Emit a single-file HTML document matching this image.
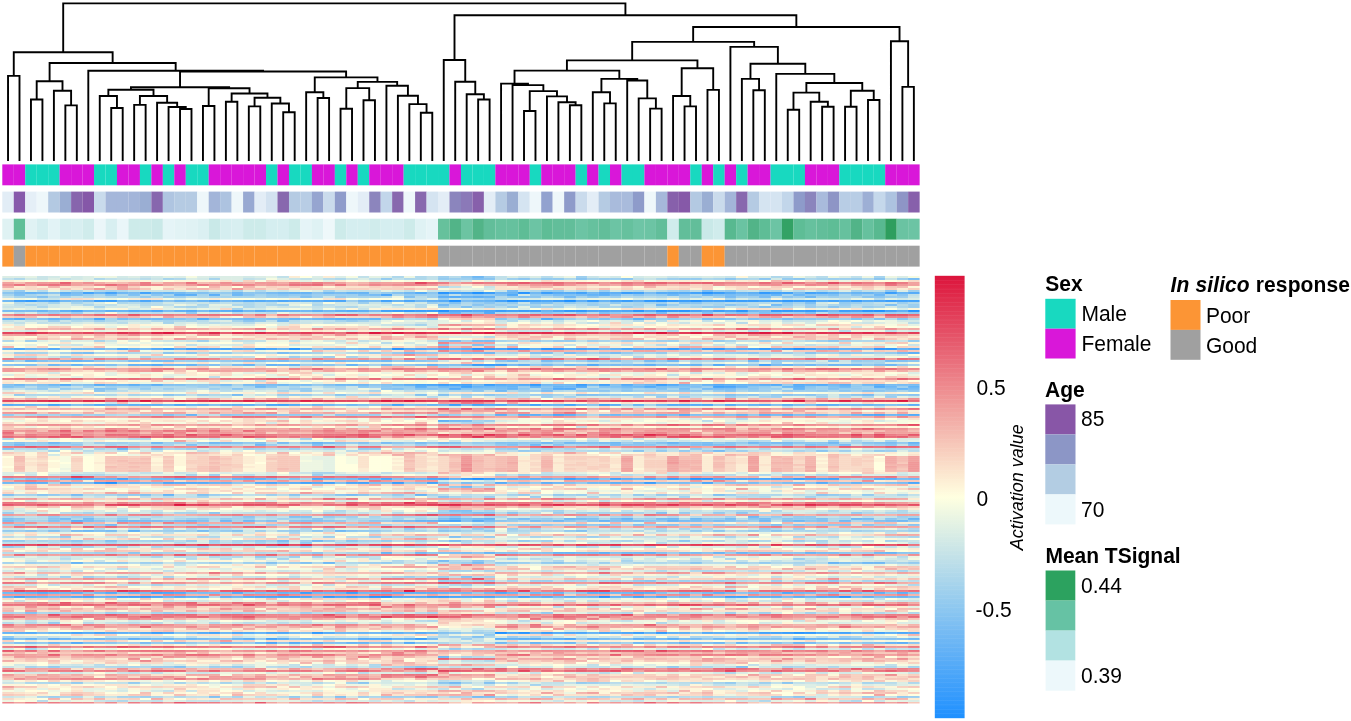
<!DOCTYPE html>
<html><head><meta charset="utf-8"><title>Heatmap</title>
<style>html,body{margin:0;padding:0;background:#fff;width:1351px;height:721px;overflow:hidden}svg{display:block;font-family:"Liberation Sans",sans-serif}#w{filter:blur(0.3px);width:1351px;height:721px}</style>
</head><body><div id="w"><svg width="1351" height="721" viewBox="0 0 1351 721" ><rect width="1351" height="721" fill="#fff"/><path d="M8.03 160.00V75.90H19.50V160.00M30.97 160.00V99.50H42.43V160.00M65.36 160.00V105.40H76.83V160.00M53.90 160.00V90.80H71.10V105.40M36.70 99.50V81.30H62.50V90.80M111.23 160.00V108.00H122.70V160.00M99.76 160.00V96.00H116.96V108.00M134.16 160.00V104.90H145.63V160.00M180.03 160.00V109.00H191.49V160.00M168.56 160.00V107.00H185.76V109.00M157.09 160.00V102.80H177.16V107.00M139.90 104.90V96.00H167.13V102.80M108.36 96.00V89.80H153.51V96.00M202.96 160.00V106.00H214.43V160.00M225.89 160.00V101.80H237.36V160.00M248.82 160.00V106.40H260.29V160.00M283.22 160.00V112.20H294.69V160.00M271.76 160.00V103.50H288.96V112.20M254.56 106.40V97.70H280.36V103.50M231.63 101.80V93.50H267.46V97.70M208.69 106.00V88.30H249.54V93.50M130.94 89.80V87.30H229.12V88.30M317.62 160.00V98.00H329.09V160.00M306.16 160.00V92.20H323.36V98.00M340.55 160.00V108.70H352.02V160.00M363.49 160.00V100.30H374.95V160.00M346.29 108.70V88.10H369.22V100.30M420.82 160.00V112.80H432.28V160.00M409.35 160.00V104.10H426.55V112.80M397.89 160.00V95.70H417.95V104.10M386.42 160.00V85.80H407.92V95.70M357.75 88.10V81.90H397.17V85.80M314.76 92.20V77.40H377.46V81.90M180.03 87.30V71.50H346.11V77.40M88.30 160.00V70.70H263.07V71.50M49.60 81.30V63.00H175.68V70.70M13.77 75.90V52.30H112.64V63.00M478.15 160.00V99.50H489.62V160.00M466.68 160.00V94.20H483.88V99.50M455.22 160.00V81.70H475.28V94.20M443.75 160.00V60.00H465.25V81.70M524.01 160.00V111.00H535.48V160.00M569.88 160.00V105.20H581.35V160.00M558.41 160.00V102.20H575.61V105.20M546.95 160.00V96.40H567.01V102.20M529.75 111.00V91.10H556.98V96.40M512.55 160.00V85.10H543.36V91.10M501.08 160.00V83.60H527.96V85.10M604.28 160.00V103.40H615.74V160.00M592.81 160.00V92.20H610.01V103.40M650.14 160.00V108.60H661.61V160.00M638.68 160.00V98.40H655.88V108.60M627.21 160.00V80.50H647.28V98.40M601.41 92.20V78.90H637.24V80.50M514.52 83.60V70.60H619.33V78.90M684.54 160.00V106.40H696.01V160.00M673.08 160.00V96.00H690.27V106.40M707.47 160.00V89.90H718.94V160.00M681.68 96.00V68.20H713.21V89.90M566.92 70.60V60.40H697.44V68.20M753.34 160.00V90.30H764.81V160.00M741.87 160.00V78.90H759.07V90.30M787.74 160.00V109.80H799.20V160.00M822.14 160.00V106.80H833.60V160.00M810.67 160.00V101.80H827.87V106.80M793.47 109.80V92.60H819.27V101.80M845.07 160.00V106.80H856.54V160.00M868.00 160.00V100.00H879.47V160.00M850.80 106.80V90.80H873.74V100.00M806.37 92.60V83.00H862.27V90.80M776.27 160.00V73.90H834.32V83.00M750.47 78.90V63.80H805.30V73.90M730.41 160.00V46.90H777.88V63.80M632.18 60.40V41.90H754.15V46.90M902.40 160.00V86.90H913.87V160.00M890.93 160.00V41.20H908.13V86.90M693.16 41.90V27.00H899.53V41.20M454.50 60.00V15.30H796.35V27.00M63.20 52.30V3.40H625.42V15.30" fill="none" stroke="#000" stroke-width="1.9" stroke-linejoin="miter" stroke-linecap="square"/><rect x="2.30" y="164.4" width="11.52" height="20.9" fill="#d917d9"/><rect x="2.30" y="191.6" width="11.52" height="20.9" fill="#e2edf6"/><rect x="2.30" y="218.7" width="11.52" height="20.9" fill="#dff2f3"/><rect x="2.30" y="245.7" width="11.52" height="20.9" fill="#fc9535"/><rect x="13.77" y="164.4" width="11.52" height="20.9" fill="#d917d9"/><rect x="13.77" y="191.6" width="11.52" height="20.9" fill="#875aab"/><rect x="13.77" y="218.7" width="11.52" height="20.9" fill="#5fbf98"/><rect x="13.77" y="245.7" width="11.52" height="20.9" fill="#a0a0a0"/><rect x="25.23" y="164.4" width="11.52" height="20.9" fill="#18d9c0"/><rect x="25.23" y="191.6" width="11.52" height="20.9" fill="#e5eff7"/><rect x="25.23" y="218.7" width="11.52" height="20.9" fill="#e0f2f4"/><rect x="25.23" y="245.7" width="11.52" height="20.9" fill="#fc9535"/><rect x="36.70" y="164.4" width="11.52" height="20.9" fill="#18d9c0"/><rect x="36.70" y="191.6" width="11.52" height="20.9" fill="#eef7fa"/><rect x="36.70" y="218.7" width="11.52" height="20.9" fill="#d5eef0"/><rect x="36.70" y="245.7" width="11.52" height="20.9" fill="#fc9535"/><rect x="48.16" y="164.4" width="11.52" height="20.9" fill="#18d9c0"/><rect x="48.16" y="191.6" width="11.52" height="20.9" fill="#b3c9e2"/><rect x="48.16" y="218.7" width="11.52" height="20.9" fill="#e2f3f6"/><rect x="48.16" y="245.7" width="11.52" height="20.9" fill="#fc9535"/><rect x="59.63" y="164.4" width="11.52" height="20.9" fill="#d917d9"/><rect x="59.63" y="191.6" width="11.52" height="20.9" fill="#9aaed3"/><rect x="59.63" y="218.7" width="11.52" height="20.9" fill="#d5eef0"/><rect x="59.63" y="245.7" width="11.52" height="20.9" fill="#fc9535"/><rect x="71.10" y="164.4" width="11.52" height="20.9" fill="#d917d9"/><rect x="71.10" y="191.6" width="11.52" height="20.9" fill="#8765ad"/><rect x="71.10" y="218.7" width="11.52" height="20.9" fill="#d8eff1"/><rect x="71.10" y="245.7" width="11.52" height="20.9" fill="#fc9535"/><rect x="82.56" y="164.4" width="11.52" height="20.9" fill="#d917d9"/><rect x="82.56" y="191.6" width="11.52" height="20.9" fill="#8557a8"/><rect x="82.56" y="218.7" width="11.52" height="20.9" fill="#d0ecec"/><rect x="82.56" y="245.7" width="11.52" height="20.9" fill="#fc9535"/><rect x="94.03" y="164.4" width="11.52" height="20.9" fill="#18d9c0"/><rect x="94.03" y="191.6" width="11.52" height="20.9" fill="#c9dbec"/><rect x="94.03" y="218.7" width="11.52" height="20.9" fill="#ebf6f9"/><rect x="94.03" y="245.7" width="11.52" height="20.9" fill="#fc9535"/><rect x="105.50" y="164.4" width="11.52" height="20.9" fill="#18d9c0"/><rect x="105.50" y="191.6" width="11.52" height="20.9" fill="#a5b7da"/><rect x="105.50" y="218.7" width="11.52" height="20.9" fill="#d8eff1"/><rect x="105.50" y="245.7" width="11.52" height="20.9" fill="#fc9535"/><rect x="116.96" y="164.4" width="11.52" height="20.9" fill="#d917d9"/><rect x="116.96" y="191.6" width="11.52" height="20.9" fill="#a5b7da"/><rect x="116.96" y="218.7" width="11.52" height="20.9" fill="#eaf6f9"/><rect x="116.96" y="245.7" width="11.52" height="20.9" fill="#fc9535"/><rect x="128.43" y="164.4" width="11.52" height="20.9" fill="#d917d9"/><rect x="128.43" y="191.6" width="11.52" height="20.9" fill="#a3b5d9"/><rect x="128.43" y="218.7" width="11.52" height="20.9" fill="#cdebea"/><rect x="128.43" y="245.7" width="11.52" height="20.9" fill="#fc9535"/><rect x="139.90" y="164.4" width="11.52" height="20.9" fill="#18d9c0"/><rect x="139.90" y="191.6" width="11.52" height="20.9" fill="#9aaed3"/><rect x="139.90" y="218.7" width="11.52" height="20.9" fill="#cdebea"/><rect x="139.90" y="245.7" width="11.52" height="20.9" fill="#fc9535"/><rect x="151.36" y="164.4" width="11.52" height="20.9" fill="#d917d9"/><rect x="151.36" y="191.6" width="11.52" height="20.9" fill="#8767ae"/><rect x="151.36" y="218.7" width="11.52" height="20.9" fill="#c9e9e8"/><rect x="151.36" y="245.7" width="11.52" height="20.9" fill="#fc9535"/><rect x="162.83" y="164.4" width="11.52" height="20.9" fill="#18d9c0"/><rect x="162.83" y="191.6" width="11.52" height="20.9" fill="#afc5e1"/><rect x="162.83" y="218.7" width="11.52" height="20.9" fill="#e5f4f7"/><rect x="162.83" y="245.7" width="11.52" height="20.9" fill="#fc9535"/><rect x="174.29" y="164.4" width="11.52" height="20.9" fill="#d917d9"/><rect x="174.29" y="191.6" width="11.52" height="20.9" fill="#b5cbe3"/><rect x="174.29" y="218.7" width="11.52" height="20.9" fill="#e2f3f5"/><rect x="174.29" y="245.7" width="11.52" height="20.9" fill="#fc9535"/><rect x="185.76" y="164.4" width="11.52" height="20.9" fill="#18d9c0"/><rect x="185.76" y="191.6" width="11.52" height="20.9" fill="#b5cbe3"/><rect x="185.76" y="218.7" width="11.52" height="20.9" fill="#e0f2f4"/><rect x="185.76" y="245.7" width="11.52" height="20.9" fill="#fc9535"/><rect x="197.23" y="164.4" width="11.52" height="20.9" fill="#18d9c0"/><rect x="197.23" y="191.6" width="11.52" height="20.9" fill="#eef7fa"/><rect x="197.23" y="218.7" width="11.52" height="20.9" fill="#dbf0f2"/><rect x="197.23" y="245.7" width="11.52" height="20.9" fill="#fc9535"/><rect x="208.69" y="164.4" width="11.52" height="20.9" fill="#d917d9"/><rect x="208.69" y="191.6" width="11.52" height="20.9" fill="#a3b5d9"/><rect x="208.69" y="218.7" width="11.52" height="20.9" fill="#c9e9e8"/><rect x="208.69" y="245.7" width="11.52" height="20.9" fill="#fc9535"/><rect x="220.16" y="164.4" width="11.52" height="20.9" fill="#d917d9"/><rect x="220.16" y="191.6" width="11.52" height="20.9" fill="#adc3e0"/><rect x="220.16" y="218.7" width="11.52" height="20.9" fill="#d5eef0"/><rect x="220.16" y="245.7" width="11.52" height="20.9" fill="#fc9535"/><rect x="231.63" y="164.4" width="11.52" height="20.9" fill="#d917d9"/><rect x="231.63" y="191.6" width="11.52" height="20.9" fill="#eef7fa"/><rect x="231.63" y="218.7" width="11.52" height="20.9" fill="#d8eff1"/><rect x="231.63" y="245.7" width="11.52" height="20.9" fill="#fc9535"/><rect x="243.09" y="164.4" width="11.52" height="20.9" fill="#d917d9"/><rect x="243.09" y="191.6" width="11.52" height="20.9" fill="#98a9d2"/><rect x="243.09" y="218.7" width="11.52" height="20.9" fill="#cdebea"/><rect x="243.09" y="245.7" width="11.52" height="20.9" fill="#fc9535"/><rect x="254.56" y="164.4" width="11.52" height="20.9" fill="#d917d9"/><rect x="254.56" y="191.6" width="11.52" height="20.9" fill="#e3edf6"/><rect x="254.56" y="218.7" width="11.52" height="20.9" fill="#cdebea"/><rect x="254.56" y="245.7" width="11.52" height="20.9" fill="#fc9535"/><rect x="266.02" y="164.4" width="11.52" height="20.9" fill="#18d9c0"/><rect x="266.02" y="191.6" width="11.52" height="20.9" fill="#d3e2f0"/><rect x="266.02" y="218.7" width="11.52" height="20.9" fill="#d5eef0"/><rect x="266.02" y="245.7" width="11.52" height="20.9" fill="#fc9535"/><rect x="277.49" y="164.4" width="11.52" height="20.9" fill="#d917d9"/><rect x="277.49" y="191.6" width="11.52" height="20.9" fill="#8868ae"/><rect x="277.49" y="218.7" width="11.52" height="20.9" fill="#d5eef0"/><rect x="277.49" y="245.7" width="11.52" height="20.9" fill="#fc9535"/><rect x="288.96" y="164.4" width="11.52" height="20.9" fill="#18d9c0"/><rect x="288.96" y="191.6" width="11.52" height="20.9" fill="#b5cbe3"/><rect x="288.96" y="218.7" width="11.52" height="20.9" fill="#cdebea"/><rect x="288.96" y="245.7" width="11.52" height="20.9" fill="#fc9535"/><rect x="300.42" y="164.4" width="11.52" height="20.9" fill="#18d9c0"/><rect x="300.42" y="191.6" width="11.52" height="20.9" fill="#b8cde5"/><rect x="300.42" y="218.7" width="11.52" height="20.9" fill="#e5f4f7"/><rect x="300.42" y="245.7" width="11.52" height="20.9" fill="#fc9535"/><rect x="311.89" y="164.4" width="11.52" height="20.9" fill="#d917d9"/><rect x="311.89" y="191.6" width="11.52" height="20.9" fill="#96a5d0"/><rect x="311.89" y="218.7" width="11.52" height="20.9" fill="#dff2f4"/><rect x="311.89" y="245.7" width="11.52" height="20.9" fill="#fc9535"/><rect x="323.36" y="164.4" width="11.52" height="20.9" fill="#d917d9"/><rect x="323.36" y="191.6" width="11.52" height="20.9" fill="#cadbec"/><rect x="323.36" y="218.7" width="11.52" height="20.9" fill="#eef8fa"/><rect x="323.36" y="245.7" width="11.52" height="20.9" fill="#fc9535"/><rect x="334.82" y="164.4" width="11.52" height="20.9" fill="#18d9c0"/><rect x="334.82" y="191.6" width="11.52" height="20.9" fill="#8f9ccb"/><rect x="334.82" y="218.7" width="11.52" height="20.9" fill="#cdebea"/><rect x="334.82" y="245.7" width="11.52" height="20.9" fill="#fc9535"/><rect x="346.29" y="164.4" width="11.52" height="20.9" fill="#d917d9"/><rect x="346.29" y="191.6" width="11.52" height="20.9" fill="#eef7fa"/><rect x="346.29" y="218.7" width="11.52" height="20.9" fill="#d5eef0"/><rect x="346.29" y="245.7" width="11.52" height="20.9" fill="#fc9535"/><rect x="357.75" y="164.4" width="11.52" height="20.9" fill="#18d9c0"/><rect x="357.75" y="191.6" width="11.52" height="20.9" fill="#e3edf6"/><rect x="357.75" y="218.7" width="11.52" height="20.9" fill="#d5eef0"/><rect x="357.75" y="245.7" width="11.52" height="20.9" fill="#fc9535"/><rect x="369.22" y="164.4" width="11.52" height="20.9" fill="#d917d9"/><rect x="369.22" y="191.6" width="11.52" height="20.9" fill="#8c85bd"/><rect x="369.22" y="218.7" width="11.52" height="20.9" fill="#d0ecec"/><rect x="369.22" y="245.7" width="11.52" height="20.9" fill="#fc9535"/><rect x="380.69" y="164.4" width="11.52" height="20.9" fill="#d917d9"/><rect x="380.69" y="191.6" width="11.52" height="20.9" fill="#c2d6ea"/><rect x="380.69" y="218.7" width="11.52" height="20.9" fill="#d5eef0"/><rect x="380.69" y="245.7" width="11.52" height="20.9" fill="#fc9535"/><rect x="392.15" y="164.4" width="11.52" height="20.9" fill="#d917d9"/><rect x="392.15" y="191.6" width="11.52" height="20.9" fill="#8868ae"/><rect x="392.15" y="218.7" width="11.52" height="20.9" fill="#d5eef0"/><rect x="392.15" y="245.7" width="11.52" height="20.9" fill="#fc9535"/><rect x="403.62" y="164.4" width="11.52" height="20.9" fill="#18d9c0"/><rect x="403.62" y="191.6" width="11.52" height="20.9" fill="#eef7fa"/><rect x="403.62" y="218.7" width="11.52" height="20.9" fill="#cdebea"/><rect x="403.62" y="245.7" width="11.52" height="20.9" fill="#fc9535"/><rect x="415.09" y="164.4" width="11.52" height="20.9" fill="#18d9c0"/><rect x="415.09" y="191.6" width="11.52" height="20.9" fill="#8868ae"/><rect x="415.09" y="218.7" width="11.52" height="20.9" fill="#dff2f4"/><rect x="415.09" y="245.7" width="11.52" height="20.9" fill="#fc9535"/><rect x="426.55" y="164.4" width="11.52" height="20.9" fill="#18d9c0"/><rect x="426.55" y="191.6" width="11.52" height="20.9" fill="#d5e4f1"/><rect x="426.55" y="218.7" width="11.52" height="20.9" fill="#e5f4f7"/><rect x="426.55" y="245.7" width="11.52" height="20.9" fill="#fc9535"/><rect x="438.02" y="164.4" width="11.52" height="20.9" fill="#18d9c0"/><rect x="438.02" y="191.6" width="11.52" height="20.9" fill="#e3edf6"/><rect x="438.02" y="218.7" width="11.52" height="20.9" fill="#66c19c"/><rect x="438.02" y="245.7" width="11.52" height="20.9" fill="#a0a0a0"/><rect x="449.48" y="164.4" width="11.52" height="20.9" fill="#d917d9"/><rect x="449.48" y="191.6" width="11.52" height="20.9" fill="#8b85bd"/><rect x="449.48" y="218.7" width="11.52" height="20.9" fill="#52b488"/><rect x="449.48" y="245.7" width="11.52" height="20.9" fill="#a0a0a0"/><rect x="460.95" y="164.4" width="11.52" height="20.9" fill="#18d9c0"/><rect x="460.95" y="191.6" width="11.52" height="20.9" fill="#8b79b8"/><rect x="460.95" y="218.7" width="11.52" height="20.9" fill="#6cc4a2"/><rect x="460.95" y="245.7" width="11.52" height="20.9" fill="#a0a0a0"/><rect x="472.42" y="164.4" width="11.52" height="20.9" fill="#18d9c0"/><rect x="472.42" y="191.6" width="11.52" height="20.9" fill="#8760ab"/><rect x="472.42" y="218.7" width="11.52" height="20.9" fill="#52b488"/><rect x="472.42" y="245.7" width="11.52" height="20.9" fill="#a0a0a0"/><rect x="483.88" y="164.4" width="11.52" height="20.9" fill="#18d9c0"/><rect x="483.88" y="191.6" width="11.52" height="20.9" fill="#e3edf6"/><rect x="483.88" y="218.7" width="11.52" height="20.9" fill="#62be9a"/><rect x="483.88" y="245.7" width="11.52" height="20.9" fill="#a0a0a0"/><rect x="495.35" y="164.4" width="11.52" height="20.9" fill="#d917d9"/><rect x="495.35" y="191.6" width="11.52" height="20.9" fill="#b5cbe3"/><rect x="495.35" y="218.7" width="11.52" height="20.9" fill="#66c19e"/><rect x="495.35" y="245.7" width="11.52" height="20.9" fill="#a0a0a0"/><rect x="506.82" y="164.4" width="11.52" height="20.9" fill="#d917d9"/><rect x="506.82" y="191.6" width="11.52" height="20.9" fill="#9aaed3"/><rect x="506.82" y="218.7" width="11.52" height="20.9" fill="#66c19e"/><rect x="506.82" y="245.7" width="11.52" height="20.9" fill="#a0a0a0"/><rect x="518.28" y="164.4" width="11.52" height="20.9" fill="#d917d9"/><rect x="518.28" y="191.6" width="11.52" height="20.9" fill="#d5e4f1"/><rect x="518.28" y="218.7" width="11.52" height="20.9" fill="#5ebd96"/><rect x="518.28" y="245.7" width="11.52" height="20.9" fill="#a0a0a0"/><rect x="529.75" y="164.4" width="11.52" height="20.9" fill="#18d9c0"/><rect x="529.75" y="191.6" width="11.52" height="20.9" fill="#eef7fa"/><rect x="529.75" y="218.7" width="11.52" height="20.9" fill="#6cc4a4"/><rect x="529.75" y="245.7" width="11.52" height="20.9" fill="#a0a0a0"/><rect x="541.21" y="164.4" width="11.52" height="20.9" fill="#d917d9"/><rect x="541.21" y="191.6" width="11.52" height="20.9" fill="#92a2cf"/><rect x="541.21" y="218.7" width="11.52" height="20.9" fill="#5ebd96"/><rect x="541.21" y="245.7" width="11.52" height="20.9" fill="#a0a0a0"/><rect x="552.68" y="164.4" width="11.52" height="20.9" fill="#d917d9"/><rect x="552.68" y="191.6" width="11.52" height="20.9" fill="#eef7fa"/><rect x="552.68" y="218.7" width="11.52" height="20.9" fill="#62be9a"/><rect x="552.68" y="245.7" width="11.52" height="20.9" fill="#a0a0a0"/><rect x="564.15" y="164.4" width="11.52" height="20.9" fill="#d917d9"/><rect x="564.15" y="191.6" width="11.52" height="20.9" fill="#8e9bca"/><rect x="564.15" y="218.7" width="11.52" height="20.9" fill="#62be9a"/><rect x="564.15" y="245.7" width="11.52" height="20.9" fill="#a0a0a0"/><rect x="575.61" y="164.4" width="11.52" height="20.9" fill="#18d9c0"/><rect x="575.61" y="191.6" width="11.52" height="20.9" fill="#cadbec"/><rect x="575.61" y="218.7" width="11.52" height="20.9" fill="#6cc4a4"/><rect x="575.61" y="245.7" width="11.52" height="20.9" fill="#a0a0a0"/><rect x="587.08" y="164.4" width="11.52" height="20.9" fill="#d917d9"/><rect x="587.08" y="191.6" width="11.52" height="20.9" fill="#e3edf6"/><rect x="587.08" y="218.7" width="11.52" height="20.9" fill="#66c19e"/><rect x="587.08" y="245.7" width="11.52" height="20.9" fill="#a0a0a0"/><rect x="598.54" y="164.4" width="11.52" height="20.9" fill="#18d9c0"/><rect x="598.54" y="191.6" width="11.52" height="20.9" fill="#b5cbe3"/><rect x="598.54" y="218.7" width="11.52" height="20.9" fill="#62be9a"/><rect x="598.54" y="245.7" width="11.52" height="20.9" fill="#a0a0a0"/><rect x="610.01" y="164.4" width="11.52" height="20.9" fill="#d917d9"/><rect x="610.01" y="191.6" width="11.52" height="20.9" fill="#a9bbdc"/><rect x="610.01" y="218.7" width="11.52" height="20.9" fill="#6cc4a4"/><rect x="610.01" y="245.7" width="11.52" height="20.9" fill="#a0a0a0"/><rect x="621.48" y="164.4" width="11.52" height="20.9" fill="#18d9c0"/><rect x="621.48" y="191.6" width="11.52" height="20.9" fill="#a9bbdc"/><rect x="621.48" y="218.7" width="11.52" height="20.9" fill="#66c19e"/><rect x="621.48" y="245.7" width="11.52" height="20.9" fill="#a0a0a0"/><rect x="632.94" y="164.4" width="11.52" height="20.9" fill="#18d9c0"/><rect x="632.94" y="191.6" width="11.52" height="20.9" fill="#8e9bca"/><rect x="632.94" y="218.7" width="11.52" height="20.9" fill="#6ec5a6"/><rect x="632.94" y="245.7" width="11.52" height="20.9" fill="#a0a0a0"/><rect x="644.41" y="164.4" width="11.52" height="20.9" fill="#d917d9"/><rect x="644.41" y="191.6" width="11.52" height="20.9" fill="#eef7fa"/><rect x="644.41" y="218.7" width="11.52" height="20.9" fill="#6cc4a4"/><rect x="644.41" y="245.7" width="11.52" height="20.9" fill="#a0a0a0"/><rect x="655.88" y="164.4" width="11.52" height="20.9" fill="#d917d9"/><rect x="655.88" y="191.6" width="11.52" height="20.9" fill="#a6b8da"/><rect x="655.88" y="218.7" width="11.52" height="20.9" fill="#62be9a"/><rect x="655.88" y="245.7" width="11.52" height="20.9" fill="#a0a0a0"/><rect x="667.34" y="164.4" width="11.52" height="20.9" fill="#d917d9"/><rect x="667.34" y="191.6" width="11.52" height="20.9" fill="#8760ab"/><rect x="667.34" y="218.7" width="11.52" height="20.9" fill="#d0ecec"/><rect x="667.34" y="245.7" width="11.52" height="20.9" fill="#fc9535"/><rect x="678.81" y="164.4" width="11.52" height="20.9" fill="#d917d9"/><rect x="678.81" y="191.6" width="11.52" height="20.9" fill="#8659a8"/><rect x="678.81" y="218.7" width="11.52" height="20.9" fill="#62be9a"/><rect x="678.81" y="245.7" width="11.52" height="20.9" fill="#a0a0a0"/><rect x="690.27" y="164.4" width="11.52" height="20.9" fill="#18d9c0"/><rect x="690.27" y="191.6" width="11.52" height="20.9" fill="#b3c9e2"/><rect x="690.27" y="218.7" width="11.52" height="20.9" fill="#62be9a"/><rect x="690.27" y="245.7" width="11.52" height="20.9" fill="#a0a0a0"/><rect x="701.74" y="164.4" width="11.52" height="20.9" fill="#d917d9"/><rect x="701.74" y="191.6" width="11.52" height="20.9" fill="#9aaed3"/><rect x="701.74" y="218.7" width="11.52" height="20.9" fill="#c9e9e8"/><rect x="701.74" y="245.7" width="11.52" height="20.9" fill="#fc9535"/><rect x="713.21" y="164.4" width="11.52" height="20.9" fill="#18d9c0"/><rect x="713.21" y="191.6" width="11.52" height="20.9" fill="#cadbec"/><rect x="713.21" y="218.7" width="11.52" height="20.9" fill="#d0ecec"/><rect x="713.21" y="245.7" width="11.52" height="20.9" fill="#fc9535"/><rect x="724.67" y="164.4" width="11.52" height="20.9" fill="#d917d9"/><rect x="724.67" y="191.6" width="11.52" height="20.9" fill="#a3b5d9"/><rect x="724.67" y="218.7" width="11.52" height="20.9" fill="#58b990"/><rect x="724.67" y="245.7" width="11.52" height="20.9" fill="#a0a0a0"/><rect x="736.14" y="164.4" width="11.52" height="20.9" fill="#18d9c0"/><rect x="736.14" y="191.6" width="11.52" height="20.9" fill="#8868ae"/><rect x="736.14" y="218.7" width="11.52" height="20.9" fill="#6ac3a2"/><rect x="736.14" y="245.7" width="11.52" height="20.9" fill="#a0a0a0"/><rect x="747.61" y="164.4" width="11.52" height="20.9" fill="#d917d9"/><rect x="747.61" y="191.6" width="11.52" height="20.9" fill="#b5cbe3"/><rect x="747.61" y="218.7" width="11.52" height="20.9" fill="#52b488"/><rect x="747.61" y="245.7" width="11.52" height="20.9" fill="#a0a0a0"/><rect x="759.07" y="164.4" width="11.52" height="20.9" fill="#d917d9"/><rect x="759.07" y="191.6" width="11.52" height="20.9" fill="#d5e4f1"/><rect x="759.07" y="218.7" width="11.52" height="20.9" fill="#5ebd96"/><rect x="759.07" y="245.7" width="11.52" height="20.9" fill="#a0a0a0"/><rect x="770.54" y="164.4" width="11.52" height="20.9" fill="#18d9c0"/><rect x="770.54" y="191.6" width="11.52" height="20.9" fill="#d5e4f1"/><rect x="770.54" y="218.7" width="11.52" height="20.9" fill="#6cc4a4"/><rect x="770.54" y="245.7" width="11.52" height="20.9" fill="#a0a0a0"/><rect x="782.00" y="164.4" width="11.52" height="20.9" fill="#18d9c0"/><rect x="782.00" y="191.6" width="11.52" height="20.9" fill="#c2d6ea"/><rect x="782.00" y="218.7" width="11.52" height="20.9" fill="#33a265"/><rect x="782.00" y="245.7" width="11.52" height="20.9" fill="#a0a0a0"/><rect x="793.47" y="164.4" width="11.52" height="20.9" fill="#18d9c0"/><rect x="793.47" y="191.6" width="11.52" height="20.9" fill="#8e9bca"/><rect x="793.47" y="218.7" width="11.52" height="20.9" fill="#5ebd96"/><rect x="793.47" y="245.7" width="11.52" height="20.9" fill="#a0a0a0"/><rect x="804.94" y="164.4" width="11.52" height="20.9" fill="#d917d9"/><rect x="804.94" y="191.6" width="11.52" height="20.9" fill="#8b85bd"/><rect x="804.94" y="218.7" width="11.52" height="20.9" fill="#66c19e"/><rect x="804.94" y="245.7" width="11.52" height="20.9" fill="#a0a0a0"/><rect x="816.40" y="164.4" width="11.52" height="20.9" fill="#d917d9"/><rect x="816.40" y="191.6" width="11.52" height="20.9" fill="#a9bbdc"/><rect x="816.40" y="218.7" width="11.52" height="20.9" fill="#62be9a"/><rect x="816.40" y="245.7" width="11.52" height="20.9" fill="#a0a0a0"/><rect x="827.87" y="164.4" width="11.52" height="20.9" fill="#d917d9"/><rect x="827.87" y="191.6" width="11.52" height="20.9" fill="#8e95c6"/><rect x="827.87" y="218.7" width="11.52" height="20.9" fill="#5ebd96"/><rect x="827.87" y="245.7" width="11.52" height="20.9" fill="#a0a0a0"/><rect x="839.34" y="164.4" width="11.52" height="20.9" fill="#18d9c0"/><rect x="839.34" y="191.6" width="11.52" height="20.9" fill="#b8cde5"/><rect x="839.34" y="218.7" width="11.52" height="20.9" fill="#66c19e"/><rect x="839.34" y="245.7" width="11.52" height="20.9" fill="#a0a0a0"/><rect x="850.80" y="164.4" width="11.52" height="20.9" fill="#18d9c0"/><rect x="850.80" y="191.6" width="11.52" height="20.9" fill="#b8cde5"/><rect x="850.80" y="218.7" width="11.52" height="20.9" fill="#52b488"/><rect x="850.80" y="245.7" width="11.52" height="20.9" fill="#a0a0a0"/><rect x="862.27" y="164.4" width="11.52" height="20.9" fill="#18d9c0"/><rect x="862.27" y="191.6" width="11.52" height="20.9" fill="#9dafd5"/><rect x="862.27" y="218.7" width="11.52" height="20.9" fill="#66c19e"/><rect x="862.27" y="245.7" width="11.52" height="20.9" fill="#a0a0a0"/><rect x="873.74" y="164.4" width="11.52" height="20.9" fill="#18d9c0"/><rect x="873.74" y="191.6" width="11.52" height="20.9" fill="#c5d8eb"/><rect x="873.74" y="218.7" width="11.52" height="20.9" fill="#58b990"/><rect x="873.74" y="245.7" width="11.52" height="20.9" fill="#a0a0a0"/><rect x="885.20" y="164.4" width="11.52" height="20.9" fill="#d917d9"/><rect x="885.20" y="191.6" width="11.52" height="20.9" fill="#adc3e0"/><rect x="885.20" y="218.7" width="11.52" height="20.9" fill="#2e9e5e"/><rect x="885.20" y="245.7" width="11.52" height="20.9" fill="#a0a0a0"/><rect x="896.67" y="164.4" width="11.52" height="20.9" fill="#d917d9"/><rect x="896.67" y="191.6" width="11.52" height="20.9" fill="#8e95c6"/><rect x="896.67" y="218.7" width="11.52" height="20.9" fill="#6ac3a2"/><rect x="896.67" y="245.7" width="11.52" height="20.9" fill="#a0a0a0"/><rect x="908.13" y="164.4" width="11.52" height="20.9" fill="#d917d9"/><rect x="908.13" y="191.6" width="11.52" height="20.9" fill="#8760ab"/><rect x="908.13" y="218.7" width="11.52" height="20.9" fill="#6cc4a4"/><rect x="908.13" y="245.7" width="11.52" height="20.9" fill="#a0a0a0"/><svg x="2.3" y="275.6" width="917.30" height="427.90" viewBox="0 0 80 214" preserveAspectRatio="none" shape-rendering="crispEdges"><g fill="none" stroke-width="1"><path stroke="#dbede5" d="M0 0.5h1m0 0h1m5 0h1m3 0h1m3 0h1m1 0h1m1 0h1m0 0h1m1 0h1m4 0h1m1 0h1m3 0h1m10 0h1m1 0h1m1 0h1m3 0h1m3 0h1m0 0h1m3 0h1m4 0h1m6 0h1m4 0h1M4 1.5h1m2 0h1m8 0h1m2 0h1m0 0h1m3 0h1m6 0h1M20 2.5h1M40 5.5h1M2 7.5h1m15 0h1m2 0h1m3 0h1m1 0h1m45 0h1m4 0h1M15 11.5h1m29 0h1m0 0h1m3 0h1m4 0h1m1 0h1m6 0h1m6 0h1m0 0h1m6 0h1M8 13.5h1m15 0h1m0 0h1M5 14.5h1m4 0h1m5 0h1m15 0h1m2 0h1M5 15.5h1m8 0h1m3 0h1m4 0h1M0 16.5h1m1 0h1m5 0h1m2 0h1m4 0h1m4 0h1m19 0h1m1 0h1m1 0h1m32 0h1M2 18.5h1m14 0h1m15 0h1M19 22.5h1m17 0h1m14 0h1m10 0h1m2 0h1m4 0h1m3 0h1M7 23.5h1m3 0h1m4 0h1m5 0h1m0 0h1m10 0h1m0 0h1m1 0h1m14 0h1m5 0h1m3 0h1m13 0h1M1 24.5h1m13 0h1m4 0h1m0 0h1m2 0h1m7 0h1m4 0h1M55 25.5h1M1 27.5h1m20 0h1m26 0h1m1 0h1m3 0h1m1 0h1m2 0h1m5 0h1m1 0h1m9 0h1M39 30.5h1m0 0h1m0 0h1M3 32.5h1m2 0h1m0 0h1M29 33.5h1M14 34.5h1m4 0h1m31 0h1m4 0h1m12 0h1m6 0h1M43 39.5h1m0 0h1m8 0h1m3 0h1m2 0h1m1 0h1m2 0h1M3 40.5h1m19 0h1m24 0h1m0 0h1m3 0h1m8 0h1m0 0h1m2 0h1m6 0h1m0 0h1m0 0h1m0 0h1M26 43.5h1m0 0h1m22 0h1m10 0h1m10 0h1m4 0h1m0 0h1M9 45.5h1M22 48.5h1m39 0h1m1 0h1m14 0h1M0 49.5h1m39 0h1m11 0h1M14 50.5h1M19 52.5h1M27 56.5h1m4 0h1M0 57.5h1m1 0h1m2 0h1m17 0h1M52 58.5h1m7 0h1M21 59.5h1M17 60.5h1m13 0h1m2 0h1m3 0h1m3 0h1m8 0h1m0 0h1M22 63.5h1m37 0h1M16 65.5h1m14 0h1m7 0h1m14 0h1m3 0h1m0 0h1m14 0h1M33 69.5h1m2 0h1M24 71.5h1m10 0h1M43 72.5h1M31 75.5h1M9 81.5h1m18 0h1m1 0h1m1 0h1m14 0h1m9 0h1m16 0h1m3 0h1m0 0h1M35 82.5h1m1 0h1m4 0h1m0 0h1m14 0h1m1 0h1m1 0h1m15 0h1M30 84.5h1M7 86.5h1m30 0h1m12 0h1m15 0h1M6 87.5h1m13 0h1m4 0h1m1 0h1m4 0h1m3 0h1m2 0h1m1 0h1m36 0h1M0 98.5h1m0 0h1m17 0h1m9 0h1m4 0h1m2 0h1m10 0h1m0 0h1m11 0h1m2 0h1M0 99.5h1m11 0h1m2 0h1m6 0h1m2 0h1m13 0h1m11 0h1m5 0h1m17 0h1m0 0h1m0 0h1m1 0h1M41 102.5h1M27 105.5h1m16 0h1m23 0h1m4 0h1M35 107.5h1m0 0h1m14 0h1m4 0h1m2 0h1m5 0h1m4 0h1M39 109.5h1M2 110.5h1m15 0h1m10 0h1m24 0h1m6 0h1m0 0h1m16 0h1M2 112.5h1m20 0h1m6 0h1m9 0h1m8 0h1m7 0h1m13 0h1m0 0h1M1 116.5h1m8 0h1m41 0h1M7 117.5h1m0 0h1m25 0h1m8 0h1m1 0h1m22 0h1m0 0h1m0 0h1m5 0h1m2 0h1M1 118.5h1m25 0h1m30 0h1m10 0h1M59 120.5h1M41 123.5h1M12 126.5h1m8 0h1m33 0h1m2 0h1m17 0h1M56 127.5h1M9 128.5h1m28 0h1m3 0h1m0 0h1m8 0h1m4 0h1m17 0h1M18 129.5h1M16 130.5h1m3 0h1m4 0h1m1 0h1m25 0h1m13 0h1m8 0h1M56 131.5h1m6 0h1m8 0h1M17 132.5h1m30 0h1m14 0h1m8 0h1M14 133.5h1m2 0h1m7 0h1m43 0h1m3 0h1M4 135.5h1m17 0h1m7 0h1m0 0h1m11 0h1m17 0h1m0 0h1m0 0h1m4 0h1M39 136.5h1M4 140.5h1m9 0h1m2 0h1m3 0h1m24 0h1m9 0h1m2 0h1m0 0h1m4 0h1m3 0h1m0 0h1m2 0h1M2 141.5h1m0 0h1m0 0h1m13 0h1m8 0h1m1 0h1m6 0h1m8 0h1m28 0h1m0 0h1M5 142.5h1m17 0h1m9 0h1m2 0h1m14 0h1m0 0h1m19 0h1m1 0h1M13 144.5h1m39 0h1m11 0h1m1 0h1m4 0h1m5 0h1M1 146.5h1m1 0h1m0 0h1m4 0h1m8 0h1m0 0h1M22 147.5h1m0 0h1m6 0h1m5 0h1m9 0h1m1 0h1m6 0h1m3 0h1m16 0h1M13 149.5h1m11 0h1m33 0h1m5 0h1M0 150.5h1m14 0h1m1 0h1m0 0h1m7 0h1m3 0h1m1 0h1m12 0h1m1 0h1m3 0h1m4 0h1m0 0h1m12 0h1m2 0h1m5 0h1M11 152.5h1m19 0h1m0 0h1m3 0h1m8 0h1m20 0h1M1 154.5h1m3 0h1m12 0h1m11 0h1m1 0h1m10 0h1m1 0h1m18 0h1m4 0h1m8 0h1M24 156.5h1M53 161.5h1m10 0h1m2 0h1m11 0h1M4 162.5h1m5 0h1m0 0h1m3 0h1m12 0h1m4 0h1m9 0h1m4 0h1m22 0h1m0 0h1M54 165.5h1m11 0h1m4 0h1m0 0h1m3 0h1M45 168.5h1m18 0h1m13 0h1M7 172.5h1m4 0h1m1 0h1m0 0h1m1 0h1m6 0h1m8 0h1m12 0h1m27 0h1M8 173.5h1m8 0h1m1 0h1m14 0h1m10 0h1m5 0h1m6 0h1m8 0h1m5 0h1m4 0h1m0 0h1M38 176.5h1m3 0h1M18 180.5h1m6 0h1m4 0h1m3 0h1m16 0h1m11 0h1m8 0h1m2 0h1m3 0h1M38 181.5h1M43 182.5h1M2 184.5h1m13 0h1M0 186.5h1m4 0h1m30 0h1m7 0h1m9 0h1m4 0h1m0 0h1m5 0h1m1 0h1m2 0h1m0 0h1M14 193.5h1m25 0h1m1 0h1M4 194.5h1m2 0h1m2 0h1m3 0h1m41 0h1m4 0h1m6 0h1m0 0h1M1 195.5h1m76 0h1M1 198.5h1m10 0h1m10 0h1m1 0h1m3 0h1m2 0h1m0 0h1m30 0h1m4 0h1M0 202.5h1m40 0h1M13 203.5h1m10 0h1m7 0h1m3 0h1m9 0h1m27 0h1m3 0h1M35 204.5h1m1 0h1m6 0h1m7 0h1m3 0h1m4 0h1m7 0h1m0 0h1m2 0h1m1 0h1m2 0h1M70 205.5h1M10 206.5h1m9 0h1m16 0h1m7 0h1m16 0h1m0 0h1M23 207.5h1m3 0h1m30 0h1m5 0h1M72 210.5h1M5 212.5h1m9 0h1m3 0h1m0 0h1m9 0h1m0 0h1m5 0h1m9 0h1m4 0h1m4 0h1m2 0h1m0 0h1m0 0h1m7 0h1m8 0h1"/><path stroke="#e4f2e4" d="M2 0.5h1m2 0h1m8 0h1m8 0h1m8 0h1M26 2.5h1m1 0h1m3 0h1m9 0h1M41 6.5h1M16 7.5h1m16 0h1M37 11.5h1m18 0h1m3 0h1m9 0h1m6 0h1M72 13.5h1M18 14.5h1m0 0h1m5 0h1m5 0h1m5 0h1m28 0h1M7 15.5h1m3 0h1m8 0h1m12 0h1m11 0h1M3 16.5h1m8 0h1m1 0h1m3 0h1m56 0h1M0 18.5h1m18 0h1M33 22.5h1m1 0h1m2 0h1m6 0h1m1 0h1m1 0h1m0 0h1m2 0h1m13 0h1M2 23.5h1m10 0h1m24 0h1m7 0h1m19 0h1m11 0h1M17 24.5h1m1 0h1m59 0h1M9 25.5h1m17 0h1m24 0h1m1 0h1m16 0h1m0 0h1M0 27.5h1m7 0h1m16 0h1m4 0h1m12 0h1m8 0h1m1 0h1m8 0h1m0 0h1m4 0h1m2 0h1M1 32.5h1m24 0h1m3 0h1m5 0h1M9 33.5h1m21 0h1M2 34.5h1m7 0h1m0 0h1m1 0h1m3 0h1m0 0h1m7 0h1m0 0h1m0 0h1m1 0h1m1 0h1m15 0h1m3 0h1m12 0h1M14 37.5h1M63 39.5h1m3 0h1m0 0h1M17 40.5h1m16 0h1m23 0h1m10 0h1m2 0h1M16 43.5h1m3 0h1m11 0h1m0 0h1m15 0h1m12 0h1m3 0h1M9 48.5h1m11 0h1m5 0h1m22 0h1m2 0h1m1 0h1M9 49.5h1m4 0h1m0 0h1m7 0h1m7 0h1m4 0h1m18 0h1m8 0h1m8 0h1M2 50.5h1m3 0h1m17 0h1m11 0h1m15 0h1m0 0h1M16 52.5h1m3 0h1m5 0h1m4 0h1m19 0h1m7 0h1M6 53.5h1m20 0h1m19 0h1M6 57.5h1m14 0h1M9 58.5h1m26 0h1m39 0h1M0 59.5h1m36 0h1M14 60.5h1m6 0h1m4 0h1m6 0h1m2 0h1m21 0h1m9 0h1m0 0h1m8 0h1M11 63.5h1m61 0h1M23 65.5h1m6 0h1m7 0h1m2 0h1m9 0h1m4 0h1m12 0h1M28 67.5h1M0 71.5h1m25 0h1m0 0h1m2 0h1m2 0h1m15 0h1m9 0h1m3 0h1m2 0h1m7 0h1M44 72.5h1m18 0h1m0 0h1m12 0h1M57 73.5h1m14 0h1m0 0h1M4 81.5h1m11 0h1m0 0h1m7 0h1m5 0h1m9 0h1m2 0h1m4 0h1m3 0h1m8 0h1m1 0h1m3 0h1M7 82.5h1m25 0h1m0 0h1m15 0h1m19 0h1m0 0h1m1 0h1m2 0h1m2 0h1M30 86.5h1m4 0h1m9 0h1m7 0h1m5 0h1M0 87.5h1m25 0h1m7 0h1M29 88.5h1m43 0h1M27 90.5h1m0 0h1M27 91.5h1m0 0h1M28 92.5h1M28 93.5h1M28 94.5h1M28 95.5h1M28 96.5h1M27 97.5h1m0 0h1M4 98.5h1m4 0h1m0 0h1m7 0h1m2 0h1m0 0h1m8 0h1m0 0h1m17 0h1m28 0h1M13 99.5h1m0 0h1m2 0h1m15 0h1m30 0h1m8 0h1M14 105.5h1m8 0h1m21 0h1m14 0h1M53 107.5h1m1 0h1m1 0h1m6 0h1m10 0h1M48 108.5h1m21 0h1m7 0h1M1 110.5h1m3 0h1m3 0h1m9 0h1m7 0h1m15 0h1m6 0h1m1 0h1m5 0h1m8 0h1m0 0h1M11 112.5h1m0 0h1m13 0h1m23 0h1m14 0h1m3 0h1m6 0h1m0 0h1m0 0h1m0 0h1M47 116.5h1M2 117.5h1m3 0h1m13 0h1m2 0h1m27 0h1m3 0h1m2 0h1M33 118.5h1m1 0h1M64 120.5h1M55 123.5h1M7 126.5h1m1 0h1m5 0h1m6 0h1m0 0h1m5 0h1m0 0h1m0 0h1M3 128.5h1m1 0h1m4 0h1m1 0h1m26 0h1m1 0h1m12 0h1m3 0h1m0 0h1m0 0h1m3 0h1m1 0h1m5 0h1m1 0h1m4 0h1M28 129.5h1M6 130.5h1m0 0h1m0 0h1m10 0h1M43 131.5h1m0 0h1m10 0h1m3 0h1M56 132.5h1m10 0h1M28 133.5h1m12 0h1m4 0h1m8 0h1m2 0h1m0 0h1m3 0h1m8 0h1m2 0h1m2 0h1M12 135.5h1m39 0h1m7 0h1m17 0h1M28 136.5h1M2 140.5h1m34 0h1m5 0h1m11 0h1m7 0h1m10 0h1m2 0h1M9 141.5h1m0 0h1m1 0h1m0 0h1m0 0h1m10 0h1m14 0h1m7 0h1m1 0h1m2 0h1m14 0h1m3 0h1m0 0h1M43 142.5h1m0 0h1m1 0h1m10 0h1M4 144.5h1m11 0h1m27 0h1m2 0h1m2 0h1m1 0h1m1 0h1m1 0h1m0 0h1m1 0h1m10 0h1m4 0h1m0 0h1M6 146.5h1m0 0h1m3 0h1m3 0h1m13 0h1M2 147.5h1m2 0h1m5 0h1m3 0h1m3 0h1m9 0h1m2 0h1m20 0h1m0 0h1m15 0h1M10 149.5h1m67 0h1M6 150.5h1m37 0h1m3 0h1m3 0h1m0 0h1m6 0h1m0 0h1m2 0h1m3 0h1m2 0h1m6 0h1M6 152.5h1m1 0h1m3 0h1m6 0h1M6 154.5h1m9 0h1m2 0h1m1 0h1m0 0h1m2 0h1m10 0h1m11 0h1m12 0h1m0 0h1m9 0h1m4 0h1M23 155.5h1m15 0h1M17 156.5h1m4 0h1m5 0h1m3 0h1M20 161.5h1m19 0h1m3 0h1m5 0h1m0 0h1M7 162.5h1m10 0h1m1 0h1m2 0h1m5 0h1m5 0h1m4 0h1m6 0h1m4 0h1m8 0h1m3 0h1m10 0h1M56 165.5h1m1 0h1m6 0h1m7 0h1m0 0h1m4 0h1M39 166.5h1m0 0h1m0 0h1M41 168.5h1m6 0h1m0 0h1m0 0h1M0 172.5h1m0 0h1m1 0h1m4 0h1m0 0h1m8 0h1m6 0h1m3 0h1m5 0h1m8 0h1m15 0h1m18 0h1M14 173.5h1m16 0h1m3 0h1m0 0h1m7 0h1m7 0h1m6 0h1m0 0h1m2 0h1m10 0h1m0 0h1M40 176.5h1M7 177.5h1m25 0h1m6 0h1m36 0h1M21 179.5h1m17 0h1m1 0h1m8 0h1m6 0h1M6 180.5h1m8 0h1m1 0h1m4 0h1m0 0h1m25 0h1M35 182.5h1m2 0h1m1 0h1m1 0h1m2 0h1m29 0h1M5 184.5h1M21 186.5h1m1 0h1m1 0h1m19 0h1m4 0h1m7 0h1m4 0h1m6 0h1m5 0h1M39 192.5h1M44 193.5h1M2 194.5h1m10 0h1m10 0h1m20 0h1m8 0h1m8 0h1m2 0h1m4 0h1m0 0h1m0 0h1M53 195.5h1m2 0h1M7 198.5h1m1 0h1m4 0h1m5 0h1m6 0h1m6 0h1m2 0h1m1 0h1m3 0h1m5 0h1m8 0h1m2 0h1m6 0h1m9 0h1M14 202.5h1m5 0h1m4 0h1m31 0h1M13 204.5h1m11 0h1m7 0h1m11 0h1m3 0h1m0 0h1m0 0h1m3 0h1m1 0h1m18 0h1m2 0h1M3 206.5h1m3 0h1m0 0h1m4 0h1m16 0h1m11 0h1m5 0h1m1 0h1m4 0h1m10 0h1m0 0h1M7 207.5h1m1 0h1m2 0h1m12 0h1m0 0h1m4 0h1m23 0h1M44 209.5h1M2 210.5h1m4 0h1m13 0h1M14 212.5h1m6 0h1m0 0h1m0 0h1m0 0h1m0 0h1m7 0h1m4 0h1m0 0h1m10 0h1m5 0h1m10 0h1m0 0h1m9 0h1"/><path stroke="#c9e4e7" d="M3 0.5h1m8 0h1m32 0h1m5 0h1m6 0h1m4 0h1M3 1.5h1m6 0h1m0 0h1m1 0h1m8 0h1m2 0h1m4 0h1m25 0h1m20 0h1M42 5.5h1M5 7.5h1m6 0h1m0 0h1m0 0h1m4 0h1m4 0h1m4 0h1m7 0h1m0 0h1m1 0h1m2 0h1m7 0h1m4 0h1m8 0h1M4 9.5h1M28 10.5h1m50 0h1M3 11.5h1m0 0h1m30 0h1m3 0h1m19 0h1m8 0h1m4 0h1M2 13.5h1m12 0h1m1 0h1m12 0h1m1 0h1m2 0h1m9 0h1m31 0h1M6 14.5h1m1 0h1m38 0h1m23 0h1M0 15.5h1m0 0h1m10 0h1m11 0h1m0 0h1m2 0h1m22 0h1m4 0h1m6 0h1m5 0h1M27 16.5h1m3 0h1M10 18.5h1m7 0h1m2 0h1m4 0h1m2 0h1m2 0h1m2 0h1M3 22.5h1m1 0h1m5 0h1m0 0h1m13 0h1m0 0h1m15 0h1m2 0h1m22 0h1m0 0h1M4 23.5h1m3 0h1m0 0h1m10 0h1m5 0h1m2 0h1m6 0h1m22 0h1m15 0h1M33 24.5h1m0 0h1M44 27.5h1m0 0h1m0 0h1m0 0h1m8 0h1M5 32.5h1m3 0h1m4 0h1m0 0h1m13 0h1m7 0h1m21 0h1m18 0h1M4 34.5h1m1 0h1m33 0h1m8 0h1m4 0h1m5 0h1m1 0h1m10 0h1m5 0h1M13 38.5h1m14 0h1m0 0h1m28 0h1M48 39.5h1m1 0h1m15 0h1m2 0h1m8 0h1M4 40.5h1m2 0h1m0 0h1m1 0h1m20 0h1m1 0h1m12 0h1M38 42.5h1m34 0h1M43 43.5h1m1 0h1m5 0h1m17 0h1m1 0h1M40 45.5h1m0 0h1M60 48.5h1M27 55.5h1m2 0h1M4 56.5h1m2 0h1m2 0h1m17 0h1m1 0h1M20 57.5h1m4 0h1m2 0h1m7 0h1M10 59.5h1m24 0h1M53 60.5h1m8 0h1M9 63.5h1M55 65.5h1m12 0h1m7 0h1M38 73.5h1M50 75.5h1M18 81.5h1m36 0h1M39 82.5h1m5 0h1m13 0h1m15 0h1M7 84.5h1m0 0h1m6 0h1m9 0h1m48 0h1M19 86.5h1m0 0h1m18 0h1m14 0h1m7 0h1m6 0h1m2 0h1m3 0h1M2 87.5h1m5 0h1m0 0h1m12 0h1m8 0h1m6 0h1m17 0h1m9 0h1m0 0h1M7 98.5h1m0 0h1m4 0h1m1 0h1m9 0h1m0 0h1m9 0h1m16 0h1m4 0h1M2 99.5h1m1 0h1m0 0h1m25 0h1m0 0h1m11 0h1m3 0h1m0 0h1m0 0h1m4 0h1m2 0h1m19 0h1M67 105.5h1M46 107.5h1m20 0h1M47 109.5h1m3 0h1m9 0h1m6 0h1m7 0h1M10 110.5h1m2 0h1m1 0h1m9 0h1m7 0h1m14 0h1m0 0h1m13 0h1m8 0h1m1 0h1m0 0h1m1 0h1m0 0h1M48 112.5h1m12 0h1M0 117.5h1m9 0h1m2 0h1m30 0h1m1 0h1m2 0h1m6 0h1m0 0h1m1 0h1m17 0h1M10 118.5h1m0 0h1m2 0h1m5 0h1m4 0h1m23 0h1m23 0h1m2 0h1M37 120.5h1m3 0h1m6 0h1m3 0h1m2 0h1m1 0h1m18 0h1M11 121.5h1m10 0h1m6 0h1m5 0h1m7 0h1M3 124.5h1m6 0h1m17 0h1m0 0h1m6 0h1m0 0h1m2 0h1m33 0h1M3 126.5h1m16 0h1m4 0h1m7 0h1m0 0h1m12 0h1m2 0h1m20 0h1m6 0h1M23 127.5h1m35 0h1M32 128.5h1m7 0h1m15 0h1m14 0h1M12 130.5h1m8 0h1m11 0h1m0 0h1m2 0h1m7 0h1m3 0h1m5 0h1m2 0h1m2 0h1m3 0h1M25 132.5h1m34 0h1m3 0h1m14 0h1M3 133.5h1m3 0h1m3 0h1m0 0h1m8 0h1m10 0h1m3 0h1m5 0h1m8 0h1M8 135.5h1m2 0h1m7 0h1m12 0h1m1 0h1m2 0h1m6 0h1m13 0h1m5 0h1M21 138.5h1m2 0h1M1 140.5h1m46 0h1m4 0h1m21 0h1M43 141.5h1m26 0h1m7 0h1M8 142.5h1m26 0h1m11 0h1m2 0h1m8 0h1m9 0h1m1 0h1m4 0h1M14 143.5h1m20 0h1m15 0h1m1 0h1M23 144.5h1m19 0h1m7 0h1M3 147.5h1m20 0h1m2 0h1m7 0h1m15 0h1m12 0h1m1 0h1m0 0h1m9 0h1m1 0h1M3 150.5h1m5 0h1m2 0h1m8 0h1m50 0h1m3 0h1M2 152.5h1m21 0h1m18 0h1m30 0h1m3 0h1M2 154.5h1m9 0h1m10 0h1m0 0h1m25 0h1m12 0h1M63 156.5h1M48 161.5h1m14 0h1m6 0h1M1 162.5h1m12 0h1m31 0h1m19 0h1m0 0h1m5 0h1m0 0h1m3 0h1m0 0h1M43 165.5h1m7 0h1m16 0h1M12 168.5h1m4 0h1m4 0h1m0 0h1m9 0h1m10 0h1m6 0h1m0 0h1m8 0h1m7 0h1m1 0h1M53 172.5h1m15 0h1M9 173.5h1m2 0h1m7 0h1m26 0h1m2 0h1M53 177.5h1M1 180.5h1m0 0h1m1 0h1m8 0h1m14 0h1m6 0h1m12 0h1m1 0h1m1 0h1m0 0h1m14 0h1m7 0h1m0 0h1M43 186.5h1m4 0h1m15 0h1m8 0h1m4 0h1M39 190.5h1M38 192.5h1M6 194.5h1m13 0h1m7 0h1M0 195.5h1m27 0h1m0 0h1m10 0h1m0 0h1m3 0h1m13 0h1m2 0h1m3 0h1m4 0h1M5 198.5h1m4 0h1m5 0h1m0 0h1m17 0h1m10 0h1m19 0h1m4 0h1m7 0h1M0 203.5h1m11 0h1m7 0h1m7 0h1m8 0h1m3 0h1m3 0h1m18 0h1m5 0h1M38 204.5h1m3 0h1m4 0h1m0 0h1m17 0h1m10 0h1M56 206.5h1m14 0h1m4 0h1M16 207.5h1M0 210.5h1m8 0h1m4 0h1m11 0h1m1 0h1m16 0h1m0 0h1m30 0h1M8 212.5h1m3 0h1m3 0h1m0 0h1m11 0h1m2 0h1m15 0h1m4 0h1m11 0h1m10 0h1"/><path stroke="#d2e9e6" d="M4 0.5h1m1 0h1m3 0h1m2 0h1m4 0h1m2 0h1m31 0h1m1 0h1m3 0h1m0 0h1m1 0h1m2 0h1m4 0h1M2 1.5h1m3 0h1m10 0h1m9 0h1m39 0h1M38 2.5h1m1 0h1M42 6.5h1M7 7.5h1m7 0h1m7 0h1m10 0h1m18 0h1m14 0h1m1 0h1M45 9.5h1M44 11.5h1m16 0h1m7 0h1m8 0h1M5 13.5h1m8 0h1m11 0h1m2 0h1m6 0h1m34 0h1M0 14.5h1m3 0h1m6 0h1m17 0h1m0 0h1m2 0h1m19 0h1M2 15.5h1m1 0h1m4 0h1m0 0h1m8 0h1m6 0h1m4 0h1m0 0h1m1 0h1m0 0h1m13 0h1m27 0h1M22 16.5h1m6 0h1M7 18.5h1m6 0h1m0 0h1m9 0h1M1 22.5h1m16 0h1m21 0h1m13 0h1m23 0h1m0 0h1M0 23.5h1m5 0h1m5 0h1m2 0h1m8 0h1m2 0h1m2 0h1m0 0h1m0 0h1m10 0h1m4 0h1m1 0h1m3 0h1m1 0h1m11 0h1m1 0h1m3 0h1M37 25.5h1m5 0h1m30 0h1M2 27.5h1m37 0h1m9 0h1m11 0h1m16 0h1M38 30.5h1M11 32.5h1m1 0h1m4 0h1m9 0h1m3 0h1m35 0h1M21 33.5h1m13 0h1m27 0h1M5 34.5h1m14 0h1m4 0h1m10 0h1m6 0h1m23 0h1m0 0h1m2 0h1m0 0h1M0 38.5h1m3 0h1M46 39.5h1m4 0h1m0 0h1m2 0h1m3 0h1m10 0h1m2 0h1m2 0h1m0 0h1M9 40.5h1m6 0h1m1 0h1m5 0h1m11 0h1m20 0h1m12 0h1m8 0h1M42 42.5h1m28 0h1M19 43.5h1m2 0h1m21 0h1m10 0h1m2 0h1m11 0h1m2 0h1M25 45.5h1M4 48.5h1M28 49.5h1M3 57.5h1m7 0h1m4 0h1m1 0h1m3 0h1m6 0h1m0 0h1m0 0h1m2 0h1m2 0h1M38 58.5h1m6 0h1M23 59.5h1m10 0h1m37 0h1M2 60.5h1m2 0h1m12 0h1m0 0h1m4 0h1m4 0h1m20 0h1m3 0h1m6 0h1m3 0h1m4 0h1m1 0h1m1 0h1m4 0h1M42 65.5h1m5 0h1m8 0h1M60 71.5h1M52 72.5h1m23 0h1M23 73.5h1m18 0h1m20 0h1M2 81.5h1m4 0h1m0 0h1m1 0h1m11 0h1m6 0h1m21 0h1m6 0h1M44 82.5h1m8 0h1m9 0h1M33 84.5h1M4 86.5h1m7 0h1m4 0h1m24 0h1m7 0h1m13 0h1m0 0h1m2 0h1m4 0h1m1 0h1M1 87.5h1m1 0h1m8 0h1m5 0h1m4 0h1m0 0h1m3 0h1m11 0h1m33 0h1M7 88.5h1M4 89.5h1M2 98.5h1m2 0h1m0 0h1m4 0h1m4 0h1m6 0h1m11 0h1m31 0h1m10 0h1M11 99.5h1m11 0h1m4 0h1m24 0h1m2 0h1m2 0h1m7 0h1m2 0h1M38 102.5h1M79 105.5h1M63 107.5h1M44 108.5h1M46 109.5h1m7 0h1m5 0h1m13 0h1M0 110.5h1m2 0h1m3 0h1m20 0h1m15 0h1m10 0h1m1 0h1m11 0h1M13 112.5h1m8 0h1m6 0h1m8 0h1m19 0h1M59 116.5h1M1 117.5h1m10 0h1m3 0h1m5 0h1m2 0h1m0 0h1m1 0h1m1 0h1m1 0h1m17 0h1m1 0h1m8 0h1m9 0h1m1 0h1m0 0h1M3 118.5h1m4 0h1m3 0h1m6 0h1m10 0h1m1 0h1m3 0h1m33 0h1M27 120.5h1m3 0h1m12 0h1m0 0h1m28 0h1M24 122.5h1M6 124.5h1m6 0h1m11 0h1m1 0h1m15 0h1M0 126.5h1m0 0h1m15 0h1m19 0h1m10 0h1m3 0h1m1 0h1m7 0h1m2 0h1m2 0h1m5 0h1m0 0h1M21 127.5h1M0 128.5h1m17 0h1m1 0h1m0 0h1m29 0h1M1 130.5h1m7 0h1m5 0h1m22 0h1m5 0h1m3 0h1m8 0h1m6 0h1m5 0h1m3 0h1M57 131.5h1m12 0h1M43 132.5h1m6 0h1m0 0h1m0 0h1m4 0h1m16 0h1M13 133.5h1m2 0h1m35 0h1m0 0h1m6 0h1m3 0h1M9 135.5h1m8 0h1m1 0h1m6 0h1m21 0h1m4 0h1m0 0h1m13 0h1m0 0h1m1 0h1m3 0h1M3 140.5h1m2 0h1m0 0h1m0 0h1m0 0h1m1 0h1m16 0h1m15 0h1m2 0h1m2 0h1m0 0h1m0 0h1m1 0h1m3 0h1m12 0h1M6 141.5h1m49 0h1m20 0h1M2 142.5h1m52 0h1m0 0h1m9 0h1m1 0h1m6 0h1m2 0h1M12 144.5h1m16 0h1m0 0h1m42 0h1m5 0h1M13 146.5h1m16 0h1M0 147.5h1m3 0h1m3 0h1m16 0h1m17 0h1m0 0h1m7 0h1m3 0h1m1 0h1m9 0h1m4 0h1m1 0h1M11 149.5h1m36 0h1m3 0h1M2 150.5h1m1 0h1m14 0h1m4 0h1m3 0h1m17 0h1m2 0h1m4 0h1m19 0h1m2 0h1M29 152.5h1m38 0h1M0 154.5h1m6 0h1m9 0h1m8 0h1m4 0h1m6 0h1m2 0h1m4 0h1m10 0h1m0 0h1m8 0h1M40 155.5h1M16 162.5h1m0 0h1m6 0h1m33 0h1m1 0h1m2 0h1m6 0h1m6 0h1M52 165.5h1m8 0h1m0 0h1M35 168.5h1m26 0h1m4 0h1m7 0h1M4 172.5h1m6 0h1m11 0h1m2 0h1m31 0h1m3 0h1M1 173.5h1m1 0h1m12 0h1m6 0h1m1 0h1m1 0h1m0 0h1m3 0h1m29 0h1m3 0h1m5 0h1M41 176.5h1M39 177.5h1m9 0h1m0 0h1M5 180.5h1m15 0h1m7 0h1m2 0h1m0 0h1m9 0h1m20 0h1m5 0h1M39 181.5h1M39 182.5h1M41 183.5h1M12 184.5h1m12 0h1M3 186.5h1m23 0h1m19 0h1m1 0h1m3 0h1m3 0h1m7 0h1M38 193.5h1m2 0h1M1 194.5h1m3 0h1m6 0h1m2 0h1m2 0h1m2 0h1m5 0h1m2 0h1m12 0h1m0 0h1m8 0h1m8 0h1m4 0h1m2 0h1M27 195.5h1m3 0h1m6 0h1m3 0h1m0 0h1m2 0h1m0 0h1m1 0h1m0 0h1m16 0h1m2 0h1m2 0h1m0 0h1m0 0h1M2 198.5h1m0 0h1m2 0h1m11 0h1m25 0h1m5 0h1m0 0h1m1 0h1m8 0h1m10 0h1m0 0h1M33 202.5h1m6 0h1M1 203.5h1m5 0h1m6 0h1m1 0h1m1 0h1m3 0h1m2 0h1m0 0h1m6 0h1m0 0h1m0 0h1M26 204.5h1m14 0h1m11 0h1m4 0h1m5 0h1m6 0h1M35 206.5h1m8 0h1m2 0h1m20 0h1m3 0h1M10 207.5h1m2 0h1m7 0h1m2 0h1M71 209.5h1M1 210.5h1m21 0h1m6 0h1m17 0h1m16 0h1m0 0h1m4 0h1m1 0h1m0 0h1M11 212.5h1m14 0h1m1 0h1m5 0h1m19 0h1m9 0h1"/><path stroke="#edf6e2" d="M8 0.5h1m0 0h1m25 0h1m13 0h1m19 0h1m2 0h1m2 0h1m1 0h1M7 2.5h1m5 0h1m32 0h1m24 0h1m1 0h1M40 6.5h1M4 7.5h1m21 0h1M34 10.5h1M1 11.5h1m7 0h1m7 0h1m4 0h1m8 0h1m15 0h1m0 0h1m2 0h1m0 0h1m0 0h1m20 0h1m0 0h1M0 13.5h1M15 14.5h1M6 15.5h1M1 16.5h1m3 0h1m9 0h1m1 0h1m5 0h1m0 0h1m1 0h1m21 0h1m1 0h1m20 0h1M24 18.5h1M36 22.5h1m22 0h1m4 0h1m8 0h1m3 0h1M39 23.5h1m20 0h1m0 0h1m7 0h1m7 0h1M4 24.5h1m0 0h1m0 0h1m2 0h1m0 0h1m7 0h1m12 0h1M12 25.5h1m10 0h1m9 0h1m1 0h1m0 0h1m3 0h1m24 0h1m3 0h1m0 0h1M5 27.5h1m3 0h1m22 0h1m15 0h1m12 0h1m8 0h1m3 0h1m0 0h1m0 0h1M4 32.5h1m14 0h1m3 0h1m0 0h1m2 0h1m5 0h1M12 33.5h1m21 0h1m2 0h1m9 0h1m2 0h1m18 0h1m2 0h1M0 34.5h1m6 0h1m1 0h1m5 0h1m17 0h1m1 0h1m9 0h1m7 0h1m1 0h1m2 0h1m2 0h1m1 0h1m2 0h1m7 0h1m0 0h1m1 0h1M22 37.5h1M5 39.5h1m5 0h1m13 0h1m1 0h1m19 0h1m8 0h1m7 0h1m10 0h1M0 40.5h1m10 0h1m20 0h1m7 0h1m1 0h1m8 0h1m4 0h1m4 0h1m2 0h1m0 0h1m1 0h1m0 0h1m2 0h1M39 42.5h1m0 0h1M13 43.5h1m54 0h1M21 45.5h1m30 0h1M12 48.5h1m15 0h1m4 0h1m14 0h1m5 0h1m1 0h1m1 0h1m2 0h1m3 0h1m2 0h1M2 49.5h1m17 0h1m22 0h1m2 0h1m32 0h1M3 50.5h1m0 0h1m18 0h1m9 0h1m4 0h1m12 0h1m6 0h1m2 0h1m5 0h1M14 52.5h1m25 0h1m7 0h1m1 0h1m18 0h1m0 0h1M7 53.5h1m4 0h1m0 0h1m3 0h1m6 0h1M31 56.5h1M1 57.5h1M30 58.5h1m22 0h1m12 0h1m5 0h1M9 60.5h1m1 0h1m4 0h1m15 0h1m2 0h1m10 0h1m9 0h1m19 0h1M4 63.5h1m15 0h1m43 0h1m9 0h1m4 0h1M5 65.5h1m8 0h1m4 0h1m4 0h1m22 0h1m12 0h1m0 0h1m3 0h1m6 0h1m2 0h1M45 67.5h1M4 71.5h1m10 0h1m31 0h1m2 0h1m0 0h1m0 0h1m2 0h1m6 0h1m2 0h1m2 0h1m2 0h1m3 0h1m2 0h1M1 72.5h1m53 0h1m4 0h1m4 0h1m7 0h1M7 73.5h1m0 0h1m8 0h1m9 0h1m0 0h1m18 0h1m5 0h1m7 0h1M2 75.5h1m23 0h1m3 0h1M3 81.5h1m2 0h1m7 0h1m4 0h1m0 0h1m3 0h1m18 0h1m2 0h1m1 0h1m7 0h1m2 0h1m15 0h1M12 82.5h1m5 0h1m7 0h1m0 0h1m13 0h1m5 0h1m4 0h1m2 0h1m5 0h1M16 87.5h1m12 0h1M68 88.5h1m5 0h1m0 0h1M11 89.5h1m33 0h1M26 90.5h1M26 91.5h1M27 92.5h1M26 93.5h1m0 0h1M26 94.5h1m0 0h1M26 95.5h1m0 0h1M5 96.5h1m20 0h1m0 0h1M26 97.5h1M14 98.5h1m5 0h1m9 0h1m12 0h1m8 0h1m3 0h1m11 0h1m2 0h1M24 99.5h1m1 0h1m9 0h1m0 0h1M40 102.5h1M6 105.5h1m13 0h1m29 0h1m5 0h1m2 0h1m12 0h1m4 0h1m0 0h1M0 106.5h1m50 0h1m5 0h1M1 107.5h1m10 0h1m11 0h1m9 0h1m13 0h1m3 0h1m5 0h1m12 0h1m0 0h1m6 0h1M66 108.5h1m0 0h1m7 0h1M4 110.5h1m16 0h1m1 0h1m2 0h1m3 0h1m0 0h1m0 0h1m27 0h1M3 112.5h1m4 0h1m6 0h1m0 0h1m2 0h1m0 0h1m4 0h1m2 0h1m3 0h1m0 0h1m0 0h1m7 0h1m1 0h1m1 0h1m6 0h1m1 0h1m6 0h1m10 0h1M4 116.5h1m32 0h1m7 0h1M4 117.5h1m10 0h1m1 0h1m1 0h1m1 0h1m9 0h1M47 118.5h1M49 120.5h1M40 123.5h1M2 126.5h1m7 0h1m2 0h1m49 0h1m0 0h1m5 0h1m6 0h1M43 127.5h1M13 128.5h1m1 0h1m0 0h1m2 0h1m4 0h1m1 0h1m6 0h1m15 0h1m3 0h1m8 0h1m0 0h1m5 0h1m0 0h1M27 129.5h1M11 130.5h1m31 0h1m16 0h1m5 0h1m6 0h1M26 131.5h1m22 0h1m8 0h1m1 0h1m3 0h1m2 0h1m0 0h1m2 0h1m2 0h1m3 0h1M27 133.5h1m11 0h1m9 0h1m15 0h1M2 135.5h1m42 0h1m0 0h1m18 0h1M20 136.5h1m1 0h1m11 0h1m5 0h1m0 0h1m1 0h1m9 0h1m9 0h1M26 140.5h1m2 0h1m5 0h1m0 0h1m8 0h1m3 0h1m14 0h1m2 0h1m8 0h1m2 0h1M1 141.5h1m5 0h1m3 0h1m8 0h1m0 0h1m1 0h1m2 0h1m1 0h1m1 0h1m8 0h1m9 0h1m1 0h1m3 0h1m1 0h1m1 0h1m2 0h1m4 0h1m8 0h1M11 142.5h1m0 0h1m8 0h1m2 0h1m7 0h1m12 0h1m3 0h1m12 0h1m2 0h1m7 0h1M3 144.5h1m15 0h1m26 0h1m1 0h1m0 0h1m8 0h1m1 0h1m0 0h1m0 0h1m0 0h1m0 0h1m3 0h1m5 0h1M15 145.5h1m4 0h1M0 146.5h1m11 0h1m1 0h1m1 0h1m0 0h1m3 0h1m0 0h1m4 0h1m8 0h1M1 147.5h1m7 0h1m2 0h1m0 0h1m2 0h1m3 0h1m5 0h1m6 0h1m3 0h1m7 0h1m3 0h1m0 0h1m20 0h1M39 148.5h1M5 149.5h1m11 0h1m9 0h1m5 0h1m23 0h1m14 0h1M13 150.5h1m2 0h1m6 0h1m3 0h1m3 0h1m31 0h1m11 0h1M4 152.5h1m0 0h1m10 0h1m8 0h1M9 154.5h1m27 0h1m9 0h1m3 0h1m2 0h1m11 0h1m3 0h1M34 155.5h1m6 0h1M14 156.5h1m50 0h1m9 0h1M17 161.5h1m16 0h1m11 0h1m0 0h1m1 0h1m2 0h1m18 0h1m0 0h1m2 0h1m2 0h1M2 162.5h1m16 0h1m1 0h1m0 0h1m11 0h1m10 0h1m4 0h1m3 0h1m0 0h1m0 0h1m12 0h1M44 165.5h1m1 0h1m2 0h1m10 0h1M38 166.5h1M73 168.5h1M33 171.5h1M10 172.5h1m10 0h1m0 0h1m8 0h1m15 0h1m3 0h1m0 0h1m2 0h1m0 0h1m10 0h1m3 0h1m1 0h1m2 0h1M5 173.5h1m31 0h1m16 0h1m0 0h1m5 0h1m7 0h1m0 0h1m0 0h1m4 0h1M41 175.5h1M39 176.5h1M28 177.5h1m5 0h1m2 0h1m6 0h1m11 0h1m6 0h1m2 0h1m6 0h1m2 0h1M1 179.5h1m22 0h1m23 0h1m2 0h1m3 0h1m16 0h1m3 0h1M7 180.5h1m19 0h1m26 0h1m4 0h1M42 181.5h1M37 182.5h1m9 0h1m0 0h1m17 0h1m1 0h1m8 0h1M3 184.5h1m5 0h1m19 0h1M6 186.5h1m1 0h1m0 0h1m10 0h1m1 0h1m8 0h1m2 0h1m11 0h1m8 0h1m0 0h1m17 0h1M11 193.5h1m10 0h1m16 0h1m29 0h1m4 0h1m0 0h1M9 194.5h1m7 0h1m1 0h1m2 0h1m0 0h1m5 0h1m1 0h1m15 0h1m1 0h1m0 0h1m8 0h1m16 0h1m2 0h1M22 195.5h1m42 0h1M0 198.5h1m3 0h1m10 0h1m3 0h1m1 0h1m2 0h1m1 0h1m18 0h1m11 0h1m1 0h1m0 0h1m4 0h1m6 0h1m3 0h1m0 0h1M12 202.5h1m18 0h1m5 0h1m27 0h1M11 204.5h1m6 0h1m1 0h1m6 0h1m2 0h1m0 0h1m2 0h1m5 0h1m13 0h1M28 205.5h1M1 206.5h1m12 0h1m8 0h1m12 0h1m2 0h1m3 0h1m10 0h1m2 0h1m0 0h1m5 0h1m5 0h1m6 0h1M1 207.5h1m2 0h1m3 0h1m13 0h1M23 208.5h1m25 0h1M63 209.5h1M0 212.5h1m3 0h1m1 0h1m0 0h1m28 0h1m6 0h1m2 0h1m2 0h1m9 0h1m12 0h1m4 0h1"/><path stroke="#f6fbe1" d="M16 0.5h1m13 0h1m48 0h1M23 1.5h1M3 2.5h1m18 0h1m4 0h1m3 0h1m1 0h1m1 0h1m8 0h1m11 0h1M62 5.5h1M38 6.5h1M36 7.5h1m5 0h1M2 11.5h1m11 0h1m1 0h1m7 0h1m1 0h1m0 0h1M9 13.5h1m18 0h1m5 0h1M26 14.5h1M37 15.5h1M4 16.5h1m1 0h1m0 0h1m1 0h1m15 0h1m2 0h1m15 0h1m12 0h1m3 0h1m14 0h1M34 18.5h1m2 0h1M38 21.5h1M76 22.5h1M33 23.5h1m10 0h1m2 0h1m1 0h1m7 0h1m5 0h1m3 0h1m3 0h1M8 24.5h1m4 0h1m0 0h1m1 0h1m12 0h1m40 0h1m6 0h1M0 25.5h1m16 0h1m2 0h1m0 0h1m25 0h1m12 0h1m0 0h1m1 0h1m3 0h1m7 0h1m2 0h1M12 27.5h1m6 0h1m1 0h1m2 0h1m4 0h1m4 0h1m1 0h1m2 0h1m19 0h1m11 0h1M34 29.5h1m20 0h1M20 30.5h1M48 31.5h1m26 0h1M10 32.5h1m24 0h1M3 33.5h1m2 0h1m0 0h1m6 0h1m2 0h1m4 0h1m1 0h1m1 0h1m0 0h1m8 0h1m6 0h1m8 0h1m2 0h1m6 0h1m2 0h1m8 0h1M1 34.5h1m27 0h1m7 0h1m8 0h1m3 0h1M19 35.5h1m5 0h1m51 0h1M12 37.5h1M4 39.5h1m11 0h1m2 0h1m38 0h1m12 0h1M29 40.5h1m13 0h1m0 0h1m5 0h1m8 0h1m17 0h1m0 0h1M1 43.5h1m0 0h1m3 0h1m2 0h1m0 0h1m7 0h1m4 0h1m4 0h1m1 0h1m5 0h1m22 0h1m3 0h1m0 0h1m14 0h1M15 45.5h1m16 0h1m26 0h1M0 48.5h1m0 0h1m3 0h1m7 0h1m6 0h1m3 0h1m6 0h1m3 0h1m1 0h1m4 0h1m6 0h1m17 0h1m4 0h1m0 0h1m4 0h1M3 49.5h1m6 0h1m18 0h1m2 0h1m1 0h1m19 0h1m4 0h1m9 0h1m4 0h1m2 0h1M5 50.5h1m2 0h1m1 0h1m0 0h1m1 0h1m1 0h1m0 0h1m0 0h1m1 0h1m0 0h1m7 0h1m6 0h1m14 0h1m12 0h1m4 0h1m1 0h1M11 52.5h1m9 0h1m10 0h1m1 0h1m1 0h1m5 0h1m9 0h1m8 0h1m4 0h1M5 53.5h1m10 0h1m8 0h1m3 0h1m0 0h1m3 0h1m1 0h1M17 57.5h1M3 58.5h1m0 0h1m10 0h1m11 0h1m5 0h1m0 0h1m11 0h1m8 0h1m5 0h1m9 0h1M1 60.5h1m1 0h1m2 0h1m5 0h1m2 0h1m4 0h1m6 0h1m11 0h1m1 0h1M2 63.5h1m0 0h1m1 0h1m2 0h1m10 0h1m3 0h1m29 0h1m9 0h1m7 0h1m0 0h1m5 0h1M6 65.5h1m11 0h1m2 0h1m7 0h1m5 0h1m4 0h1m2 0h1m0 0h1m0 0h1m0 0h1m6 0h1m8 0h1m10 0h1m5 0h1M32 67.5h1m42 0h1M10 71.5h1m6 0h1m13 0h1m6 0h1m6 0h1m0 0h1m9 0h1m0 0h1m0 0h1m10 0h1m3 0h1M0 72.5h1m30 0h1m13 0h1m1 0h1m6 0h1m16 0h1m0 0h1m5 0h1m0 0h1M13 73.5h1m0 0h1m0 0h1m3 0h1m5 0h1m3 0h1m3 0h1m10 0h1m0 0h1m4 0h1m1 0h1m1 0h1m1 0h1m1 0h1m1 0h1m9 0h1m3 0h1m3 0h1M8 75.5h1m28 0h1m21 0h1m0 0h1m12 0h1M15 81.5h1m5 0h1m41 0h1m1 0h1m3 0h1m7 0h1M10 82.5h1m0 0h1m1 0h1m0 0h1m5 0h1m0 0h1m6 0h1m38 0h1M33 86.5h1m2 0h1m0 0h1m36 0h1M15 87.5h1m3 0h1m15 0h1m6 0h1M38 88.5h1m1 0h1m0 0h1m0 0h1m11 0h1m21 0h1m1 0h1M6 89.5h1m0 0h1m2 0h1m11 0h1m3 0h1m2 0h1m23 0h1m24 0h1M5 90.5h1m24 0h1M5 91.5h1m24 0h1M5 92.5h1m20 0h1m3 0h1M30 93.5h1M5 94.5h1M5 95.5h1M5 97.5h1M51 98.5h1m2 0h1m7 0h1m0 0h1m2 0h1m2 0h1M34 99.5h1m7 0h1M17 105.5h1m6 0h1m3 0h1m14 0h1m3 0h1m5 0h1m9 0h1m0 0h1m0 0h1m0 0h1m9 0h1M10 106.5h1m1 0h1m0 0h1m52 0h1M7 107.5h1m0 0h1m0 0h1m19 0h1m0 0h1m1 0h1m0 0h1m3 0h1m11 0h1m0 0h1m10 0h1m4 0h1m2 0h1m4 0h1m1 0h1m0 0h1m0 0h1M21 108.5h1m16 0h1m0 0h1m10 0h1m2 0h1m1 0h1M20 110.5h1m15 0h1m10 0h1M4 112.5h1m1 0h1m14 0h1m13 0h1m7 0h1m20 0h1m5 0h1m3 0h1M5 115.5h1m22 0h1M12 116.5h1m3 0h1m3 0h1m4 0h1m2 0h1m48 0h1M9 117.5h1m4 0h1m9 0h1M4 118.5h1M24 126.5h1m2 0h1m15 0h1m5 0h1M6 128.5h1m10 0h1m5 0h1m5 0h1m0 0h1m3 0h1m2 0h1m9 0h1m2 0h1m14 0h1m1 0h1m0 0h1M1 129.5h1m2 0h1M23 130.5h1m44 0h1M46 131.5h1m6 0h1m0 0h1m7 0h1m10 0h1m2 0h1M76 132.5h1M37 133.5h1m6 0h1m9 0h1m7 0h1m3 0h1m10 0h1M38 135.5h1m20 0h1m7 0h1M2 136.5h1m12 0h1m7 0h1m11 0h1m8 0h1m9 0h1m14 0h1m0 0h1m2 0h1M60 137.5h1M66 140.5h1m1 0h1M8 141.5h1m6 0h1m36 0h1m8 0h1m4 0h1m12 0h1M3 142.5h1m5 0h1m6 0h1m0 0h1m9 0h1m2 0h1M7 144.5h1m0 0h1m0 0h1m0 0h1m20 0h1m2 0h1m20 0h1m10 0h1m10 0h1M13 145.5h1m50 0h1M23 146.5h1m0 0h1m0 0h1m0 0h1m4 0h1m0 0h1M17 147.5h1m56 0h1M2 149.5h1m5 0h1m0 0h1m9 0h1m6 0h1m4 0h1m2 0h1m33 0h1M43 150.5h1m6 0h1m8 0h1m5 0h1m0 0h1M1 152.5h1m5 0h1m14 0h1m4 0h1m6 0h1M3 154.5h1m4 0h1m18 0h1m16 0h1m7 0h1m7 0h1m4 0h1m8 0h1m0 0h1M26 155.5h1m22 0h1m0 0h1m17 0h1M7 156.5h1m0 0h1m3 0h1m3 0h1m2 0h1m6 0h1m37 0h1m5 0h1M10 161.5h1m0 0h1m1 0h1m40 0h1m4 0h1m6 0h1m2 0h1m3 0h1M0 162.5h1m7 0h1m16 0h1m0 0h1m32 0h1m8 0h1M53 165.5h1m13 0h1m1 0h1M42 166.5h1M61 167.5h1M55 168.5h1M13 172.5h1m2 0h1m3 0h1m6 0h1m4 0h1m1 0h1m8 0h1m4 0h1m10 0h1m3 0h1m2 0h1m1 0h1m3 0h1M6 173.5h1m36 0h1m9 0h1m2 0h1m7 0h1M68 176.5h1m7 0h1M4 177.5h1m43 0h1m2 0h1m19 0h1m2 0h1M4 179.5h1m0 0h1m16 0h1m40 0h1m6 0h1M8 180.5h1m69 0h1M22 182.5h1m11 0h1m1 0h1m28 0h1m1 0h1m3 0h1M1 184.5h1m15 0h1m3 0h1m0 0h1m1 0h1m36 0h1M13 186.5h1m4 0h1m5 0h1M12 191.5h1m2 0h1M6 192.5h1M27 193.5h1M0 194.5h1m54 0h1m1 0h1m0 0h1m15 0h1m0 0h1m2 0h1M48 195.5h1M22 198.5h1m7 0h1m9 0h1m15 0h1m18 0h1M19 199.5h1M26 202.5h1m5 0h1m1 0h1m9 0h1m19 0h1M29 203.5h1M36 204.5h1m30 0h1m4 0h1M18 205.5h1m14 0h1M19 206.5h1m2 0h1m6 0h1m16 0h1m4 0h1m13 0h1m8 0h1m3 0h1M0 207.5h1m4 0h1m5 0h1m17 0h1m0 0h1m19 0h1m18 0h1m4 0h1m4 0h1M4 208.5h1m65 0h1M25 209.5h1m0 0h1m5 0h1m10 0h1M2 212.5h1m41 0h1m0 0h1m12 0h1m10 0h1"/><path stroke="#c0e0e9" d="M24 0.5h1m6 0h1m5 0h1m5 0h1m30 0h1M0 1.5h1m4 0h1m3 0h1m11 0h1m4 0h1m5 0h1m1 0h1m2 0h1m5 0h1m11 0h1M39 2.5h1M39 5.5h1M11 7.5h1m5 0h1m12 0h1m0 0h1m0 0h1m2 0h1m5 0h1m3 0h1m3 0h1m14 0h1m7 0h1m2 0h1m0 0h1M39 9.5h1m39 0h1M0 10.5h1m5 0h1m51 0h1M36 11.5h1m12 0h1m15 0h1m0 0h1M3 13.5h1m3 0h1m8 0h1m2 0h1m0 0h1m1 0h1m35 0h1m8 0h1m8 0h1M1 14.5h1m1 0h1m5 0h1m4 0h1m7 0h1m5 0h1m20 0h1m6 0h1M22 15.5h1m4 0h1m22 0h1m13 0h1m9 0h1M1 18.5h1m6 0h1m3 0h1m9 0h1m4 0h1m2 0h1m5 0h1m8 0h1m25 0h1M0 22.5h1m1 0h1m7 0h1m12 0h1m4 0h1m3 0h1m15 0h1m12 0h1m6 0h1M1 23.5h1m1 0h1m13 0h1m1 0h1m5 0h1m2 0h1m22 0h1M35 24.5h1M53 27.5h1m23 0h1M16 32.5h1m3 0h1m0 0h1m0 0h1m2 0h1m5 0h1m18 0h1m10 0h1m2 0h1m0 0h1m3 0h1m7 0h1M16 34.5h1m22 0h1m24 0h1m5 0h1M45 38.5h1m2 0h1M54 39.5h1M6 40.5h1m6 0h1m1 0h1m3 0h1m1 0h1m4 0h1m0 0h1m9 0h1m9 0h1m4 0h1M46 42.5h1m12 0h1M46 43.5h1m1 0h1m3 0h1m0 0h1m3 0h1m2 0h1m4 0h1M39 45.5h1M58 49.5h1M18 50.5h1M22 52.5h1M6 55.5h1m1 0h1m17 0h1M1 56.5h1m15 0h1m5 0h1m44 0h1M12 57.5h1m2 0h1m11 0h1m14 0h1m24 0h1M7 59.5h1m8 0h1m5 0h1m10 0h1m15 0h1m26 0h1M43 60.5h1m1 0h1m2 0h1m11 0h1M18 69.5h1m9 0h1m5 0h1M39 73.5h1M46 82.5h1m7 0h1m1 0h1m0 0h1m6 0h1m3 0h1m0 0h1M7 83.5h1m15 0h1M21 84.5h1m2 0h1m1 0h1m1 0h1m6 0h1m1 0h1m40 0h1M18 86.5h1m7 0h1m0 0h1m6 0h1m20 0h1m0 0h1m1 0h1m12 0h1m6 0h1m0 0h1M13 87.5h1m3 0h1m29 0h1m5 0h1m4 0h1m1 0h1m4 0h1m2 0h1M12 98.5h1m20 0h1m13 0h1M9 99.5h1m0 0h1m18 0h1m0 0h1m31 0h1m9 0h1m1 0h1M42 102.5h1M38 105.5h1m3 0h1M15 109.5h1m0 0h1m4 0h1m19 0h1m0 0h1m0 0h1m12 0h1m13 0h1m6 0h1m1 0h1M6 110.5h1m1 0h1m7 0h1m18 0h1m1 0h1m3 0h1m11 0h1m2 0h1m14 0h1m4 0h1M39 112.5h1m1 0h1m10 0h1M54 117.5h1m5 0h1m1 0h1m12 0h1M17 118.5h1m3 0h1m0 0h1m0 0h1m0 0h1m1 0h1m4 0h1m24 0h1m3 0h1m0 0h1m1 0h1m1 0h1m1 0h1m0 0h1m2 0h1m0 0h1m6 0h1M1 120.5h1m0 0h1m5 0h1m0 0h1m2 0h1m1 0h1m1 0h1m7 0h1m8 0h1m13 0h1m13 0h1m0 0h1m8 0h1m0 0h1m4 0h1M13 121.5h1m0 0h1m61 0h1M67 122.5h1M4 124.5h1m29 0h1m0 0h1M4 126.5h1m0 0h1m5 0h1m20 0h1m3 0h1m3 0h1m4 0h1m14 0h1m12 0h1M10 127.5h1m23 0h1m2 0h1m13 0h1m0 0h1m1 0h1m3 0h1m4 0h1M14 128.5h1m29 0h1m0 0h1m31 0h1M10 130.5h1m3 0h1m7 0h1m3 0h1m3 0h1m0 0h1m22 0h1m1 0h1m5 0h1m8 0h1m3 0h1M19 132.5h1m17 0h1m3 0h1m0 0h1m12 0h1m12 0h1m4 0h1m1 0h1m2 0h1M0 133.5h1m0 0h1m0 0h1m2 0h1m2 0h1m1 0h1m8 0h1m3 0h1m7 0h1m47 0h1M3 135.5h1m10 0h1m0 0h1m5 0h1m3 0h1m21 0h1m0 0h1m25 0h1m2 0h1m1 0h1M12 138.5h1m19 0h1M5 140.5h1m4 0h1m1 0h1m11 0h1m7 0h1m24 0h1m4 0h1M22 141.5h1m9 0h1m14 0h1m6 0h1m5 0h1m10 0h1M58 142.5h1m2 0h1m2 0h1m2 0h1m9 0h1m1 0h1M1 143.5h1m14 0h1m3 0h1m8 0h1m8 0h1M15 144.5h1M6 147.5h1m7 0h1m23 0h1m2 0h1m5 0h1m15 0h1m5 0h1m2 0h1M3 149.5h1M1 150.5h1m9 0h1m8 0h1m1 0h1m6 0h1m3 0h1m5 0h1m15 0h1m2 0h1m8 0h1M48 152.5h1m2 0h1M4 154.5h1m5 0h1m3 0h1m0 0h1m12 0h1m5 0h1m0 0h1m20 0h1M76 161.5h1M49 162.5h1m1 0h1m12 0h1m10 0h1M6 168.5h1m1 0h1m16 0h1m2 0h1m2 0h1m11 0h1m13 0h1m2 0h1m13 0h1m2 0h1M2 172.5h1m51 0h1M10 173.5h1m4 0h1m6 0h1m6 0h1m0 0h1m2 0h1M38 177.5h1M9 180.5h1m0 0h1m0 0h1m0 0h1m1 0h1m1 0h1m3 0h1m3 0h1m6 0h1m15 0h1m7 0h1m2 0h1m3 0h1M41 181.5h1M41 182.5h1M39 183.5h1m2 0h1m7 0h1M38 186.5h1m12 0h1m10 0h1m6 0h1m9 0h1M42 190.5h1M40 192.5h1m0 0h1M25 194.5h1m25 0h1m13 0h1m11 0h1M7 195.5h1m8 0h1m0 0h1m3 0h1m3 0h1m7 0h1m5 0h1m11 0h1m0 0h1m2 0h1m7 0h1M11 198.5h1m1 0h1m22 0h1m18 0h1M39 202.5h1m2 0h1M8 203.5h1m0 0h1m0 0h1m36 0h1m0 0h1m0 0h1m4 0h1m3 0h1m2 0h1m3 0h1m1 0h1m1 0h1m1 0h1m1 0h1M59 204.5h1m2 0h1m0 0h1M34 206.5h1m3 0h1m1 0h1m32 0h1m1 0h1M14 207.5h1M16 210.5h1m0 0h1m1 0h1m2 0h1m15 0h1m10 0h1m0 0h1m2 0h1m0 0h1m0 0h1m4 0h1m2 0h1m0 0h1m5 0h1M9 212.5h1m3 0h1m4 0h1m16 0h1m19 0h1m17 0h1"/><path stroke="#fcecd3" d="M25 0.5h1m2 0h1M0 2.5h1m9 0h1m0 0h1m13 0h1m3 0h1m18 0h1m0 0h1m7 0h1m0 0h1m0 0h1m0 0h1m3 0h1m9 0h1M40 4.5h1M1 5.5h1m1 0h1m8 0h1m23 0h1m7 0h1m6 0h1m0 0h1m13 0h1m3 0h1M4 6.5h1m34 0h1m7 0h1m7 0h1m4 0h1m2 0h1m10 0h1m1 0h1m1 0h1M11 11.5h1m6 0h1m6 0h1M33 16.5h1m0 0h1m1 0h1m19 0h1m1 0h1m0 0h1m0 0h1m9 0h1m1 0h1M3 20.5h1m15 0h1M42 22.5h1m13 0h1M40 23.5h1M0 24.5h1m10 0h1m40 0h1m3 0h1m2 0h1m0 0h1m3 0h1m10 0h1M7 25.5h1m0 0h1m2 0h1m1 0h1m4 0h1m0 0h1m18 0h1m14 0h1m3 0h1m15 0h1M3 27.5h1m2 0h1m3 0h1m2 0h1m3 0h1m0 0h1m9 0h1m2 0h1M19 29.5h1m22 0h1m17 0h1M0 30.5h1m12 0h1m7 0h1m2 0h1m5 0h1m1 0h1m17 0h1m0 0h1m23 0h1m3 0h1M31 31.5h1m3 0h1m11 0h1M48 33.5h1m4 0h1m5 0h1m15 0h1m0 0h1M2 35.5h1m3 0h1m9 0h1m6 0h1m0 0h1m10 0h1m7 0h1m3 0h1m3 0h1m1 0h1M2 37.5h1m0 0h1m2 0h1m0 0h1m1 0h1m3 0h1m4 0h1m13 0h1m35 0h1M0 39.5h1m6 0h1m4 0h1m10 0h1m7 0h1m0 0h1m8 0h1m7 0h1m22 0h1m1 0h1M38 40.5h1m21 0h1M3 43.5h1m0 0h1m0 0h1m9 0h1m21 0h1m1 0h1M0 45.5h1m7 0h1m1 0h1m3 0h1m9 0h1m2 0h1m8 0h1m8 0h1m3 0h1m4 0h1m0 0h1m0 0h1m1 0h1m12 0h1M10 48.5h1m5 0h1m6 0h1m12 0h1m7 0h1m0 0h1m5 0h1m18 0h1m3 0h1m0 0h1m0 0h1M4 49.5h1m2 0h1m8 0h1m4 0h1m8 0h1m8 0h1m1 0h1m7 0h1m0 0h1m5 0h1m3 0h1m5 0h1m1 0h1m2 0h1m0 0h1m3 0h1M1 50.5h1m5 0h1m4 0h1m16 0h1m13 0h1m3 0h1m1 0h1m5 0h1m6 0h1m6 0h1m1 0h1M0 52.5h1m0 0h1m2 0h1m1 0h1m3 0h1m28 0h1m4 0h1m1 0h1m2 0h1m8 0h1m9 0h1m3 0h1m5 0h1M11 53.5h1m2 0h1m13 0h1m12 0h1m0 0h1m7 0h1m0 0h1m2 0h1m3 0h1M2 58.5h1m2 0h1m4 0h1m10 0h1m1 0h1m1 0h1m0 0h1m4 0h1m3 0h1m3 0h1m2 0h1m0 0h1m13 0h1m4 0h1m5 0h1m5 0h1m2 0h1M4 60.5h1M20 61.5h1m40 0h1M1 63.5h1m5 0h1m9 0h1m25 0h1m8 0h1m3 0h1m1 0h1m3 0h1m2 0h1m3 0h1M0 65.5h1m9 0h1m17 0h1m8 0h1m11 0h1m20 0h1m6 0h1M0 67.5h1m15 0h1m39 0h1m1 0h1m8 0h1m8 0h1m0 0h1m1 0h1M1 71.5h1m10 0h1m0 0h1m0 0h1m1 0h1m3 0h1m13 0h1m4 0h1m0 0h1m12 0h1m0 0h1m12 0h1m4 0h1M7 72.5h1m2 0h1m2 0h1m6 0h1m7 0h1m5 0h1m1 0h1m13 0h1m7 0h1m11 0h1M3 73.5h1m0 0h1m0 0h1m0 0h1m3 0h1m32 0h1m31 0h1M1 75.5h1m16 0h1m3 0h1m0 0h1m21 0h1m0 0h1m4 0h1m0 0h1m2 0h1m1 0h1m11 0h1m2 0h1m1 0h1m0 0h1m0 0h1m1 0h1M38 78.5h1M33 81.5h1m1 0h1m4 0h1m1 0h1m9 0h1m1 0h1m6 0h1M8 82.5h1M21 88.5h1m8 0h1m13 0h1m12 0h1m0 0h1m3 0h1m9 0h1m4 0h1m1 0h1M5 89.5h1m6 0h1m1 0h1m4 0h1m5 0h1m1 0h1m5 0h1m9 0h1m0 0h1m6 0h1m6 0h1M2 90.5h1m10 0h1m7 0h1m15 0h1m7 0h1m7 0h1m1 0h1m5 0h1m2 0h1m1 0h1m4 0h1M21 91.5h1m12 0h1m10 0h1m2 0h1m6 0h1m5 0h1m4 0h1M2 92.5h1m18 0h1m15 0h1m10 0h1m6 0h1m5 0h1m4 0h1m4 0h1M8 93.5h1m4 0h1m7 0h1m12 0h1m10 0h1m9 0h1m5 0h1m4 0h1M45 94.5h1m2 0h1m4 0h1m1 0h1m5 0h1m2 0h1m6 0h1M2 95.5h1m10 0h1m7 0h1m12 0h1m2 0h1m7 0h1m2 0h1m4 0h1m1 0h1m5 0h1m2 0h1m1 0h1m4 0h1M2 96.5h1m10 0h1m17 0h1m2 0h1m2 0h1m7 0h1m2 0h1m12 0h1m2 0h1m1 0h1M2 97.5h1m10 0h1m17 0h1m13 0h1m2 0h1m4 0h1m1 0h1m5 0h1m2 0h1m1 0h1m4 0h1M45 98.5h1m9 0h1m4 0h1m15 0h1m0 0h1M38 99.5h1M40 100.5h1m25 0h1M7 102.5h1m31 0h1m3 0h1m20 0h1m11 0h1M0 104.5h1m0 0h1m1 0h1m7 0h1m36 0h1m11 0h1m0 0h1m8 0h1M3 105.5h1m0 0h1m0 0h1m2 0h1m4 0h1m2 0h1m2 0h1m9 0h1m4 0h1m1 0h1m17 0h1m2 0h1M11 106.5h1m7 0h1m40 0h1m4 0h1m1 0h1M2 107.5h1m3 0h1m11 0h1m2 0h1m5 0h1m0 0h1m14 0h1m1 0h1m14 0h1m7 0h1M54 108.5h1m4 0h1m12 0h1M24 110.5h1M31 111.5h1m47 0h1M0 112.5h1m8 0h1m0 0h1M8 115.5h1m17 0h1m0 0h1m5 0h1M2 116.5h1m6 0h1m11 0h1m0 0h1m0 0h1m5 0h1m3 0h1m17 0h1m1 0h1m0 0h1m2 0h1m2 0h1m1 0h1m9 0h1m6 0h1M45 123.5h1m5 0h1m0 0h1m4 0h1m7 0h1m12 0h1m0 0h1M1 128.5h1m33 0h1m42 0h1M12 129.5h1m6 0h1m1 0h1m1 0h1m5 0h1m9 0h1m2 0h1m8 0h1m4 0h1M6 131.5h1m2 0h1m9 0h1m9 0h1M45 133.5h1M41 135.5h1M11 136.5h1m4 0h1m8 0h1m0 0h1m5 0h1m3 0h1m14 0h1m13 0h1m9 0h1m0 0h1m0 0h1m1 0h1M2 137.5h1m2 0h1m24 0h1m0 0h1m9 0h1m27 0h1m2 0h1M31 141.5h1m33 0h1M4 142.5h1m8 0h1m14 0h1m2 0h1m21 0h1M2 144.5h1m11 0h1m22 0h1m7 0h1m25 0h1M11 145.5h1m9 0h1m10 0h1m9 0h1m19 0h1m10 0h1M5 146.5h1M1 149.5h1m5 0h1m21 0h1m0 0h1m1 0h1m21 0h1m0 0h1m4 0h1m1 0h1m4 0h1m2 0h1m2 0h1m1 0h1m3 0h1M43 151.5h1m26 0h1M0 152.5h1m13 0h1m0 0h1m5 0h1m4 0h1m1 0h1M53 154.5h1m17 0h1M6 155.5h1m11 0h1m1 0h1m7 0h1m0 0h1m5 0h1m7 0h1m1 0h1m0 0h1m7 0h1m2 0h1m0 0h1m10 0h1M4 156.5h1m4 0h1m3 0h1m13 0h1m27 0h1m1 0h1m15 0h1M22 161.5h1m16 0h1m15 0h1m1 0h1m2 0h1m13 0h1M32 162.5h1m3 0h1M72 163.5h1M11 165.5h1m19 0h1m27 0h1m3 0h1m14 0h1M52 166.5h1m3 0h1m0 0h1m1 0h1m2 0h1M8 167.5h1m3 0h1m10 0h1m7 0h1m15 0h1m5 0h1m10 0h1m0 0h1m1 0h1m2 0h1m4 0h1M40 168.5h1M36 171.5h1m8 0h1M5 172.5h1m55 0h1m15 0h1M39 173.5h1m1 0h1m0 0h1M39 174.5h1M40 175.5h1M9 176.5h1m2 0h1m2 0h1m4 0h1m6 0h1m15 0h1m2 0h1m6 0h1m0 0h1m1 0h1m3 0h1m8 0h1m3 0h1m0 0h1M8 177.5h1m8 0h1m3 0h1m1 0h1m6 0h1m0 0h1m3 0h1m19 0h1m3 0h1m4 0h1m5 0h1m1 0h1M7 179.5h1m8 0h1m6 0h1m3 0h1m1 0h1m1 0h1m3 0h1m20 0h1m1 0h1m3 0h1m1 0h1m2 0h1m5 0h1M19 180.5h1M4 182.5h1m0 0h1m0 0h1m20 0h1m21 0h1m1 0h1m1 0h1m2 0h1m0 0h1m5 0h1m0 0h1m4 0h1m4 0h1M0 184.5h1m12 0h1m20 0h1m2 0h1m10 0h1m0 0h1m15 0h1m8 0h1m3 0h1M14 186.5h1m11 0h1m3 0h1M11 188.5h1m6 0h1M54 190.5h1m9 0h1m5 0h1M10 191.5h1m3 0h1m8 0h1m3 0h1m1 0h1M5 192.5h1m73 0h1M6 193.5h1m1 0h1m7 0h1m26 0h1m3 0h1m4 0h1m5 0h1m7 0h1m11 0h1M23 196.5h1M42 198.5h1m27 0h1M44 199.5h1m12 0h1M43 200.5h1m4 0h1m13 0h1M35 201.5h1M8 202.5h1m1 0h1m0 0h1m4 0h1m42 0h1m8 0h1m2 0h1m1 0h1m1 0h1M3 204.5h1m10 0h1m8 0h1M3 205.5h1m22 0h1m13 0h1m14 0h1m0 0h1m6 0h1m0 0h1m9 0h1m1 0h1M2 206.5h1m3 0h1m5 0h1m4 0h1m0 0h1m5 0h1m1 0h1m5 0h1m0 0h1m25 0h1M32 207.5h1m14 0h1m3 0h1m2 0h1m8 0h1m6 0h1M2 208.5h1m25 0h1m6 0h1m1 0h1m4 0h1m3 0h1m12 0h1m18 0h1M3 209.5h1m5 0h1m0 0h1m6 0h1m35 0h1m3 0h1m0 0h1m3 0h1m6 0h1m8 0h1M1 211.5h1m15 0h1m0 0h1m17 0h1m0 0h1m41 0h1M40 212.5h1"/><path stroke="#ffffe0" d="M26 0.5h1m27 0h1M2 2.5h1m1 0h1m3 0h1m0 0h1m4 0h1m15 0h1m3 0h1m1 0h1m0 0h1m5 0h1m1 0h1m5 0h1m1 0h1m12 0h1m2 0h1m6 0h1m0 0h1M17 5.5h1m2 0h1m20 0h1m23 0h1m3 0h1M62 6.5h1m5 0h1M10 11.5h1m9 0h1m0 0h1m1 0h1m6 0h1m1 0h1m0 0h1m0 0h1m19 0h1M13 15.5h1M40 16.5h1m5 0h1m2 0h1m2 0h1m0 0h1m9 0h1m5 0h1m7 0h1M34 22.5h1m4 0h1m1 0h1m9 0h1m10 0h1m9 0h1m1 0h1M45 23.5h1m9 0h1m9 0h1m7 0h1M2 24.5h1m0 0h1m19 0h1m3 0h1m0 0h1m1 0h1m20 0h1m5 0h1M2 25.5h1m3 0h1m3 0h1m5 0h1m5 0h1m19 0h1m7 0h1m5 0h1m2 0h1m2 0h1m5 0h1m8 0h1m1 0h1M4 27.5h1m11 0h1m3 0h1m2 0h1m13 0h1m0 0h1m3 0h1M61 29.5h1M2 30.5h1m2 0h1m6 0h1m2 0h1m1 0h1m0 0h1m41 0h1M39 31.5h1M12 32.5h1M0 33.5h1m0 0h1m0 0h1m8 0h1m1 0h1m4 0h1m0 0h1m8 0h1m3 0h1m25 0h1m5 0h1m2 0h1m2 0h1M3 34.5h1m18 0h1m0 0h1m0 0h1m9 0h1m43 0h1M1 35.5h1m2 0h1m4 0h1m0 0h1m1 0h1m1 0h1m15 0h1m14 0h1m3 0h1m15 0h1M4 37.5h1m0 0h1m2 0h1m17 0h1M8 39.5h1m0 0h1m4 0h1m0 0h1m2 0h1m2 0h1m2 0h1m1 0h1m1 0h1m1 0h1m30 0h1m17 0h1M22 40.5h1m12 0h1m18 0h1M0 43.5h1m6 0h1m4 0h1m11 0h1m6 0h1m2 0h1m0 0h1m6 0h1M1 45.5h1m16 0h1m4 0h1m6 0h1m13 0h1m12 0h1m4 0h1m1 0h1m5 0h1m3 0h1m4 0h1M8 48.5h1m5 0h1m2 0h1m11 0h1m0 0h1m1 0h1m5 0h1m4 0h1m2 0h1m0 0h1m4 0h1m6 0h1m6 0h1m4 0h1m5 0h1M6 49.5h1m1 0h1m13 0h1m2 0h1m7 0h1m4 0h1m9 0h1m8 0h1m3 0h1m3 0h1m1 0h1M0 50.5h1m8 0h1m11 0h1m10 0h1m4 0h1m3 0h1m6 0h1m15 0h1M7 52.5h1m1 0h1m14 0h1m0 0h1m1 0h1m2 0h1m2 0h1m1 0h1m1 0h1m0 0h1m2 0h1m21 0h1m15 0h1M15 53.5h1m10 0h1m5 0h1m4 0h1m1 0h1m9 0h1m10 0h1m0 0h1m1 0h1m0 0h1M7 57.5h1m25 0h1M13 58.5h1m5 0h1m2 0h1m6 0h1m7 0h1m16 0h1m10 0h1m1 0h1m1 0h1m0 0h1m8 0h1M8 60.5h1m4 0h1m9 0h1M47 61.5h1M12 63.5h1m3 0h1m4 0h1m4 0h1m2 0h1m0 0h1m0 0h1m14 0h1m21 0h1M8 65.5h1m4 0h1m8 0h1m9 0h1m17 0h1m13 0h1m1 0h1M4 67.5h1m9 0h1m16 0h1m18 0h1m1 0h1M2 71.5h1m4 0h1m0 0h1m0 0h1m8 0h1m0 0h1m5 0h1m10 0h1m11 0h1m12 0h1m15 0h1M5 72.5h1m12 0h1m14 0h1m1 0h1m20 0h1m5 0h1M32 73.5h1m1 0h1m2 0h1m8 0h1m4 0h1m3 0h1m9 0h1m0 0h1m0 0h1m1 0h1m6 0h1m2 0h1M3 75.5h1m5 0h1m4 0h1m1 0h1m3 0h1m4 0h1m2 0h1m5 0h1m9 0h1m2 0h1m1 0h1m6 0h1m5 0h1m5 0h1m2 0h1m7 0h1M5 81.5h1m7 0h1m13 0h1m9 0h1m1 0h1m10 0h1m19 0h1M0 82.5h1m4 0h1m0 0h1m2 0h1m7 0h1m4 0h1m2 0h1m10 0h1M5 87.5h1m5 0h1m2 0h1m6 0h1m15 0h1M4 88.5h1m5 0h1m14 0h1m13 0h1m11 0h1m19 0h1M9 89.5h1m5 0h1m5 0h1m30 0h1M0 90.5h1m6 0h1m21 0h1m2 0h1m0 0h1m42 0h1M7 91.5h1m21 0h1m2 0h1m0 0h1M4 92.5h1m2 0h1m21 0h1m2 0h1m0 0h1M5 93.5h1m1 0h1m14 0h1m6 0h1m2 0h1m0 0h1m42 0h1M7 94.5h1m21 0h1m0 0h1m1 0h1m0 0h1m42 0h1M0 95.5h1m6 0h1m7 0h1m13 0h1m0 0h1m1 0h1m0 0h1m42 0h1M4 96.5h1m2 0h1m7 0h1m13 0h1m0 0h1m1 0h1m0 0h1m42 0h1M4 97.5h1m2 0h1m21 0h1m0 0h1m1 0h1m0 0h1M3 98.5h1m13 0h1m6 0h1m21 0h1m18 0h1m4 0h1m1 0h1m0 0h1m0 0h1M1 99.5h1m1 0h1m31 0h1m5 0h1m10 0h1M29 104.5h1M0 105.5h1m11 0h1m2 0h1m2 0h1m3 0h1m23 0h1m5 0h1m2 0h1m2 0h1m2 0h1m7 0h1m0 0h1m4 0h1M9 106.5h1m14 0h1m2 0h1m0 0h1m27 0h1M10 107.5h1m4 0h1m9 0h1m0 0h1m17 0h1m2 0h1m25 0h1M3 108.5h1m15 0h1m22 0h1m4 0h1m1 0h1m8 0h1m2 0h1m12 0h1M22 110.5h1M1 112.5h1m3 0h1m25 0h1m13 0h1m5 0h1m2 0h1m1 0h1m18 0h1M3 116.5h1m1 0h1m5 0h1m7 0h1m6 0h1m7 0h1m0 0h1m8 0h1m16 0h1m1 0h1m7 0h1m3 0h1m0 0h1M5 117.5h1m5 0h1m6 0h1m8 0h1m7 0h1m1 0h1M38 123.5h1m0 0h1m27 0h1M7 128.5h1m0 0h1m2 0h1m19 0h1m4 0h1m11 0h1m12 0h1m11 0h1M26 129.5h1m3 0h1m13 0h1m21 0h1M29 130.5h1M12 131.5h1m0 0h1m6 0h1m17 0h1m6 0h1m1 0h1m3 0h1m13 0h1m9 0h1m3 0h1M34 133.5h1m3 0h1m11 0h1m5 0h1m11 0h1m1 0h1m3 0h1m1 0h1M57 135.5h1m17 0h1M5 136.5h1m1 0h1m34 0h1m5 0h1m0 0h1m5 0h1m6 0h1m5 0h1M1 137.5h1m35 0h1m8 0h1m1 0h1m0 0h1m28 0h1M38 139.5h1M33 140.5h1M0 141.5h1m33 0h1m0 0h1m22 0h1M0 142.5h1m5 0h1m7 0h1m5 0h1M1 144.5h1m4 0h1m4 0h1m5 0h1m6 0h1m1 0h1m1 0h1m7 0h1M23 145.5h1m22 0h1m7 0h1m12 0h1m0 0h1M2 146.5h1m5 0h1m24 0h1m0 0h1m0 0h1m1 0h1m8 0h1M7 147.5h1m2 0h1m7 0h1M40 148.5h1M15 149.5h1m5 0h1m0 0h1m0 0h1m0 0h1m25 0h1m20 0h1m2 0h1M3 152.5h1m5 0h1m0 0h1m2 0h1m4 0h1m4 0h1m11 0h1M76 154.5h1M3 155.5h1m0 0h1m6 0h1m0 0h1m29 0h1m16 0h1m5 0h1M5 156.5h1m12 0h1m37 0h1M16 161.5h1m1 0h1m2 0h1m11 0h1m7 0h1m1 0h1m14 0h1m2 0h1m0 0h1m14 0h1M3 162.5h1m2 0h1m6 0h1m13 0h1m2 0h1m0 0h1m25 0h1m4 0h1M57 165.5h1m12 0h1m4 0h1M54 166.5h1m18 0h1m3 0h1M79 167.5h1M68 168.5h1M6 172.5h1m12 0h1m22 0h1m6 0h1m14 0h1m0 0h1m9 0h1m2 0h1M49 173.5h1m15 0h1M38 175.5h1M47 176.5h1m7 0h1m16 0h1M2 177.5h1m2 0h1m0 0h1m25 0h1m3 0h1m21 0h1m3 0h1M0 179.5h1m2 0h1m6 0h1m0 0h1m2 0h1m0 0h1m10 0h1m3 0h1m1 0h1m19 0h1m16 0h1m1 0h1m5 0h1M26 180.5h1m9 0h1m20 0h1M1 182.5h1m10 0h1m49 0h1m9 0h1m0 0h1m4 0h1M36 184.5h1m18 0h1m14 0h1m1 0h1M4 186.5h1m2 0h1m2 0h1m4 0h1m0 0h1m2 0h1m9 0h1m2 0h1m2 0h1m16 0h1m8 0h1M39 189.5h1M72 190.5h1m0 0h1m3 0h1M20 191.5h1m14 0h1M35 192.5h1m15 0h1M3 193.5h1m19 0h1m1 0h1m3 0h1m20 0h1m4 0h1m0 0h1m0 0h1m1 0h1m5 0h1m11 0h1M3 194.5h1m7 0h1m14 0h1m21 0h1m3 0h1M44 195.5h1M8 198.5h1m19 0h1m19 0h1m5 0h1M69 199.5h1M47 200.5h1M41 201.5h1M3 202.5h1m5 0h1m5 0h1m2 0h1m4 0h1m4 0h1m6 0h1m0 0h1m6 0h1m9 0h1m2 0h1m5 0h1m0 0h1m5 0h1m2 0h1M2 204.5h1m1 0h1m2 0h1m4 0h1m4 0h1m1 0h1m8 0h1m14 0h1M9 205.5h1m31 0h1m10 0h1m14 0h1m1 0h1M5 206.5h1m19 0h1m2 0h1m2 0h1m17 0h1m11 0h1m7 0h1m9 0h1M2 207.5h1m0 0h1m15 0h1m33 0h1m11 0h1M9 208.5h1m1 0h1m4 0h1m4 0h1m45 0h1m0 0h1M19 209.5h1m48 0h1m6 0h1m1 0h1m1 0h1M3 211.5h1m8 0h1m2 0h1m15 0h1M1 212.5h1m40 0h1m20 0h1m11 0h1"/><path stroke="#aed7eb" d="M34 0.5h1m1 0h1m30 0h1M1 1.5h1m6 0h1m6 0h1m13 0h1m5 0h1m0 0h1m9 0h1m2 0h1m7 0h1m3 0h1m3 0h1m4 0h1m4 0h1M38 5.5h1M6 7.5h1m1 0h1m1 0h1m11 0h1m23 0h1m3 0h1m4 0h1m15 0h1M8 9.5h1m1 0h1m8 0h1m14 0h1m42 0h1M4 10.5h1m2 0h1m1 0h1m1 0h1m5 0h1m4 0h1m20 0h1m3 0h1m7 0h1m1 0h1m16 0h1M40 11.5h1m0 0h1m21 0h1M10 13.5h1m1 0h1m8 0h1m18 0h1m11 0h1m1 0h1m9 0h1m10 0h1m3 0h1M2 14.5h1m4 0h1m9 0h1m2 0h1m0 0h1m1 0h1m3 0h1m16 0h1m0 0h1m2 0h1m5 0h1m5 0h1m11 0h1m2 0h1M3 15.5h1m4 0h1m6 0h1m5 0h1m8 0h1m8 0h1m1 0h1m11 0h1m1 0h1m1 0h1m10 0h1m2 0h1m6 0h1M3 18.5h1m39 0h1m15 0h1m0 0h1M36 21.5h1m7 0h1m15 0h1m18 0h1M6 22.5h1m2 0h1m3 0h1m1 0h1m28 0h1m10 0h1M58 27.5h1M0 32.5h1m43 0h1m11 0h1m13 0h1m3 0h1m0 0h1m0 0h1M42 34.5h1m1 0h1M8 38.5h1m2 0h1m9 0h1m1 0h1m9 0h1m4 0h1m16 0h1m6 0h1m3 0h1m0 0h1M12 40.5h1M45 42.5h1m9 0h1m5 0h1M47 43.5h1m6 0h1m19 0h1m0 0h1M3 44.5h1m18 0h1M38 45.5h1M5 55.5h1m7 0h1m0 0h1m0 0h1m2 0h1m32 0h1m15 0h1M11 56.5h1m3 0h1m3 0h1m1 0h1m7 0h1m16 0h1m3 0h1M9 57.5h1m34 0h1m3 0h1M2 59.5h1m0 0h1m0 0h1m4 0h1m2 0h1m5 0h1m0 0h1m10 0h1m0 0h1m12 0h1m0 0h1m14 0h1M40 60.5h1m14 0h1m17 0h1m1 0h1M9 69.5h1m1 0h1m23 0h1m6 0h1m8 0h1M40 73.5h1M0 81.5h1M65 82.5h1m8 0h1M16 83.5h1m8 0h1M13 84.5h1m5 0h1m0 0h1m8 0h1m8 0h1m0 0h1m1 0h1m0 0h1m6 0h1m14 0h1m4 0h1M11 86.5h1m2 0h1m13 0h1m28 0h1m8 0h1M51 87.5h1m0 0h1m10 0h1M6 99.5h1m1 0h1m57 0h1m4 0h1M39 103.5h1M8 109.5h1m4 0h1m6 0h1m12 0h1m18 0h1m5 0h1m6 0h1m0 0h1m0 0h1M40 110.5h1m10 0h1m12 0h1m1 0h1M29 117.5h1m34 0h1m0 0h1m1 0h1m4 0h1m5 0h1M13 118.5h1m14 0h1m16 0h1m20 0h1m8 0h1m1 0h1m0 0h1M0 120.5h1m4 0h1m7 0h1m9 0h1m11 0h1m0 0h1m3 0h1m1 0h1m0 0h1m9 0h1m4 0h1m9 0h1m4 0h1M6 121.5h1m2 0h1m5 0h1m2 0h1m6 0h1m2 0h1m1 0h1m0 0h1m0 0h1m0 0h1m18 0h1m6 0h1m12 0h1M72 122.5h1m1 0h1M5 124.5h1m1 0h1m3 0h1m3 0h1m0 0h1m1 0h1m0 0h1m1 0h1m2 0h1m6 0h1m27 0h1m1 0h1m2 0h1m3 0h1M14 126.5h1m3 0h1m7 0h1m12 0h1m2 0h1m13 0h1m0 0h1m3 0h1m5 0h1m11 0h1M5 127.5h1m20 0h1m1 0h1m12 0h1m3 0h1m0 0h1m8 0h1m13 0h1m2 0h1m3 0h1m0 0h1M25 128.5h1M4 130.5h1m12 0h1m0 0h1m16 0h1m5 0h1m5 0h1m2 0h1m1 0h1m6 0h1m12 0h1M4 132.5h1m2 0h1m0 0h1m1 0h1m24 0h1m10 0h1m2 0h1m3 0h1m8 0h1m3 0h1M6 133.5h1m13 0h1M6 135.5h1m9 0h1m6 0h1m11 0h1m17 0h1M3 138.5h1m0 0h1m4 0h1m6 0h1m2 0h1m2 0h1m2 0h1m9 0h1M15 140.5h1m2 0h1m1 0h1m2 0h1m6 0h1M63 141.5h1M34 142.5h1m2 0h1m1 0h1m2 0h1m5 0h1M15 143.5h1m1 0h1m6 0h1m2 0h1m2 0h1m3 0h1m22 0h1m7 0h1m1 0h1m0 0h1m1 0h1m6 0h1M57 147.5h1m2 0h1m0 0h1M34 150.5h1M40 152.5h1m13 0h1m3 0h1m1 0h1m0 0h1m2 0h1m4 0h1m3 0h1M39 154.5h1m2 0h1m36 0h1M1 168.5h1m1 0h1m1 0h1m5 0h1m3 0h1m3 0h1m1 0h1m8 0h1m23 0h1m10 0h1m6 0h1m3 0h1m2 0h1M37 172.5h1M2 173.5h1m15 0h1m38 0h1M41 177.5h1M38 180.5h1m1 0h1m1 0h1m13 0h1m3 0h1m0 0h1m4 0h1m7 0h1M38 183.5h1m24 0h1M2 186.5h1M42 192.5h1M32 194.5h1M9 195.5h1m0 0h1m1 0h1m11 0h1m7 0h1m1 0h1m25 0h1m0 0h1m7 0h1m2 0h1m4 0h1M63 198.5h1M2 203.5h1m0 0h1m17 0h1m1 0h1m3 0h1m32 0h1m11 0h1m3 0h1m2 0h1M3 210.5h1m1 0h1m0 0h1m1 0h1m4 0h1m1 0h1m16 0h1m7 0h1m2 0h1m3 0h1m8 0h1m4 0h1M10 212.5h1m55 0h1m7 0h1"/><path stroke="#9cceee" d="M38 0.5h1m3 0h1m7 0h1M39 1.5h1m0 0h1m3 0h1m7 0h1m0 0h1m4 0h1m13 0h1m0 0h1m0 0h1m3 0h1M52 7.5h1m6 0h1m2 0h1m16 0h1M7 9.5h1m19 0h1m0 0h1m0 0h1m0 0h1m5 0h1m0 0h1m16 0h1m1 0h1m18 0h1M2 10.5h1m12 0h1m7 0h1m0 0h1m2 0h1m9 0h1m10 0h1m4 0h1m5 0h1m0 0h1m1 0h1m1 0h1m0 0h1m3 0h1m2 0h1m4 0h1m0 0h1M38 11.5h1m3 0h1M30 12.5h1M31 13.5h1m5 0h1m3 0h1m9 0h1m5 0h1m16 0h1m3 0h1M43 14.5h1m7 0h1m6 0h1m5 0h1m3 0h1m1 0h1m2 0h1m5 0h1M38 15.5h1m3 0h1m3 0h1m7 0h1m15 0h1m4 0h1m3 0h1M4 18.5h1m1 0h1m41 0h1m16 0h1m3 0h1m6 0h1m0 0h1M34 21.5h1m2 0h1m11 0h1m3 0h1m3 0h1m1 0h1m12 0h1m0 0h1M4 22.5h1m3 0h1M2 32.5h1m14 0h1m33 0h1m2 0h1m2 0h1m0 0h1m7 0h1m4 0h1M1 38.5h1m8 0h1m7 0h1m7 0h1m34 0h1m1 0h1m4 0h1M25 40.5h1m2 0h1M10 42.5h1m4 0h1m0 0h1m1 0h1m31 0h1m11 0h1m5 0h1m0 0h1m0 0h1m4 0h1M67 43.5h1M26 44.5h1m34 0h1M7 55.5h1m1 0h1m1 0h1m0 0h1m4 0h1m14 0h1m28 0h1m9 0h1m3 0h1m2 0h1M14 56.5h1m3 0h1m6 0h1m9 0h1m17 0h1m2 0h1m9 0h1m0 0h1m3 0h1m3 0h1M45 57.5h1m0 0h1m8 0h1m0 0h1m0 0h1m8 0h1m2 0h1m0 0h1m3 0h1M15 59.5h1m1 0h1m6 0h1m1 0h1m5 0h1m7 0h1m2 0h1m2 0h1m8 0h1m0 0h1m0 0h1m4 0h1m10 0h1m3 0h1M47 60.5h1m9 0h1m1 0h1m3 0h1m3 0h1m9 0h1M3 69.5h1m4 0h1m3 0h1m2 0h1m16 0h1m6 0h1m1 0h1m2 0h1M42 72.5h1M72 82.5h1M6 83.5h1m1 0h1m0 0h1m0 0h1m3 0h1m0 0h1m19 0h1m6 0h1m11 0h1M2 84.5h1m0 0h1m1 0h1m17 0h1m12 0h1m8 0h1m5 0h1m0 0h1m23 0h1M3 86.5h1m21 0h1m17 0h1M46 87.5h1m14 0h1m2 0h1m8 0h1m3 0h1M18 99.5h1m8 0h1m17 0h1m22 0h1m0 0h1M24 101.5h1M62 103.5h1m3 0h1M18 109.5h1m4 0h1m26 0h1m12 0h1m9 0h1M42 110.5h1m3 0h1M0 118.5h1m37 0h1m9 0h1m2 0h1M6 120.5h1m0 0h1m22 0h1m7 0h1m39 0h1M12 121.5h1m3 0h1m4 0h1m24 0h1m9 0h1M5 122.5h1m44 0h1m14 0h1m9 0h1M8 124.5h1m14 0h1m8 0h1m16 0h1m3 0h1m2 0h1m9 0h1m3 0h1m6 0h1M44 126.5h1m21 0h1m2 0h1M1 127.5h1m11 0h1m0 0h1m7 0h1m1 0h1m49 0h1m4 0h1M28 130.5h1m3 0h1m18 0h1M5 132.5h1m7 0h1m2 0h1m1 0h1m7 0h1m20 0h1m21 0h1M24 133.5h1M26 135.5h1M8 138.5h1m4 0h1m12 0h1m31 0h1m15 0h1m0 0h1M25 140.5h1M69 141.5h1M2 143.5h1m5 0h1m3 0h1m0 0h1m4 0h1m0 0h1m1 0h1m3 0h1m6 0h1m7 0h1m4 0h1m6 0h1m11 0h1M5 150.5h1m1 0h1m2 0h1m24 0h1m1 0h1m0 0h1M38 152.5h1m0 0h1m6 0h1m0 0h1m5 0h1m5 0h1m2 0h1m4 0h1M40 154.5h1M71 158.5h1M9 168.5h1m16 0h1m36 0h1m2 0h1M41 178.5h1M39 180.5h1m4 0h1m28 0h1M3 181.5h1m18 0h1m17 0h1M0 183.5h1m9 0h1m0 0h1m6 0h1m2 0h1m12 0h1m9 0h1m0 0h1m19 0h1m2 0h1m2 0h1m2 0h1M13 195.5h1m0 0h1m3 0h1m16 0h1M44 203.5h1m6 0h1m14 0h1M4 210.5h1m7 0h1m14 0h1m3 0h1m1 0h1m0 0h1m9 0h1m13 0h1m8 0h1m7 0h1m3 0h1"/><path stroke="#b7dbea" d="M39 0.5h1m7 0h1m20 0h1m2 0h1M12 1.5h1m15 0h1M0 7.5h1m2 0h1m35 0h1m14 0h1m2 0h1m2 0h1m8 0h1M3 9.5h1m8 0h1M8 10.5h1m4 0h1m2 0h1m16 0h1m2 0h1m17 0h1m1 0h1m4 0h1m5 0h1M43 11.5h1m32 0h1M1 13.5h1m9 0h1m1 0h1m4 0h1m4 0h1m3 0h1m5 0h1m29 0h1m1 0h1m0 0h1M12 14.5h1m0 0h1m20 0h1m1 0h1m3 0h1m9 0h1m8 0h1m1 0h1m3 0h1m3 0h1m4 0h1m1 0h1m1 0h1M17 15.5h1m11 0h1m6 0h1m6 0h1m14 0h1m0 0h1M5 18.5h1m5 0h1m1 0h1m6 0h1m2 0h1m4 0h1m2 0h1m12 0h1m4 0h1m1 0h1m6 0h1m3 0h1M35 21.5h1m14 0h1m26 0h1M7 22.5h1m9 0h1m7 0h1m31 0h1M5 23.5h1m4 0h1m7 0h1m2 0h1m42 0h1m14 0h1M65 27.5h1m7 0h1M42 30.5h1M45 32.5h1m7 0h1m6 0h1m6 0h1M33 33.5h1M57 34.5h1m1 0h1M9 38.5h1m2 0h1m4 0h1m2 0h1m9 0h1m12 0h1m15 0h1m9 0h1M1 40.5h1m0 0h1m11 0h1m5 0h1m34 0h1M64 42.5h1m1 0h1M56 43.5h1M2 55.5h1m17 0h1m3 0h1M0 56.5h1m12 0h1m2 0h1m5 0h1m1 0h1M4 57.5h1m5 0h1m2 0h1m0 0h1m4 0h1m15 0h1m13 0h1m11 0h1M5 59.5h1m0 0h1m6 0h1m13 0h1m0 0h1m10 0h1m18 0h1M37 60.5h1m6 0h1m19 0h1M1 69.5h1m8 0h1m6 0h1m19 0h1m2 0h1M64 71.5h1M61 72.5h1M11 81.5h1m0 0h1M48 82.5h1m0 0h1m1 0h1m14 0h1M12 83.5h1M10 84.5h1m1 0h1m4 0h1m13 0h1m0 0h1m1 0h1m5 0h1m6 0h1M1 86.5h1m0 0h1m2 0h1m3 0h1m13 0h1m0 0h1m4 0h1m10 0h1m0 0h1m6 0h1m3 0h1m8 0h1m8 0h1m6 0h1M7 87.5h1m2 0h1m19 0h1m12 0h1m0 0h1m3 0h1m0 0h1m0 0h1m3 0h1m15 0h1m1 0h1m2 0h1m3 0h1M7 99.5h1m12 0h1m0 0h1m24 0h1m0 0h1m6 0h1m5 0h1m0 0h1m1 0h1m1 0h1M41 105.5h1M7 109.5h1m14 0h1m1 0h1m1 0h1m0 0h1m7 0h1m2 0h1m1 0h1m18 0h1m4 0h1m4 0h1M12 110.5h1m1 0h1m19 0h1m30 0h1m7 0h1M41 117.5h1m5 0h1m15 0h1M2 118.5h1m2 0h1m0 0h1m2 0h1m19 0h1m4 0h1m2 0h1m5 0h1m2 0h1M3 120.5h1m7 0h1m3 0h1m1 0h1m0 0h1m0 0h1m2 0h1m23 0h1m9 0h1m3 0h1m14 0h1M2 121.5h1m0 0h1m19 0h1m13 0h1m26 0h1M18 122.5h1m11 0h1M42 123.5h1M2 124.5h1m11 0h1m5 0h1m1 0h1m3 0h1m11 0h1m3 0h1m11 0h1m23 0h1M8 126.5h1m7 0h1m2 0h1m8 0h1m22 0h1m1 0h1m18 0h1M47 127.5h1m0 0h1m4 0h1m7 0h1m9 0h1m1 0h1M0 130.5h1m1 0h1m0 0h1m9 0h1m10 0h1m11 0h1m40 0h1m0 0h1M2 132.5h1m12 0h1m13 0h1m4 0h1m9 0h1m13 0h1m2 0h1m8 0h1M4 133.5h1m10 0h1m13 0h1m0 0h1m9 0h1m16 0h1m13 0h1M24 135.5h1m3 0h1m0 0h1m6 0h1m14 0h1m4 0h1m9 0h1m4 0h1m1 0h1M38 136.5h1M0 138.5h1m0 0h1m8 0h1m4 0h1m2 0h1m1 0h1m2 0h1m4 0h1m0 0h1m4 0h1M0 140.5h1m15 0h1m2 0h1m11 0h1m46 0h1M5 141.5h1m10 0h1m2 0h1m26 0h1M40 142.5h1m19 0h1m9 0h1M11 143.5h1m24 0h1m5 0h1m3 0h1m7 0h1m1 0h1m1 0h1m2 0h1m0 0h1m0 0h1m7 0h1M69 144.5h1M10 146.5h1M62 147.5h1m2 0h1M8 150.5h1m16 0h1m10 0h1m4 0h1M57 152.5h1m7 0h1m10 0h1m0 0h1m1 0h1M11 154.5h1m21 0h1m21 0h1M38 155.5h1M18 160.5h1M44 162.5h1M48 165.5h1M7 168.5h1m8 0h1m1 0h1m5 0h1m2 0h1m4 0h1m1 0h1m1 0h1m9 0h1m6 0h1m2 0h1m2 0h1M36 172.5h1m8 0h1M0 173.5h1m6 0h1m3 0h1m1 0h1m7 0h1m2 0h1m1 0h1M42 177.5h1M38 179.5h1M3 180.5h1m33 0h1m7 0h1m19 0h1m5 0h1M40 183.5h1M40 186.5h1m1 0h1m32 0h1m1 0h1M41 190.5h1M8 194.5h1M3 195.5h1m1 0h1m0 0h1m1 0h1m14 0h1m6 0h1m23 0h1m2 0h1M31 198.5h1m20 0h1m14 0h1M38 202.5h1M5 203.5h1m11 0h1m25 0h1m9 0h1m1 0h1m0 0h1m2 0h1m17 0h1M39 204.5h1m25 0h1M24 210.5h1m32 0h1m1 0h1m2 0h1m13 0h1M3 212.5h1m23 0h1"/><path stroke="#93caef" d="M40 0.5h1M33 1.5h1m4 0h1m8 0h1m0 0h1m10 0h1m0 0h1m7 0h1M1 7.5h1m45 0h1m0 0h1m14 0h1M18 8.5h1m0 0h1m13 0h1M23 9.5h1m1 0h1m9 0h1m4 0h1m1 0h1m3 0h1m10 0h1M12 10.5h1m1 0h1m14 0h1m14 0h1M44 13.5h1m4 0h1m3 0h1m14 0h1m4 0h1M44 15.5h1m16 0h1m0 0h1M16 18.5h1m23 0h1m9 0h1m2 0h1m9 0h1m8 0h1m1 0h1m0 0h1m3 0h1M2 21.5h1m3 0h1m9 0h1m28 0h1m5 0h1m6 0h1m8 0h1m3 0h1M22 22.5h1m7 0h1M46 32.5h1m1 0h1m0 0h1m12 0h1m16 0h1M5 36.5h1M19 38.5h1m12 0h1m1 0h1m2 0h1m12 0h1m3 0h1m2 0h1m6 0h1m9 0h1m0 0h1m1 0h1M4 42.5h1m7 0h1m6 0h1m5 0h1m0 0h1m7 0h1m2 0h1m19 0h1m9 0h1m6 0h1M31 44.5h1m3 0h1m10 0h1m1 0h1m16 0h1m9 0h1m2 0h1M16 54.5h1m0 0h1m9 0h1m40 0h1m5 0h1M1 55.5h1m1 0h1m0 0h1m29 0h1m0 0h1m9 0h1m20 0h1m7 0h1M3 56.5h1m1 0h1m6 0h1m13 0h1m24 0h1m12 0h1m5 0h1m2 0h1m0 0h1m1 0h1M26 57.5h1m23 0h1m0 0h1m6 0h1m3 0h1m2 0h1m2 0h1m2 0h1m5 0h1M1 59.5h1m23 0h1m21 0h1m5 0h1m0 0h1m9 0h1m2 0h1m1 0h1m8 0h1M0 69.5h1m4 0h1m14 0h1m0 0h1m0 0h1m2 0h1m0 0h1m3 0h1m0 0h1m33 0h1M0 83.5h1m1 0h1m0 0h1m13 0h1m3 0h1m8 0h1m6 0h1m3 0h1m6 0h1m7 0h1m5 0h1m1 0h1m13 0h1M0 84.5h1m3 0h1m1 0h1m36 0h1m28 0h1M16 86.5h1m14 0h1m0 0h1m11 0h1m15 0h1M45 87.5h1m11 0h1m1 0h1m16 0h1M1 101.5h1m17 0h1m53 0h1M21 103.5h1m13 0h1m5 0h1m4 0h1m3 0h1M39 105.5h1M4 109.5h1m5 0h1m0 0h1m22 0h1m10 0h1m2 0h1m6 0h1m1 0h1m14 0h1m2 0h1M39 118.5h1m19 0h1m2 0h1m11 0h1M4 120.5h1m23 0h1m38 0h1m1 0h1m0 0h1M10 121.5h1m6 0h1m1 0h1m27 0h1m13 0h1m0 0h1m6 0h1m0 0h1M1 122.5h1m20 0h1m6 0h1m3 0h1m10 0h1m19 0h1m14 0h1M1 124.5h1m15 0h1m27 0h1m1 0h1m3 0h1m5 0h1m4 0h1m8 0h1m0 0h1M35 126.5h1m5 0h1M0 127.5h1m14 0h1m3 0h1m5 0h1m5 0h1m0 0h1m6 0h1m2 0h1m6 0h1m10 0h1m4 0h1M5 130.5h1m36 0h1M0 132.5h1m0 0h1m20 0h1m5 0h1m4 0h1m11 0h1M26 133.5h1M0 135.5h1m32 0h1M45 138.5h1m17 0h1M22 140.5h1M9 143.5h1m0 0h1m22 0h1m9 0h1m0 0h1m2 0h1m18 0h1m12 0h1M42 152.5h1m12 0h1M41 158.5h1m3 0h1m29 0h1M60 160.5h1M14 168.5h1m32 0h1M4 173.5h1M42 179.5h1M0 180.5h1M50 181.5h1m10 0h1m6 0h1M3 183.5h1m9 0h1m2 0h1m35 0h1m0 0h1m3 0h1m14 0h1M39 186.5h1M4 195.5h1m15 0h1m37 0h1M6 203.5h1m4 0h1m38 0h1m12 0h1M25 210.5h1m52 0h1"/><path stroke="#6fb8f4" d="M41 0.5h1M3 8.5h1m6 0h1m2 0h1m1 0h1m4 0h1m3 0h1m3 0h1m6 0h1m7 0h1m2 0h1m4 0h1M20 9.5h1m37 0h1m2 0h1m7 0h1m6 0h1M49 10.5h1m20 0h1M0 12.5h1m4 0h1m1 0h1m7 0h1m20 0h1M57 14.5h1M7 17.5h1m13 0h1m4 0h1m1 0h1m36 0h1m6 0h1M12 21.5h1m0 0h1m7 0h1m5 0h1m2 0h1m0 0h1M6 36.5h1m0 0h1m0 0h1m21 0h1m21 0h1m7 0h1m14 0h1M42 38.5h1M5 42.5h1m1 0h1m20 0h1m0 0h1m1 0h1m1 0h1m24 0h1m6 0h1M4 44.5h1m9 0h1m0 0h1m8 0h1m15 0h1m8 0h1m5 0h1m3 0h1m10 0h1m1 0h1m0 0h1m0 0h1m2 0h1M1 54.5h1m2 0h1m4 0h1m0 0h1m11 0h1m1 0h1m4 0h1m0 0h1m0 0h1m2 0h1m6 0h1m5 0h1m0 0h1m0 0h1m1 0h1m7 0h1m12 0h1m2 0h1M22 55.5h1m15 0h1m0 0h1m2 0h1m0 0h1m5 0h1m4 0h1m0 0h1m12 0h1m4 0h1m3 0h1M43 57.5h1M3 64.5h1m3 0h1m6 0h1m13 0h1m1 0h1m7 0h1m5 0h1m5 0h1m6 0h1m15 0h1m0 0h1m1 0h1M53 69.5h1m3 0h1m12 0h1m0 0h1m2 0h1m2 0h1M39 72.5h1M4 83.5h1m8 0h1m4 0h1m28 0h1m1 0h1m3 0h1m11 0h1m6 0h1M22 84.5h1m23 0h1M3 101.5h1m9 0h1m0 0h1m2 0h1m10 0h1m3 0h1m22 0h1m1 0h1m21 0h1M0 103.5h1m11 0h1m35 0h1m2 0h1m0 0h1m2 0h1M40 105.5h1M65 120.5h1M41 121.5h1m7 0h1m8 0h1m1 0h1m13 0h1M10 122.5h1m0 0h1m4 0h1m2 0h1m1 0h1m26 0h1m17 0h1m2 0h1m3 0h1m4 0h1M7 127.5h1m21 0h1M27 132.5h1M36 138.5h1m13 0h1m0 0h1m2 0h1m0 0h1m11 0h1m8 0h1M28 143.5h1m46 0h1m0 0h1M0 158.5h1m0 0h1m3 0h1m2 0h1m16 0h1m1 0h1m0 0h1m2 0h1m0 0h1m6 0h1m0 0h1m1 0h1m3 0h1m6 0h1m0 0h1m14 0h1M8 160.5h1m11 0h1m22 0h1m0 0h1m5 0h1m3 0h1m4 0h1m1 0h1m0 0h1m7 0h1m6 0h1M16 178.5h1m2 0h1m5 0h1m3 0h1m0 0h1m1 0h1m2 0h1M5 181.5h1m2 0h1m3 0h1m1 0h1m1 0h1m3 0h1m35 0h1m5 0h1m16 0h1M4 183.5h1m17 0h1m10 0h1m9 0h1m5 0h1m5 0h1m6 0h1M38 190.5h1M39 203.5h1"/><path stroke="#fef6d9" d="M64 0.5h1M1 2.5h1m3 0h1m0 0h1m5 0h1m2 0h1m0 0h1m0 0h1m0 0h1m22 0h1m8 0h1m1 0h1m8 0h1m0 0h1m15 0h1M8 5.5h1m4 0h1m14 0h1m8 0h1m15 0h1m1 0h1m15 0h1m1 0h1m5 0h1M13 6.5h1M0 11.5h1m7 0h1m10 0h1m38 0h1m3 0h1m4 0h1M10 16.5h1m19 0h1m1 0h1m2 0h1m2 0h1m0 0h1m11 0h1m21 0h1m5 0h1M9 18.5h1M20 20.5h1m5 0h1M60 22.5h1m4 0h1M41 23.5h1m30 0h1M7 24.5h1m4 0h1m9 0h1m3 0h1m17 0h1m5 0h1m4 0h1m7 0h1m3 0h1m8 0h1M3 25.5h1m10 0h1m11 0h1m5 0h1m6 0h1m4 0h1m1 0h1m2 0h1m1 0h1m6 0h1m5 0h1M7 27.5h1m18 0h1m8 0h1m5 0h1m25 0h1M41 29.5h1m17 0h1M1 30.5h1m5 0h1m6 0h1m4 0h1m8 0h1m2 0h1m16 0h1m6 0h1m2 0h1m8 0h1m5 0h1M1 31.5h1m38 0h1m2 0h1m12 0h1m6 0h1M34 32.5h1M4 33.5h1m5 0h1m4 0h1m0 0h1m3 0h1m2 0h1m20 0h1m4 0h1m21 0h1m7 0h1M8 34.5h1m3 0h1m18 0h1m15 0h1M11 35.5h1m1 0h1m8 0h1m3 0h1m4 0h1m1 0h1m12 0h1m7 0h1m11 0h1M0 37.5h1m0 0h1m17 0h1m3 0h1m0 0h1m0 0h1m4 0h1M10 39.5h1m9 0h1m1 0h1m16 0h1m5 0h1M39 40.5h1m1 0h1M8 43.5h1m2 0h1m13 0h1m12 0h1M6 45.5h1m22 0h1m18 0h1m4 0h1m7 0h1m6 0h1m3 0h1m0 0h1m1 0h1m1 0h1M16 47.5h1M6 48.5h1m0 0h1m10 0h1m15 0h1m6 0h1m15 0h1m5 0h1M11 49.5h1m1 0h1m3 0h1m9 0h1m19 0h1m3 0h1m10 0h1m0 0h1M26 50.5h1m3 0h1m8 0h1m20 0h1m11 0h1m0 0h1m1 0h1m0 0h1M3 52.5h1m4 0h1m3 0h1m15 0h1m14 0h1m3 0h1m25 0h1M1 53.5h1m0 0h1m7 0h1m8 0h1m0 0h1m0 0h1m13 0h1m16 0h1m24 0h1M8 58.5h1m3 0h1m1 0h1m2 0h1m2 0h1m20 0h1m6 0h1m0 0h1m1 0h1m6 0h1m5 0h1m8 0h1m4 0h1M0 60.5h1m6 0h1m2 0h1m11 0h1m2 0h1m2 0h1M15 61.5h1M6 63.5h1m7 0h1m0 0h1m2 0h1m8 0h1m9 0h1m9 0h1m1 0h1m0 0h1m4 0h1m11 0h1m8 0h1m0 0h1M1 65.5h1m1 0h1m3 0h1m7 0h1m1 0h1m8 0h1m40 0h1m10 0h1M1 67.5h1m0 0h1m0 0h1m1 0h1m0 0h1m5 0h1m10 0h1m2 0h1m2 0h1m31 0h1m1 0h1M5 71.5h1m0 0h1m4 0h1m11 0h1m4 0h1m0 0h1m40 0h1M2 72.5h1m1 0h1m4 0h1m2 0h1m3 0h1m8 0h1m1 0h1m9 0h1m8 0h1m2 0h1m7 0h1m1 0h1m7 0h1m0 0h1m0 0h1m4 0h1M1 73.5h1m9 0h1m10 0h1m12 0h1m23 0h1m4 0h1m12 0h1M6 75.5h1m3 0h1m0 0h1m9 0h1m2 0h1m8 0h1m24 0h1m11 0h1m6 0h1M1 81.5h1m21 0h1m21 0h1m14 0h1m5 0h1m4 0h1m0 0h1m0 0h1m2 0h1M1 82.5h1m0 0h1m1 0h1m19 0h1m7 0h1m5 0h1m1 0h1M2 88.5h1m10 0h1m5 0h1m3 0h1m3 0h1m17 0h1m0 0h1m8 0h1m11 0h1M2 89.5h1m5 0h1m22 0h1m16 0h1m12 0h1m5 0h1m0 0h1m5 0h1m2 0h1M4 90.5h1m3 0h1m6 0h1m6 0h1m11 0h1M0 91.5h1m3 0h1m3 0h1m4 0h1m1 0h1m6 0h1m48 0h1m4 0h1M0 92.5h1m7 0h1m4 0h1m1 0h1m6 0h1m11 0h1m41 0h1M0 93.5h1m3 0h1m10 0h1m55 0h1M0 94.5h1m3 0h1m3 0h1m4 0h1m1 0h1m5 0h1m0 0h1m11 0h1M4 95.5h1m3 0h1m13 0h1M0 96.5h1m7 0h1m12 0h1m0 0h1m32 0h1m15 0h1M0 97.5h1m7 0h1m6 0h1m5 0h1m0 0h1m11 0h1m41 0h1M42 98.5h1m1 0h1M19 99.5h1M21 104.5h1m3 0h1m0 0h1m10 0h1M7 105.5h1m17 0h1m4 0h1m1 0h1m0 0h1m15 0h1m1 0h1m10 0h1m8 0h1M14 106.5h1m6 0h1m11 0h1m2 0h1m0 0h1m5 0h1m1 0h1m0 0h1m5 0h1m0 0h1m1 0h1m5 0h1m1 0h1m4 0h1m3 0h1m4 0h1M3 107.5h1m9 0h1m2 0h1m3 0h1m1 0h1m0 0h1m30 0h1M1 108.5h1m13 0h1m2 0h1m10 0h1m11 0h1m10 0h1m3 0h1m5 0h1m0 0h1m4 0h1m4 0h1m3 0h1m1 0h1M11 110.5h1m33 0h1M18 112.5h1m5 0h1m2 0h1m9 0h1m25 0h1m3 0h1m0 0h1M10 115.5h1m9 0h1m4 0h1M8 116.5h1m15 0h1m2 0h1m3 0h1m4 0h1m6 0h1m2 0h1m2 0h1m8 0h1m5 0h1m0 0h1m0 0h1m0 0h1m6 0h1M53 117.5h1m12 0h1M63 123.5h1M6 126.5h1M27 128.5h1m27 0h1m20 0h1M3 129.5h1m4 0h1m22 0h1M0 131.5h1m0 0h1m1 0h1m11 0h1m23 0h1m0 0h1m7 0h1m3 0h1m8 0h1m4 0h1m10 0h1M48 133.5h1m12 0h1M40 135.5h1M8 136.5h1m15 0h1m2 0h1m3 0h1m5 0h1m12 0h1m1 0h1m5 0h1m0 0h1m0 0h1m10 0h1m6 0h1M4 137.5h1m8 0h1m2 0h1m10 0h1m15 0h1m1 0h1m31 0h1m1 0h1M34 140.5h1m26 0h1m10 0h1M33 141.5h1m3 0h1m0 0h1m2 0h1m0 0h1m21 0h1M1 142.5h1m5 0h1m10 0h1m0 0h1m2 0h1m3 0h1m36 0h1M0 144.5h1m17 0h1m2 0h1m3 0h1m1 0h1m5 0h1M6 145.5h1m5 0h1m6 0h1m5 0h1m19 0h1m29 0h1M20 146.5h1m54 0h1M21 147.5h1m9 0h1m2 0h1M41 148.5h1M4 149.5h1m7 0h1m3 0h1m20 0h1m5 0h1m1 0h1m0 0h1m2 0h1m1 0h1m4 0h1m4 0h1m1 0h1m2 0h1m10 0h1M62 150.5h1m6 0h1M54 151.5h1M20 152.5h1m9 0h1m2 0h1m3 0h1M20 154.5h1m8 0h1m19 0h1m9 0h1m8 0h1m4 0h1M14 155.5h1m4 0h1m12 0h1m15 0h1m7 0h1m5 0h1m7 0h1m1 0h1M2 156.5h1m18 0h1m1 0h1m25 0h1m27 0h1M1 161.5h1m6 0h1m6 0h1m8 0h1m0 0h1m9 0h1m9 0h1m19 0h1M5 162.5h1m3 0h1m2 0h1m28 0h1m11 0h1M5 165.5h1m1 0h1m37 0h1m1 0h1m2 0h1m13 0h1M22 166.5h1M1 167.5h1m8 0h1m31 0h1m3 0h1m9 0h1m11 0h1m4 0h1M7 171.5h1m26 0h1M28 172.5h1m1 0h1m26 0h1M40 173.5h1m7 0h1m19 0h1m8 0h1M37 174.5h1M39 175.5h1M4 176.5h1m21 0h1m31 0h1m8 0h1m3 0h1M19 177.5h1m2 0h1m2 0h1m19 0h1m8 0h1m5 0h1m6 0h1m0 0h1m0 0h1m8 0h1M2 179.5h1m16 0h1m5 0h1m2 0h1m4 0h1m6 0h1m2 0h1m9 0h1m6 0h1m0 0h1m3 0h1m2 0h1m5 0h1M3 182.5h1m7 0h1m2 0h1m14 0h1m0 0h1m15 0h1m5 0h1m1 0h1m0 0h1m2 0h1m1 0h1m0 0h1m14 0h1m2 0h1M6 184.5h1m0 0h1m0 0h1m1 0h1m4 0h1m3 0h1m0 0h1m5 0h1m3 0h1m1 0h1m2 0h1m15 0h1m5 0h1m6 0h1M38 185.5h1m1 0h1m0 0h1M1 186.5h1m9 0h1m0 0h1m4 0h1m10 0h1m4 0h1m33 0h1M22 188.5h1m9 0h1M49 190.5h1m11 0h1m1 0h1M31 191.5h1M17 192.5h1m0 0h1m3 0h1m9 0h1M0 193.5h1m0 0h1m0 0h1m2 0h1m9 0h1m5 0h1m15 0h1M16 194.5h1m29 0h1m17 0h1M41 198.5h1m5 0h1M59 199.5h1m4 0h1m7 0h1M8 200.5h1m7 0h1m50 0h1M42 201.5h1M1 202.5h1m3 0h1m7 0h1m10 0h1m4 0h1m15 0h1m3 0h1m17 0h1m9 0h1M0 204.5h1m0 0h1m4 0h1m1 0h1m6 0h1m16 0h1m27 0h1m7 0h1m5 0h1M4 205.5h1m0 0h1m18 0h1m7 0h1m13 0h1m3 0h1m2 0h1m4 0h1m9 0h1m2 0h1m5 0h1M9 206.5h1m1 0h1m4 0h1m10 0h1m25 0h1m6 0h1M20 207.5h1m7 0h1m16 0h1m3 0h1m2 0h1m7 0h1m1 0h1m3 0h1m1 0h1m3 0h1m2 0h1M10 208.5h1m2 0h1m1 0h1m2 0h1m5 0h1m0 0h1m3 0h1m0 0h1m1 0h1m6 0h1m12 0h1m9 0h1M4 209.5h1m8 0h1m0 0h1m13 0h1m1 0h1m14 0h1m1 0h1m24 0h1m1 0h1M2 211.5h1m2 0h1m29 0h1M41 212.5h1m9 0h1m19 0h1"/><path stroke="#a5d3ec" d="M76 0.5h1M14 1.5h1m3 0h1m32 0h1m10 0h1m1 0h1m6 0h1M9 7.5h1m10 0h1m7 0h1m29 0h1m7 0h1m0 0h1m6 0h1M32 8.5h1M0 9.5h1m1 0h1m11 0h1m2 0h1m4 0h1m37 0h1m7 0h1m4 0h1M1 10.5h1m3 0h1m4 0h1m7 0h1m0 0h1m0 0h1m0 0h1m3 0h1m4 0h1m0 0h1m0 0h1m17 0h1m1 0h1m18 0h1m1 0h1M4 13.5h1m1 0h1m31 0h1m4 0h1m4 0h1m1 0h1m4 0h1m0 0h1m4 0h1m0 0h1m6 0h1M24 14.5h1m14 0h1m2 0h1m3 0h1m5 0h1m2 0h1m6 0h1M16 15.5h1m30 0h1m0 0h1m3 0h1m7 0h1m4 0h1m1 0h1m5 0h1m2 0h1M20 16.5h1M46 18.5h1m7 0h1m0 0h1m0 0h1m11 0h1m9 0h1M9 21.5h1m23 0h1m12 0h1m17 0h1m10 0h1M14 22.5h1m1 0h1m3 0h1m8 0h1m1 0h1M14 23.5h1M36 24.5h1M8 32.5h1m31 0h1m2 0h1m3 0h1m4 0h1m2 0h1m7 0h1m9 0h1M2 38.5h1m0 0h1m1 0h1m9 0h1m6 0h1m4 0h1m3 0h1m12 0h1m6 0h1m4 0h1m3 0h1m10 0h1m0 0h1m3 0h1M5 40.5h1m24 0h1M1 42.5h1m7 0h1m31 0h1m7 0h1m2 0h1m1 0h1m5 0h1m2 0h1m12 0h1M76 43.5h1M10 44.5h1m8 0h1m9 0h1m2 0h1m1 0h1m44 0h1M42 45.5h1M20 54.5h1M10 55.5h1m5 0h1m2 0h1m1 0h1m3 0h1m2 0h1m0 0h1M2 56.5h1m3 0h1m45 0h1m2 0h1m2 0h1m1 0h1M24 57.5h1m7 0h1m5 0h1m0 0h1m0 0h1m12 0h1m10 0h1m7 0h1m5 0h1M8 59.5h1m2 0h1m29 0h1m6 0h1m10 0h1m1 0h1m4 0h1m4 0h1M49 60.5h1m16 0h1m4 0h1M54 64.5h1m1 0h1M2 69.5h1m1 0h1m2 0h1m5 0h1M41 72.5h1M41 73.5h1M26 81.5h1M77 82.5h1M11 83.5h1m20 0h1m7 0h1m32 0h1m0 0h1M9 84.5h1m1 0h1m2 0h1m3 0h1m31 0h1m6 0h1m7 0h1m1 0h1m7 0h1M6 86.5h1m1 0h1m6 0h1m5 0h1m0 0h1m23 0h1m0 0h1m1 0h1m13 0h1M4 87.5h1m64 0h1M27 98.5h1m0 0h1M16 99.5h1m26 0h1M26 101.5h1m47 0h1M4 103.5h1m37 0h1M1 109.5h1m0 0h1m2 0h1m3 0h1m9 0h1m8 0h1m3 0h1m4 0h1m6 0h1m4 0h1m3 0h1m24 0h1M17 110.5h1m21 0h1m19 0h1m10 0h1M38 117.5h1m3 0h1m5 0h1M7 118.5h1m7 0h1m0 0h1m33 0h1m1 0h1m0 0h1m0 0h1m0 0h1M10 120.5h1m9 0h1m8 0h1m2 0h1m1 0h1m15 0h1m0 0h1m2 0h1m8 0h1m2 0h1m12 0h1M8 121.5h1m11 0h1m3 0h1m1 0h1m7 0h1m1 0h1m11 0h1m6 0h1m11 0h1m5 0h1m4 0h1M2 122.5h1m0 0h1m5 0h1m10 0h1m10 0h1m13 0h1M0 124.5h1m11 0h1m17 0h1m2 0h1m5 0h1m1 0h1m2 0h1m1 0h1m1 0h1m14 0h1m1 0h1m10 0h1M38 126.5h1m7 0h1m12 0h1M3 127.5h1m8 0h1m3 0h1m1 0h1m14 0h1m1 0h1m0 0h1m3 0h1m3 0h1m12 0h1m6 0h1m1 0h1m1 0h1m1 0h1m4 0h1m2 0h1M40 130.5h1m5 0h1m16 0h1m5 0h1m9 0h1M3 132.5h1m7 0h1m0 0h1m1 0h1m5 0h1m0 0h1m1 0h1m7 0h1m0 0h1m3 0h1m1 0h1m1 0h1m13 0h1m10 0h1m5 0h1m5 0h1M9 133.5h1m8 0h1m3 0h1M1 135.5h1m3 0h1m1 0h1m2 0h1m2 0h1m3 0h1m32 0h1M2 138.5h1m2 0h1m0 0h1m0 0h1m6 0h1m2 0h1m12 0h1m0 0h1M13 140.5h1m13 0h1M24 141.5h1m19 0h1M54 142.5h1M0 143.5h1m2 0h1m0 0h1m0 0h1m1 0h1m14 0h1m8 0h1m7 0h1m9 0h1m0 0h1m4 0h1m3 0h1m9 0h1m8 0h1M39 147.5h1m0 0h1m1 0h1m35 0h1M14 150.5h1m27 0h1M41 152.5h1m2 0h1m4 0h1m0 0h1m1 0h1m10 0h1m6 0h1m0 0h1m3 0h1M13 154.5h1M49 158.5h1m8 0h1m14 0h1M0 168.5h1m3 0h1m5 0h1m2 0h1m6 0h1m8 0h1m7 0h1m20 0h1m11 0h1M40 178.5h1m1 0h1M46 180.5h1m20 0h1m1 0h1M17 183.5h1m36 0h1M41 186.5h1M40 190.5h1M2 195.5h1m8 0h1m7 0h1m6 0h1m10 0h1m30 0h1m7 0h1m2 0h1M4 203.5h1m10 0h1m3 0h1m10 0h1m9 0h1m11 0h1m4 0h1m4 0h1m12 0h1M46 204.5h1M41 206.5h1M10 210.5h1m0 0h1m8 0h1m14 0h1m3 0h1m11 0h1m0 0h1m15 0h1"/><path stroke="#81c1f1" d="M41 1.5h1M16 8.5h1m0 0h1m16 0h1M1 9.5h1m4 0h1m2 0h1m1 0h1m19 0h1m6 0h1m4 0h1m5 0h1m12 0h1m1 0h1m7 0h1M3 10.5h1m22 0h1m8 0h1m9 0h1M6 12.5h1m9 0h1M39 13.5h1m6 0h1m0 0h1m22 0h1M77 14.5h1M40 15.5h1m25 0h1M4 17.5h1M52 18.5h1m8 0h1m2 0h1m1 0h1m3 0h1M3 21.5h1m10 0h1m0 0h1m2 0h1m0 0h1m3 0h1m24 0h1m3 0h1m3 0h1m5 0h1m0 0h1m1 0h1m8 0h1m1 0h1M41 34.5h1M9 36.5h1m23 0h1M6 38.5h1m33 0h1m0 0h1m4 0h1m0 0h1M0 42.5h1m2 0h1m17 0h1m0 0h1m4 0h1m23 0h1m1 0h1m18 0h1m5 0h1M1 44.5h1m0 0h1m6 0h1m8 0h1m17 0h1m1 0h1m0 0h1m10 0h1m1 0h1m1 0h1m2 0h1m0 0h1m10 0h1m6 0h1M0 54.5h1m2 0h1m3 0h1m6 0h1m0 0h1m9 0h1m2 0h1m4 0h1m19 0h1m6 0h1M0 55.5h1m51 0h1m0 0h1m4 0h1m0 0h1m0 0h1m11 0h1M8 56.5h1m25 0h1m1 0h1m0 0h1m2 0h1m0 0h1m0 0h1m4 0h1m9 0h1m14 0h1m4 0h1M63 57.5h1m11 0h1M36 59.5h1m1 0h1m11 0h1m0 0h1m11 0h1M6 64.5h1m11 0h1m3 0h1m3 0h1m2 0h1m1 0h1m3 0h1m31 0h1m2 0h1m6 0h1M14 69.5h1m39 0h1m3 0h1m1 0h1m2 0h1m5 0h1m3 0h1M1 83.5h1m18 0h1m1 0h1m3 0h1m4 0h1m7 0h1m3 0h1m0 0h1m6 0h1m3 0h1m1 0h1m1 0h1m0 0h1m2 0h1m2 0h1m9 0h1M16 84.5h1m10 0h1m16 0h1m15 0h1m1 0h1m7 0h1m8 0h1M0 86.5h1M0 101.5h1m11 0h1m12 0h1m8 0h1m17 0h1m22 0h1M1 103.5h1m27 0h1m6 0h1m12 0h1m7 0h1m5 0h1m9 0h1m1 0h1m1 0h1M0 109.5h1m11 0h1m4 0h1m44 0h1M39 117.5h1m0 0h1M41 118.5h1m15 0h1M25 120.5h1m0 0h1M0 121.5h1m37 0h1m1 0h1m10 0h1m1 0h1m17 0h1M4 122.5h1m12 0h1m5 0h1m2 0h1m0 0h1m12 0h1m10 0h1m1 0h1m9 0h1m4 0h1m2 0h1m4 0h1M52 124.5h1m2 0h1m11 0h1M4 127.5h1m3 0h1m11 0h1m29 0h1M39 130.5h1M9 132.5h1M38 138.5h1m4 0h1m0 0h1m1 0h1m0 0h1m5 0h1m3 0h1m7 0h1M23 143.5h1m2 0h1m46 0h1M40 150.5h1M16 158.5h1m2 0h1m3 0h1m23 0h1m9 0h1m14 0h1M27 160.5h1m30 0h1m17 0h1M2 168.5h1M15 178.5h1m10 0h1m11 0h1M41 180.5h1M1 181.5h1m5 0h1m1 0h1m5 0h1m2 0h1m9 0h1m0 0h1m0 0h1m23 0h1m10 0h1m0 0h1m0 0h1m6 0h1m0 0h1m1 0h1m0 0h1M1 183.5h1m0 0h1m4 0h1m0 0h1m5 0h1m13 0h1m0 0h1m17 0h1m0 0h1m2 0h1m6 0h1m2 0h1m5 0h1m8 0h1M15 195.5h1m48 0h1M42 203.5h1M18 210.5h1m10 0h1m12 0h1"/><path stroke="#8ac5f0" d="M42 1.5h1m2 0h1m4 0h1m3 0h1m8 0h1m2 0h1m2 0h1m6 0h1M77 7.5h1M0 8.5h1m3 0h1m16 0h1m0 0h1m4 0h1m9 0h1M13 9.5h1m7 0h1m2 0h1m1 0h1m14 0h1m5 0h1m7 0h1m3 0h1m10 0h1m0 0h1m2 0h1m3 0h1M46 10.5h1m4 0h1m16 0h1m6 0h1m0 0h1M14 12.5h1M42 13.5h1m16 0h1m0 0h1M41 14.5h1m21 0h1M72 15.5h1M41 18.5h1m5 0h1m19 0h1m5 0h1M7 21.5h1m3 0h1m10 0h1m20 0h1m10 0h1m11 0h1m2 0h1m0 0h1m7 0h1M21 22.5h1M38 32.5h1m33 0h1M38 34.5h1M27 36.5h1M14 38.5h1m1 0h1m8 0h1m10 0h1m2 0h1m12 0h1m12 0h1m4 0h1m2 0h1M8 42.5h1m8 0h1m2 0h1m2 0h1m12 0h1m6 0h1m4 0h1m30 0h1M0 44.5h1m4 0h1m1 0h1m9 0h1m9 0h1m0 0h1m34 0h1m0 0h1m6 0h1M2 54.5h1m3 0h1m11 0h1m13 0h1M23 55.5h1m7 0h1m1 0h1m3 0h1m9 0h1m17 0h1m4 0h1M9 56.5h1m10 0h1m12 0h1m4 0h1m6 0h1m8 0h1m10 0h1M8 57.5h1m32 0h1m10 0h1m1 0h1m4 0h1m0 0h1m12 0h1m2 0h1m2 0h1M14 59.5h1m14 0h1m12 0h1m9 0h1m12 0h1m2 0h1m1 0h1m3 0h1m4 0h1M32 64.5h1m18 0h1m10 0h1M6 69.5h1m12 0h1m3 0h1m0 0h1m2 0h1m1 0h1m8 0h1m11 0h1m5 0h1m4 0h1m10 0h1M5 83.5h1m23 0h1m4 0h1m10 0h1m0 0h1m22 0h1m0 0h1m0 0h1m3 0h1M48 84.5h1m5 0h1m0 0h1m0 0h1m1 0h1m0 0h1m3 0h1m2 0h1m1 0h1m2 0h1m5 0h1M13 86.5h1M55 87.5h1m15 0h1M4 101.5h1M20 103.5h1m17 0h1m5 0h1m15 0h1m3 0h1m2 0h1m2 0h1m1 0h1m3 0h1M3 109.5h1m21 0h1m3 0h1m1 0h1m39 0h1M38 110.5h1M18 118.5h1m21 0h1m1 0h1m1 0h1m19 0h1M21 120.5h1m17 0h1M1 121.5h1m2 0h1m22 0h1m16 0h1m20 0h1m2 0h1m8 0h1M8 122.5h1m5 0h1m10 0h1m2 0h1m3 0h1m10 0h1m3 0h1m1 0h1m6 0h1m0 0h1m3 0h1m8 0h1M50 124.5h1m7 0h1m1 0h1m8 0h1m3 0h1m1 0h1m3 0h1M2 127.5h1m24 0h1m2 0h1m7 0h1m23 0h1m4 0h1M6 132.5h1m23 0h1m28 0h1M11 138.5h1m15 0h1m9 0h1m3 0h1m19 0h1m6 0h1m0 0h1m3 0h1m4 0h1m0 0h1M41 142.5h1M37 143.5h1m10 0h1m11 0h1m13 0h1M56 152.5h1m15 0h1M7 158.5h1m2 0h1m10 0h1m28 0h1m9 0h1m3 0h1m1 0h1m10 0h1m1 0h1M39 178.5h1m20 0h1M6 181.5h1m3 0h1m8 0h1m5 0h1m1 0h1m25 0h1m22 0h1M5 183.5h1m3 0h1m10 0h1m3 0h1m7 0h1m3 0h1m0 0h1m18 0h1m9 0h1m8 0h1m3 0h1M36 195.5h1M31 203.5h1m6 0h1m29 0h1M36 210.5h1m0 0h1m31 0h1"/><path stroke="#78bcf3" d="M79 1.5h1M44 7.5h1m16 0h1M1 8.5h1m4 0h1m4 0h1m11 0h1m5 0h1m26 0h1m12 0h1m3 0h1m2 0h1M5 9.5h1m26 0h1m15 0h1m1 0h1m2 0h1m9 0h1m1 0h1m0 0h1M63 10.5h1m2 0h1M10 12.5h1m8 0h1m11 0h1m0 0h1m7 0h1M38 14.5h1m28 0h1M0 17.5h1m0 0h1m0 0h1m5 0h1m5 0h1m2 0h1m14 0h1m33 0h1M38 18.5h1m18 0h1M5 21.5h1m4 0h1m9 0h1m3 0h1m1 0h1m34 0h1m6 0h1M24 22.5h1M39 32.5h1m1 0h1m0 0h1M3 36.5h1m8 0h1M7 38.5h1m16 0h1m10 0h1m13 0h1m3 0h1m24 0h1M11 42.5h1m1 0h1m0 0h1m9 0h1m5 0h1m1 0h1m2 0h1m8 0h1m2 0h1m8 0h1m20 0h1M8 44.5h1m11 0h1m12 0h1m10 0h1m2 0h1m5 0h1m13 0h1M12 54.5h1m6 0h1m1 0h1m1 0h1m2 0h1m28 0h1m21 0h1m0 0h1m0 0h1M57 55.5h1M43 56.5h1m15 0h1m1 0h1m0 0h1m0 0h1m15 0h1M47 57.5h1M20 59.5h1m54 0h1M33 64.5h1m2 0h1m3 0h1m23 0h1m4 0h1m8 0h1M47 69.5h1m4 0h1m2 0h1m6 0h1m4 0h1M40 72.5h1M19 83.5h1m4 0h1m3 0h1m4 0h1m2 0h1m1 0h1m11 0h1m1 0h1m8 0h1m5 0h1m0 0h1m8 0h1M1 84.5h1m51 0h1m7 0h1m11 0h1M62 87.5h1M2 101.5h1m8 0h1m11 0h1m5 0h1m0 0h1m17 0h1m29 0h1M6 103.5h1m0 0h1m2 0h1m2 0h1m18 0h1m0 0h1m6 0h1m4 0h1m12 0h1m0 0h1m5 0h1m2 0h1m0 0h1m8 0h1M6 109.5h1m23 0h1M5 121.5h1m1 0h1m37 0h1m4 0h1m6 0h1m5 0h1m2 0h1m8 0h1M0 122.5h1m6 0h1m4 0h1m0 0h1m1 0h1m18 0h1m0 0h1m6 0h1m3 0h1m7 0h1m0 0h1m3 0h1m0 0h1m1 0h1m14 0h1M9 124.5h1M6 127.5h1m2 0h1m7 0h1M24 132.5h1m14 0h1M39 138.5h1m0 0h1m18 0h1m0 0h1m5 0h1m4 0h1m0 0h1M38 142.5h1M41 143.5h1M12 158.5h1m4 0h1m0 0h1m3 0h1m36 0h1m1 0h1m1 0h1m1 0h1m1 0h1m2 0h1m3 0h1M4 160.5h1m43 0h1m19 0h1m5 0h1m4 0h1M3 178.5h1M13 181.5h1m3 0h1m8 0h1m10 0h1m9 0h1m4 0h1m4 0h1m1 0h1m0 0h1m2 0h1m8 0h1m0 0h1M12 183.5h1m2 0h1m3 0h1m6 0h1m33 0h1m9 0h1m2 0h1M41 210.5h1"/><path stroke="#fbe3cc" d="M19 2.5h1m4 0h1m29 0h1m10 0h1m4 0h1m1 0h1m2 0h1M5 5.5h1m8 0h1m7 0h1m7 0h1m0 0h1m3 0h1m7 0h1m4 0h1m0 0h1m7 0h1m0 0h1m4 0h1m12 0h1M0 6.5h1m0 0h1m4 0h1m8 0h1m9 0h1m17 0h1m0 0h1m1 0h1m2 0h1m3 0h1m2 0h1m0 0h1M5 11.5h1m1 0h1m4 0h1m0 0h1m14 0h1M13 16.5h1m23 0h1m4 0h1m4 0h1m6 0h1m7 0h1m2 0h1m0 0h1m0 0h1m6 0h1M4 20.5h1m8 0h1m9 0h1m5 0h1m33 0h1M58 22.5h1M42 23.5h1M25 24.5h1m21 0h1m1 0h1m3 0h1m0 0h1m3 0h1m2 0h1m12 0h1m3 0h1M1 25.5h1m27 0h1m0 0h1m3 0h1m6 0h1m3 0h1m2 0h1m17 0h1M0 26.5h1m0 0h1m21 0h1M11 27.5h1m2 0h1m0 0h1m11 0h1m5 0h1M16 29.5h1m14 0h1m6 0h1m0 0h1m0 0h1m5 0h1m9 0h1m14 0h1m1 0h1M4 30.5h1m4 0h1m1 0h1m11 0h1m5 0h1m13 0h1m8 0h1m4 0h1m3 0h1m2 0h1m0 0h1m2 0h1m8 0h1M0 31.5h1m1 0h1m2 0h1m8 0h1m7 0h1m6 0h1m6 0h1m1 0h1m2 0h1m2 0h1m7 0h1m25 0h1M5 33.5h1m2 0h1m16 0h1m20 0h1m4 0h1m4 0h1m0 0h1M21 34.5h1M5 35.5h1m1 0h1m12 0h1m7 0h1m27 0h1m0 0h1m5 0h1m9 0h1m0 0h1M10 37.5h1m4 0h1m18 0h1m2 0h1m37 0h1M38 39.5h1m1 0h1M45 40.5h1M17 43.5h1m11 0h1M4 45.5h1m0 0h1m6 0h1m7 0h1m7 0h1m2 0h1m19 0h1m8 0h1m4 0h1m1 0h1m1 0h1M7 47.5h1m18 0h1m16 0h1M2 48.5h1m0 0h1m7 0h1M1 49.5h1m10 0h1m5 0h1m7 0h1m10 0h1m6 0h1m8 0h1m16 0h1m4 0h1m2 0h1M22 50.5h1m8 0h1m2 0h1m9 0h1m1 0h1m9 0h1m0 0h1m16 0h1m4 0h1M15 52.5h1m7 0h1m21 0h1m7 0h1m0 0h1m0 0h1m1 0h1m6 0h1m0 0h1m1 0h1m3 0h1m2 0h1m0 0h1m0 0h1M0 53.5h1m2 0h1m0 0h1m26 0h1m21 0h1m8 0h1m11 0h1m3 0h1M6 58.5h1m4 0h1m6 0h1m21 0h1m22 0h1M38 61.5h1m3 0h1m21 0h1M28 63.5h1m7 0h1m17 0h1m2 0h1m3 0h1M25 65.5h1m8 0h1m1 0h1m26 0h1M7 67.5h1m13 0h1m0 0h1m4 0h1m5 0h1m0 0h1m1 0h1m10 0h1m6 0h1m2 0h1m4 0h1m1 0h1m3 0h1m1 0h1m0 0h1m0 0h1M8 68.5h1m15 0h1m17 0h1m17 0h1m11 0h1m6 0h1M3 71.5h1m18 0h1m14 0h1m4 0h1m0 0h1m0 0h1m31 0h1m2 0h1M8 72.5h1m5 0h1m0 0h1m6 0h1m28 0h1m1 0h1m12 0h1m8 0h1M2 73.5h1m6 0h1m6 0h1m1 0h1m1 0h1m3 0h1m1 0h1m3 0h1m0 0h1m17 0h1M4 75.5h1m2 0h1m5 0h1m3 0h1m1 0h1m7 0h1m15 0h1m9 0h1m0 0h1m6 0h1m2 0h1M60 77.5h1M34 81.5h1m1 0h1m1 0h1m28 0h1M3 82.5h1m26 0h1m0 0h1M5 88.5h1m2 0h1m5 0h1m0 0h1m4 0h1m5 0h1m36 0h1m0 0h1m5 0h1M0 89.5h1m0 0h1m16 0h1m13 0h1m3 0h1m12 0h1m0 0h1m6 0h1m4 0h1m6 0h1m0 0h1m0 0h1m7 0h1M31 90.5h1m16 0h1M2 91.5h1m28 0h1m5 0h1m15 0h1m10 0h1M3 92.5h1m27 0h1m13 0h1m0 0h1m6 0h1m10 0h1M2 93.5h1m28 0h1m5 0h1m10 0h1m4 0h1m10 0h1M2 94.5h1m28 0h1m5 0h1m28 0h1M31 95.5h1m14 0h1M36 96.5h1m16 0h1M37 97.5h1m13 0h1m21 0h1M40 98.5h1m18 0h1M40 99.5h1M47 102.5h1m0 0h1m20 0h1m7 0h1M6 104.5h1m0 0h1m0 0h1m3 0h1m3 0h1m3 0h1m7 0h1m1 0h1m2 0h1m7 0h1m8 0h1m0 0h1m0 0h1m4 0h1m0 0h1m12 0h1m7 0h1M1 105.5h1m7 0h1m0 0h1m0 0h1m9 0h1m4 0h1m4 0h1m42 0h1M1 106.5h1m4 0h1m11 0h1m6 0h1m4 0h1m0 0h1m12 0h1m13 0h1m3 0h1m13 0h1M0 107.5h1m3 0h1m0 0h1m25 0h1m30 0h1M4 108.5h1m1 0h1m23 0h1m6 0h1m2 0h1m2 0h1m25 0h1M17 111.5h1m3 0h1m1 0h1M7 112.5h1m39 0h1m11 0h1m0 0h1m5 0h1M1 115.5h1m10 0h1m16 0h1m4 0h1m1 0h1m0 0h1m12 0h1M7 116.5h1m5 0h1m4 0h1m11 0h1m17 0h1m1 0h1m4 0h1m14 0h1m2 0h1M33 117.5h1m2 0h1M33 123.5h1m9 0h1m0 0h1m1 0h1m2 0h1m4 0h1m3 0h1m3 0h1M2 128.5h1m1 0h1m17 0h1m23 0h1M0 129.5h1m6 0h1m6 0h1m0 0h1m0 0h1m7 0h1m29 0h1m3 0h1m14 0h1m0 0h1M2 131.5h1m1 0h1m3 0h1m8 0h1m9 0h1m0 0h1m2 0h1m0 0h1m9 0h1m7 0h1M35 133.5h1m7 0h1m23 0h1M42 135.5h1M0 136.5h1m0 0h1m8 0h1m1 0h1m43 0h1m0 0h1m3 0h1m2 0h1m1 0h1m0 0h1m6 0h1M12 137.5h1m4 0h1m0 0h1m6 0h1m3 0h1m4 0h1m5 0h1m1 0h1m7 0h1m1 0h1m6 0h1m1 0h1m11 0h1M42 139.5h1M17 141.5h1M10 142.5h1M5 144.5h1m14 0h1m1 0h1m9 0h1M5 145.5h1m2 0h1m0 0h1m6 0h1m14 0h1m23 0h1m13 0h1m4 0h1M53 146.5h1m2 0h1m10 0h1m4 0h1m3 0h1M42 148.5h1M0 149.5h1m13 0h1m13 0h1m6 0h1m0 0h1m21 0h1m5 0h1m4 0h1m6 0h1M45 151.5h1m10 0h1m1 0h1m9 0h1m7 0h1m1 0h1M5 155.5h1m7 0h1m1 0h1m0 0h1m4 0h1m5 0h1m23 0h1m3 0h1m5 0h1m4 0h1m0 0h1m7 0h1M6 156.5h1m3 0h1m0 0h1m3 0h1m14 0h1m0 0h1m4 0h1m13 0h1m1 0h1m5 0h1m1 0h1m5 0h1m1 0h1M6 161.5h1m12 0h1m11 0h1m4 0h1m0 0h1m4 0h1m13 0h1M37 162.5h1M37 163.5h1m9 0h1m18 0h1M6 165.5h1m23 0h1m24 0h1m21 0h1M17 166.5h1m25 0h1m4 0h1m1 0h1m4 0h1m10 0h1m2 0h1m1 0h1m4 0h1M3 167.5h1m10 0h1m17 0h1m10 0h1m6 0h1m0 0h1m0 0h1m5 0h1m0 0h1m0 0h1m1 0h1m0 0h1m2 0h1m2 0h1m4 0h1m1 0h1M37 171.5h1m19 0h1M41 172.5h1m8 0h1M46 173.5h1M38 174.5h1m3 0h1m5 0h1M42 175.5h1M11 176.5h1m6 0h1m3 0h1m8 0h1m4 0h1m12 0h1m14 0h1m10 0h1M3 177.5h1m6 0h1m1 0h1m2 0h1m0 0h1m9 0h1m0 0h1m15 0h1m2 0h1m14 0h1M12 179.5h1m0 0h1m3 0h1m0 0h1m15 0h1m2 0h1m6 0h1m0 0h1m13 0h1m15 0h1m2 0h1M2 182.5h1m13 0h1m0 0h1m6 0h1m1 0h1m23 0h1M14 184.5h1m3 0h1m9 0h1m16 0h1m12 0h1m3 0h1m3 0h1m10 0h1M37 186.5h1M16 188.5h1m14 0h1m8 0h1m4 0h1M40 189.5h1m1 0h1M20 190.5h1m30 0h1m1 0h1m11 0h1m2 0h1m6 0h1m3 0h1M0 191.5h1m3 0h1m4 0h1m6 0h1m2 0h1m6 0h1m6 0h1m2 0h1m0 0h1M7 192.5h1m28 0h1m18 0h1m3 0h1M17 193.5h1m0 0h1m0 0h1m0 0h1m3 0h1m7 0h1m13 0h1m4 0h1m2 0h1m6 0h1m6 0h1m1 0h1m5 0h1M6 196.5h1m1 0h1M13 199.5h1m1 0h1m7 0h1m19 0h1m3 0h1m2 0h1m2 0h1m24 0h1M17 200.5h1m7 0h1m35 0h1m9 0h1M48 201.5h1m4 0h1m0 0h1m0 0h1m4 0h1m2 0h1m1 0h1m5 0h1m4 0h1m2 0h1M2 202.5h1m4 0h1m9 0h1m1 0h1m27 0h1m7 0h1m2 0h1m1 0h1m0 0h1m4 0h1m11 0h1M5 204.5h1m3 0h1m0 0h1m5 0h1m12 0h1M8 205.5h1m1 0h1m6 0h1m1 0h1m15 0h1m23 0h1m6 0h1M4 206.5h1m16 0h1m30 0h1M6 207.5h1m8 0h1m1 0h1m0 0h1m14 0h1m0 0h1m0 0h1m0 0h1m7 0h1m1 0h1m10 0h1M1 208.5h1m6 0h1m8 0h1m1 0h1m6 0h1m14 0h1m3 0h1m2 0h1m14 0h1M16 209.5h1m7 0h1m4 0h1m4 0h1m14 0h1m0 0h1m0 0h1m12 0h1m5 0h1m2 0h1M9 211.5h1m4 0h1m1 0h1m7 0h1m1 0h1m0 0h1m0 0h1m19 0h1m4 0h1m4 0h1M40 213.5h1"/><path stroke="#f8d0bf" d="M21 2.5h1m1 0h1m31 0h1M39 4.5h1m1 0h1m18 0h1M11 5.5h1m11 0h1m2 0h1m5 0h1m1 0h1m10 0h1m15 0h1m5 0h1m0 0h1m3 0h1M3 6.5h1m5 0h1m16 0h1m0 0h1m2 0h1m0 0h1m1 0h1m0 0h1m1 0h1m17 0h1m4 0h1m1 0h1m4 0h1m3 0h1m4 0h1m1 0h1m1 0h1M68 16.5h1M0 20.5h1m6 0h1m0 0h1m3 0h1m12 0h1m1 0h1m4 0h1m17 0h1m6 0h1m6 0h1m3 0h1m7 0h1M39 21.5h1m1 0h1m0 0h1M53 23.5h1M45 24.5h1M4 25.5h1m0 0h1m19 0h1m50 0h1M11 26.5h1m2 0h1m10 0h1m0 0h1m4 0h1m41 0h1M3 29.5h1m11 0h1m4 0h1m1 0h1m10 0h1m17 0h1m0 0h1m4 0h1m11 0h1m5 0h1m3 0h1M3 30.5h1m31 0h1m18 0h1m16 0h1M4 31.5h1m3 0h1m9 0h1m2 0h1m29 0h1m10 0h1m3 0h1m2 0h1M30 33.5h1m29 0h1m7 0h1m8 0h1M3 35.5h1m11 0h1m1 0h1m3 0h1m10 0h1m1 0h1m1 0h1m4 0h1m13 0h1m5 0h1m8 0h1m4 0h1m2 0h1M17 37.5h1m3 0h1m14 0h1m14 0h1m13 0h1m0 0h1m10 0h1M1 39.5h1m40 0h1M7 45.5h1m9 0h1m8 0h1m8 0h1m10 0h1m0 0h1m30 0h1M6 47.5h1m2 0h1m4 0h1m15 0h1m2 0h1m0 0h1m32 0h1M25 48.5h1M35 49.5h1M25 50.5h1m19 0h1M60 52.5h1m16 0h1M8 53.5h1m39 0h1m17 0h1m3 0h1m4 0h1m0 0h1m2 0h1M1 58.5h1m5 0h1m16 0h1m34 0h1M30 60.5h1M4 61.5h1m0 0h1m2 0h1m16 0h1m3 0h1m25 0h1m6 0h1m4 0h1m7 0h1M13 63.5h1m18 0h1m1 0h1m24 0h1m10 0h1M20 65.5h1M2 66.5h1M9 67.5h1m0 0h1m6 0h1m0 0h1m11 0h1m34 0h1m7 0h1m4 0h1M6 68.5h1m39 0h1m16 0h1m7 0h1m1 0h1m1 0h1M67 70.5h1M32 71.5h1m8 0h1M6 72.5h1m16 0h1m6 0h1M12 73.5h1M36 75.5h1m5 0h1m5 0h1m16 0h1M13 76.5h1M40 77.5h1m1 0h1M1 78.5h1m21 0h1m15 0h1m10 0h1m10 0h1m5 0h1m5 0h1M29 82.5h1M3 88.5h1m14 0h1m13 0h1m10 0h1m4 0h1m4 0h1m5 0h1m6 0h1M20 89.5h1m3 0h1m22 0h1m6 0h1m4 0h1m13 0h1m2 0h1M3 90.5h1m7 0h1m5 0h1m1 0h1m3 0h1m25 0h1m0 0h1m0 0h1m0 0h1m3 0h1m12 0h1m5 0h1M6 91.5h1m7 0h1m2 0h1m31 0h1m0 0h1m1 0h1m16 0h1m4 0h1M6 92.5h1m9 0h1m0 0h1m1 0h1m32 0h1m3 0h1m0 0h1m16 0h1m0 0h1M16 93.5h1m0 0h1m1 0h1m3 0h1m26 0h1m5 0h1m0 0h1m5 0h1m10 0h1M3 94.5h1m5 0h1m4 0h1m2 0h1m2 0h1m2 0h1m25 0h1m0 0h1m1 0h1m3 0h1m0 0h1m16 0h1M19 95.5h1m0 0h1m2 0h1m27 0h1m0 0h1m3 0h1m0 0h1M14 96.5h1m1 0h1m2 0h1m3 0h1m25 0h1m1 0h1m17 0h1m5 0h1M6 97.5h1m7 0h1m4 0h1m3 0h1m33 0h1m11 0h1m5 0h1M39 98.5h1m1 0h1m15 0h1M42 100.5h1m12 0h1M28 102.5h1m26 0h1m3 0h1m13 0h1M9 104.5h1m7 0h1m18 0h1m2 0h1m3 0h1m2 0h1m7 0h1m0 0h1m18 0h1M7 106.5h1m9 0h1m17 0h1m11 0h1m22 0h1m3 0h1M0 108.5h1m11 0h1m0 0h1m3 0h1m10 0h1m3 0h1m3 0h1m39 0h1M3 111.5h1m3 0h1m0 0h1m15 0h1m50 0h1M17 112.5h1M2 115.5h1m10 0h1m0 0h1m6 0h1m13 0h1m13 0h1m11 0h1m7 0h1m2 0h1m6 0h1M0 116.5h1m14 0h1m25 0h1m27 0h1M3 117.5h1M59 123.5h1m1 0h1m4 0h1m7 0h1m0 0h1M28 128.5h1M17 129.5h1m4 0h1m10 0h1m1 0h1m4 0h1m0 0h1m5 0h1m1 0h1m14 0h1m3 0h1m0 0h1M5 131.5h1m24 0h1m3 0h1m2 0h1m31 0h1M39 135.5h1M4 136.5h1m8 0h1m7 0h1m7 0h1m3 0h1m11 0h1m26 0h1M3 137.5h1m2 0h1m7 0h1m4 0h1m1 0h1m4 0h1m24 0h1m5 0h1m0 0h1m5 0h1m2 0h1m0 0h1m2 0h1m2 0h1M39 139.5h1M29 142.5h1M0 145.5h1m1 0h1m4 0h1m6 0h1m3 0h1m5 0h1m2 0h1m12 0h1m6 0h1m2 0h1m7 0h1m0 0h1m1 0h1m3 0h1m0 0h1m3 0h1m0 0h1M40 146.5h1m7 0h1m12 0h1m9 0h1m6 0h1M5 148.5h1m17 0h1m2 0h1m0 0h1m8 0h1m1 0h1m16 0h1M18 149.5h1m1 0h1m26 0h1m5 0h1M13 151.5h1m1 0h1m12 0h1m0 0h1m21 0h1m8 0h1m0 0h1m0 0h1m3 0h1m8 0h1M12 153.5h1M1 155.5h1m20 0h1m2 0h1m5 0h1m4 0h1m7 0h1m2 0h1m4 0h1m0 0h1m20 0h1m4 0h1M25 156.5h1m21 0h1m3 0h1m9 0h1m16 0h1M8 159.5h1m30 0h1m9 0h1m3 0h1M2 161.5h1m27 0h1m1 0h1M39 162.5h1M33 163.5h1m1 0h1m5 0h1m1 0h1m20 0h1M0 165.5h1m8 0h1m5 0h1m7 0h1m3 0h1m0 0h1m12 0h1M7 166.5h1m3 0h1m3 0h1m0 0h1m8 0h1m18 0h1m0 0h1m0 0h1m0 0h1m19 0h1m4 0h1M6 167.5h1m0 0h1m3 0h1m5 0h1m1 0h1m4 0h1m0 0h1m4 0h1m7 0h1m18 0h1m13 0h1m0 0h1m5 0h1M38 168.5h1M4 171.5h1m4 0h1m19 0h1m5 0h1m7 0h1m8 0h1m10 0h1m0 0h1M38 172.5h1m0 0h1m30 0h1M50 174.5h1M32 175.5h1M0 176.5h1m1 0h1m0 0h1m1 0h1m2 0h1m4 0h1m9 0h1m0 0h1m3 0h1m4 0h1m11 0h1m4 0h1m12 0h1m2 0h1m11 0h1M9 177.5h1M8 179.5h1m0 0h1m26 0h1M0 182.5h1m20 0h1m6 0h1m3 0h1m11 0h1M23 184.5h1m9 0h1m18 0h1m3 0h1m3 0h1m2 0h1M39 185.5h1M0 188.5h1m5 0h1m0 0h1m1 0h1m3 0h1m7 0h1m4 0h1m2 0h1m9 0h1m7 0h1m2 0h1m11 0h1M38 189.5h1M0 190.5h1m4 0h1m16 0h1m3 0h1m9 0h1m13 0h1m1 0h1m3 0h1m0 0h1m16 0h1M1 191.5h1m1 0h1m3 0h1m13 0h1m0 0h1m5 0h1m15 0h1m8 0h1m17 0h1M9 192.5h1m4 0h1m0 0h1m7 0h1m2 0h1m10 0h1m7 0h1m0 0h1m1 0h1m3 0h1m4 0h1m14 0h1m5 0h1M4 193.5h1m25 0h1m0 0h1m21 0h1m6 0h1m1 0h1m16 0h1M34 194.5h1m2 0h1m22 0h1M1 196.5h1m10 0h1m11 0h1m2 0h1M2 199.5h1m4 0h1m16 0h1m2 0h1m27 0h1m0 0h1m3 0h1m0 0h1m12 0h1m4 0h1M44 200.5h1m10 0h1m3 0h1m9 0h1m4 0h1m3 0h1M40 201.5h1m6 0h1m4 0h1m3 0h1m5 0h1m10 0h1m0 0h1M4 202.5h1m16 0h1m8 0h1m19 0h1m1 0h1m17 0h1m8 0h1M21 204.5h1m0 0h1M11 205.5h1m1 0h1m15 0h1m1 0h1m6 0h1m4 0h1m1 0h1m8 0h1m6 0h1m0 0h1m9 0h1m5 0h1M0 206.5h1M40 207.5h1m2 0h1m17 0h1m9 0h1m1 0h1M3 208.5h1m3 0h1m6 0h1m12 0h1m3 0h1m21 0h1m6 0h1m13 0h1m4 0h1M1 209.5h1m5 0h1m10 0h1m2 0h1m1 0h1m31 0h1m10 0h1M11 211.5h1m9 0h1m0 0h1m0 0h1m8 0h1m12 0h1m3 0h1m12 0h1m10 0h1m0 0h1"/><path stroke="#f9d9c6" d="M47 2.5h1m15 0h1m15 0h1M2 5.5h1m3 0h1m0 0h1m7 0h1m0 0h1m2 0h1m4 0h1m2 0h1m1 0h1m3 0h1m16 0h1m3 0h1m4 0h1m0 0h1m3 0h1m9 0h1M2 6.5h1m16 0h1m3 0h1m4 0h1m0 0h1m2 0h1m12 0h1m5 0h1m6 0h1m5 0h1m2 0h1m5 0h1M6 11.5h1m22 0h1M19 16.5h1m35 0h1m8 0h1M6 20.5h1m23 0h1m0 0h1M46 24.5h1m1 0h1m16 0h1m0 0h1m1 0h1m0 0h1m3 0h1M24 25.5h1m3 0h1m2 0h1M9 26.5h1m2 0h1M27 29.5h1m9 0h1m26 0h1M10 30.5h1m5 0h1m5 0h1m2 0h1m0 0h1m18 0h1m3 0h1m3 0h1m2 0h1m2 0h1m2 0h1m13 0h1m1 0h1M9 31.5h1m2 0h1m6 0h1m5 0h1m6 0h1m9 0h1m7 0h1m6 0h1m1 0h1m0 0h1m10 0h1m2 0h1M45 33.5h1m8 0h1m6 0h1m4 0h1M18 35.5h1m8 0h1m1 0h1m28 0h1m9 0h1m10 0h1M16 37.5h1m3 0h1m7 0h1m0 0h1m31 0h1M3 39.5h1m2 0h1m10 0h1m11 0h1M14 43.5h1m6 0h1m19 0h1M2 45.5h1m0 0h1m7 0h1m1 0h1m2 0h1m2 0h1m2 0h1m20 0h1m19 0h1m2 0h1M61 47.5h1m0 0h1m12 0h1M15 48.5h1m3 0h1m19 0h1m29 0h1M5 49.5h1m13 0h1m4 0h1m17 0h1M27 50.5h1m26 0h1m4 0h1m5 0h1m0 0h1m11 0h1M17 52.5h1m0 0h1M9 53.5h1m8 0h1m3 0h1m10 0h1m4 0h1m1 0h1m2 0h1m0 0h1m0 0h1m10 0h1m0 0h1m7 0h1m1 0h1m1 0h1m1 0h1M16 58.5h1m11 0h1m3 0h1m11 0h1m2 0h1m2 0h1m5 0h1m18 0h1M19 61.5h1m8 0h1m10 0h1m8 0h1m5 0h1m17 0h1M0 63.5h1m23 0h1m0 0h1m7 0h1m1 0h1m9 0h1m2 0h1m17 0h1m8 0h1M4 65.5h1m4 0h1m1 0h1m0 0h1m20 0h1m18 0h1m18 0h1M30 66.5h1M15 67.5h1m8 0h1m10 0h1m1 0h1m5 0h1m2 0h1m4 0h1m22 0h1M11 68.5h1m4 0h1m23 0h1m10 0h1m0 0h1m24 0h1M21 71.5h1M3 72.5h1m13 0h1m1 0h1m1 0h1m4 0h1m2 0h1m2 0h1m15 0h1M0 73.5h1m20 0h1m26 0h1m13 0h1m8 0h1M5 75.5h1m23 0h1m5 0h1m3 0h1m26 0h1m0 0h1M15 76.5h1M16 82.5h1m2 0h1M33 87.5h1M1 88.5h1m9 0h1m10 0h1m14 0h1m9 0h1m4 0h1m3 0h1m3 0h1m8 0h1M3 89.5h1m9 0h1m2 0h1m0 0h1m5 0h1m6 0h1m6 0h1m8 0h1m8 0h1m10 0h1m8 0h1M6 90.5h1m9 0h1m3 0h1m15 0h1m1 0h1m7 0h1m10 0h1m5 0h1m9 0h1m0 0h1M3 91.5h1m12 0h1m3 0h1m15 0h1m1 0h1m7 0h1m4 0h1m4 0h1m0 0h1m5 0h1m9 0h1m1 0h1M20 92.5h1m2 0h1m12 0h1m1 0h1m10 0h1m0 0h1m0 0h1m11 0h1m5 0h1m3 0h1M3 93.5h1m2 0h1m13 0h1m15 0h1m1 0h1m7 0h1m2 0h1m1 0h1m0 0h1m16 0h1m3 0h1m1 0h1M6 94.5h1m9 0h1m19 0h1m1 0h1m7 0h1m4 0h1m11 0h1m9 0h1m1 0h1M3 95.5h1m2 0h1m9 0h1m19 0h1m1 0h1m10 0h1m0 0h1m12 0h1m5 0h1m3 0h1m0 0h1m0 0h1M3 96.5h1m2 0h1m13 0h1m17 0h1m7 0h1m3 0h1m1 0h1m3 0h1m0 0h1m5 0h1m9 0h1m0 0h1M3 97.5h1m12 0h1m3 0h1m15 0h1m1 0h1m7 0h1m2 0h1m0 0h1m1 0h1m3 0h1m6 0h1m10 0h1M41 100.5h1M15 102.5h1m40 0h1m1 0h1M10 104.5h1m11 0h1m1 0h1m10 0h1m20 0h1m5 0h1m5 0h1m6 0h1M35 105.5h1m1 0h1m10 0h1M4 106.5h1m0 0h1m2 0h1m6 0h1m4 0h1m1 0h1m0 0h1m5 0h1m2 0h1m1 0h1m13 0h1m29 0h1M11 107.5h1m2 0h1m2 0h1m1 0h1m19 0h1M2 108.5h1m2 0h1m2 0h1m5 0h1m9 0h1m0 0h1m31 0h1m2 0h1m3 0h1m0 0h1M9 111.5h1m2 0h1m3 0h1m1 0h1M14 112.5h1M22 115.5h1m25 0h1m2 0h1M6 116.5h1m7 0h1m2 0h1m38 0h1m11 0h1m9 0h1M60 119.5h1M9 123.5h1m12 0h1m11 0h1m12 0h1m0 0h1m11 0h1m3 0h1m4 0h1M2 129.5h1m8 0h1m1 0h1m32 0h1m13 0h1m14 0h1M10 131.5h1m5 0h1m1 0h1m2 0h1m0 0h1m1 0h1m16 0h1M33 133.5h1M3 136.5h1m10 0h1m3 0h1m28 0h1M7 137.5h1m12 0h1m7 0h1m3 0h1m2 0h1m8 0h1m2 0h1m5 0h1m0 0h1m0 0h1m0 0h1m5 0h1M15 142.5h1m9 0h1M26 145.5h1m1 0h1m1 0h1m7 0h1m4 0h1M43 146.5h1m3 0h1m1 0h1m1 0h1m2 0h1m11 0h1m2 0h1m3 0h1M28 147.5h1M2 148.5h1m11 0h1m45 0h1M6 149.5h1M46 151.5h1m0 0h1m0 0h1m3 0h1m6 0h1m9 0h1m3 0h1m0 0h1M17 152.5h1M26 153.5h1M7 155.5h1m9 0h1m6 0h1m12 0h1m38 0h1M0 156.5h1m2 0h1m16 0h1m8 0h1m13 0h1m9 0h1m8 0h1m4 0h1m11 0h1M0 161.5h1m4 0h1m1 0h1m6 0h1m11 0h1m1 0h1m0 0h1m8 0h1m29 0h1M34 163.5h1m3 0h1m9 0h1m1 0h1m18 0h1M1 165.5h1m10 0h1m4 0h1m0 0h1M1 166.5h1m22 0h1m8 0h1m2 0h1m21 0h1m6 0h1m8 0h1m0 0h1M4 167.5h1m4 0h1m5 0h1m4 0h1m15 0h1m17 0h1M39 168.5h1m2 0h1M17 171.5h1m12 0h1m9 0h1m1 0h1m27 0h1m5 0h1M40 172.5h1M40 174.5h1m37 0h1M28 175.5h1M25 176.5h1m4 0h1m3 0h1m2 0h1m19 0h1m4 0h1m14 0h1m1 0h1M11 177.5h1m6 0h1m1 0h1m26 0h1m17 0h1m9 0h1m3 0h1M6 179.5h1m13 0h1m25 0h1m2 0h1m4 0h1m11 0h1M7 182.5h1m0 0h1m1 0h1m9 0h1m2 0h1m1 0h1m5 0h1m1 0h1m25 0h1m10 0h1M11 184.5h1m28 0h1m2 0h1m3 0h1m5 0h1m5 0h1m11 0h1m1 0h1m2 0h1m2 0h1M2 188.5h1m5 0h1m3 0h1m6 0h1m0 0h1m2 0h1m4 0h1m8 0h1M13 190.5h1m15 0h1m3 0h1m3 0h1m7 0h1m0 0h1m0 0h1m10 0h1m0 0h1m2 0h1m3 0h1m0 0h1m1 0h1m1 0h1m6 0h1M5 191.5h1m11 0h1m0 0h1m6 0h1m24 0h1m13 0h1M1 192.5h1m1 0h1m4 0h1m1 0h1m10 0h1m2 0h1m4 0h1m1 0h1m1 0h1m19 0h1m12 0h1m2 0h1m1 0h1m2 0h1M7 193.5h1m2 0h1m1 0h1m0 0h1m19 0h1m2 0h1m8 0h1m2 0h1m18 0h1m3 0h1m0 0h1m0 0h1M37 197.5h1M8 199.5h1m5 0h1m30 0h1m6 0h1m1 0h1m8 0h1m4 0h1M11 200.5h1m33 0h1m0 0h1m18 0h1m2 0h1m3 0h1m3 0h1m0 0h1M33 201.5h1m0 0h1m2 0h1m11 0h1m9 0h1m4 0h1M6 202.5h1m15 0h1m4 0h1m18 0h1m7 0h1m19 0h1M24 204.5h1M6 205.5h1m5 0h1m1 0h1m0 0h1m0 0h1m3 0h1m6 0h1m6 0h1m1 0h1m5 0h1m1 0h1m3 0h1m0 0h1m1 0h1m8 0h1m14 0h1M37 207.5h1m10 0h1m7 0h1m20 0h1m0 0h1M0 208.5h1m4 0h1m16 0h1m10 0h1m2 0h1m1 0h1m5 0h1m9 0h1m9 0h1m7 0h1M2 209.5h1m5 0h1m13 0h1m8 0h1m9 0h1m4 0h1m5 0h1m6 0h1m0 0h1m4 0h1m1 0h1M0 211.5h1m6 0h1m2 0h1m27 0h1m0 0h1m1 0h1m0 0h1m13 0h1m14 0h1M66 213.5h1"/><path stroke="#f4b4ac" d="M67 2.5h1M18 3.5h1m2 0h1m9 0h1M15 4.5h1m14 0h1m19 0h1m8 0h1M4 5.5h1m13 0h1m2 0h1m24 0h1m9 0h1M11 6.5h1m5 0h1M11 20.5h1m10 0h1m24 0h1m0 0h1m3 0h1m6 0h1m9 0h1m3 0h1M41 24.5h1m0 0h1M2 26.5h1m1 0h1m40 0h1m7 0h1m1 0h1m5 0h1m14 0h1m1 0h1M12 29.5h1m36 0h1m12 0h1m14 0h1M37 30.5h1m25 0h1M3 31.5h1m3 0h1m15 0h1m2 0h1m22 0h1m5 0h1M0 35.5h1m36 0h1m26 0h1M49 37.5h1m0 0h1m6 0h1m0 0h1m1 0h1m1 0h1m11 0h1M36 39.5h1M5 41.5h1m5 0h1m1 0h1m0 0h1m5 0h1m5 0h1m7 0h1m1 0h1M40 43.5h1M34 45.5h1M6 46.5h1m8 0h1m2 0h1m10 0h1m20 0h1M3 47.5h1m0 0h1m5 0h1m11 0h1m6 0h1m10 0h1m8 0h1m4 0h1m2 0h1m5 0h1m0 0h1m4 0h1m1 0h1m1 0h1M45 49.5h1M41 51.5h1m16 0h1m4 0h1M72 53.5h1M11 61.5h1m1 0h1m4 0h1m15 0h1m1 0h1m6 0h1m6 0h1m2 0h1m4 0h1m1 0h1m4 0h1m2 0h1m7 0h1M1 66.5h1m2 0h1m1 0h1m0 0h1m7 0h1m1 0h1m10 0h1m0 0h1M20 67.5h1m23 0h1m8 0h1m6 0h1m5 0h1M9 68.5h1m2 0h1m0 0h1m6 0h1m6 0h1m5 0h1m21 0h1m0 0h1M58 70.5h1m13 0h1m4 0h1m1 0h1M24 72.5h1M36 73.5h1M21 74.5h1m5 0h1M2 76.5h1m8 0h1m2 0h1m11 0h1m0 0h1m38 0h1M33 77.5h1m4 0h1m11 0h1m3 0h1m9 0h1m9 0h1m0 0h1M14 78.5h1m6 0h1m20 0h1M33 80.5h1M16 88.5h1m7 0h1m11 0h1M39 89.5h1m23 0h1M44 90.5h1m22 0h1m2 0h1M44 91.5h1m23 0h1m1 0h1M41 92.5h1m2 0h1m2 0h1m11 0h1m0 0h1m9 0h1M47 93.5h1m11 0h1m0 0h1m6 0h1m0 0h1m1 0h1M44 94.5h1m2 0h1m11 0h1m10 0h1m6 0h1m0 0h1M44 95.5h1m2 0h1m11 0h1m0 0h1M43 96.5h1m0 0h1m15 0h1m6 0h1m2 0h1m6 0h1M43 97.5h1m15 0h1m7 0h1m9 0h1M38 98.5h1M10 100.5h1m27 0h1m5 0h1m1 0h1m6 0h1m3 0h1m1 0h1m4 0h1m13 0h1M16 102.5h1m3 0h1m2 0h1m2 0h1m8 0h1m9 0h1m8 0h1m8 0h1m7 0h1M14 104.5h1m0 0h1m62 0h1M2 106.5h1m36 0h1m29 0h1m9 0h1M33 108.5h1M4 111.5h1m14 0h1m5 0h1m8 0h1m5 0h1m5 0h1m3 0h1m0 0h1m0 0h1m21 0h1M16 113.5h1m1 0h1m5 0h1m4 0h1m20 0h1M3 115.5h1m2 0h1m11 0h1m4 0h1m14 0h1m2 0h1m10 0h1m2 0h1m11 0h1m0 0h1M38 116.5h1m0 0h1m2 0h1M2 119.5h1m7 0h1m13 0h1m20 0h1m5 0h1m1 0h1m16 0h1m4 0h1m1 0h1M3 123.5h1m3 0h1m0 0h1m21 0h1m22 0h1m14 0h1m7 0h1M6 125.5h1m47 0h1m1 0h1m2 0h1M34 129.5h1m8 0h1m13 0h1M7 131.5h1M9 136.5h1M63 137.5h1m12 0h1M0 139.5h1m27 0h1m29 0h1M3 145.5h1m18 0h1m10 0h1m14 0h1M60 146.5h1M3 148.5h1m0 0h1m1 0h1m0 0h1m16 0h1m0 0h1m11 0h1m8 0h1m3 0h1m12 0h1m5 0h1m5 0h1M41 149.5h1M0 151.5h1m4 0h1m13 0h1m0 0h1m5 0h1m17 0h1m4 0h1m13 0h1M3 153.5h1m18 0h1m50 0h1m5 0h1M73 155.5h1M1 156.5h1m32 0h1m0 0h1m9 0h1m2 0h1m23 0h1M6 159.5h1m6 0h1m2 0h1m0 0h1m2 0h1m24 0h1m10 0h1m3 0h1m2 0h1m4 0h1m5 0h1m4 0h1M8 163.5h1m8 0h1m9 0h1m8 0h1m15 0h1m1 0h1m1 0h1m2 0h1m11 0h1M21 165.5h1m14 0h1m3 0h1M2 166.5h1m3 0h1m1 0h1m1 0h1m9 0h1m8 0h1m5 0h1m13 0h1m11 0h1m6 0h1M0 167.5h1m12 0h1m14 0h1m0 0h1m10 0h1m4 0h1m3 0h1m27 0h1M55 169.5h1m2 0h1M51 170.5h1M10 171.5h1m20 0h1m7 0h1m4 0h1m5 0h1m2 0h1m4 0h1m7 0h1m0 0h1m1 0h1M6 174.5h1m38 0h1m11 0h1m9 0h1m1 0h1m0 0h1m6 0h1m1 0h1M3 175.5h1m0 0h1m2 0h1m9 0h1m9 0h1m30 0h1m7 0h1M29 176.5h1m21 0h1M57 177.5h1M79 179.5h1M54 184.5h1m12 0h1m0 0h1M42 185.5h1M3 187.5h1m1 0h1m12 0h1m20 0h1M1 188.5h1m1 0h1m13 0h1m7 0h1m7 0h1m8 0h1m3 0h1m2 0h1m4 0h1m3 0h1m16 0h1M5 189.5h1m24 0h1M11 190.5h1m11 0h1m1 0h1m4 0h1m4 0h1m19 0h1M56 191.5h1m6 0h1m6 0h1m3 0h1M49 192.5h1m0 0h1m3 0h1m5 0h1m1 0h1m13 0h1M26 193.5h1m8 0h1m28 0h1M38 194.5h1m0 0h1M14 196.5h1m3 0h1m0 0h1m8 0h1m3 0h1m15 0h1M28 197.5h1M10 199.5h1m9 0h1M0 200.5h1m2 0h1m1 0h1m18 0h1m7 0h1m7 0h1m23 0h1m1 0h1m6 0h1m1 0h1m3 0h1M36 201.5h1m6 0h1m0 0h1m6 0h1m20 0h1M48 202.5h1M23 205.5h1m23 0h1m25 0h1M41 207.5h1m0 0h1m16 0h1M50 208.5h1m7 0h1m2 0h1M6 209.5h1m13 0h1m17 0h1m1 0h1M4 211.5h1m3 0h1m20 0h1m10 0h1m9 0h1m3 0h1m2 0h1m1 0h1m1 0h1m1 0h1m0 0h1m3 0h1m0 0h1m8 0h1M8 213.5h1m25 0h1m9 0h1m2 0h1m15 0h1m5 0h1"/><path stroke="#f7c7b9" d="M68 2.5h1M13 3.5h1M51 4.5h1m9 0h1M9 5.5h1m15 0h1m49 0h1m1 0h1M5 6.5h1m6 0h1m1 0h1m3 0h1m2 0h1m2 0h1m23 0h1m1 0h1m14 0h1m5 0h1M1 20.5h1m7 0h1m5 0h1m1 0h1m6 0h1M40 21.5h1M43 24.5h1m18 0h1m8 0h1m0 0h1M6 26.5h1m11 0h1m39 0h1m12 0h1M4 29.5h1m2 0h1m1 0h1m13 0h1m6 0h1m1 0h1m2 0h1m7 0h1m1 0h1m1 0h1m20 0h1m7 0h1M6 30.5h1m1 0h1m18 0h1m6 0h1m9 0h1m21 0h1m5 0h1m1 0h1M24 31.5h1m2 0h1m0 0h1m8 0h1m8 0h1m11 0h1m6 0h1m1 0h1m0 0h1m8 0h1m1 0h1M73 33.5h1m4 0h1M48 35.5h1m1 0h1m1 0h1m9 0h1m6 0h1m1 0h1M31 37.5h1m1 0h1m8 0h1m11 0h1m4 0h1m4 0h1m4 0h1m0 0h1m2 0h1m2 0h1m2 0h1M2 39.5h1m10 0h1m19 0h1M50 45.5h1m25 0h1M24 46.5h1M2 47.5h1m21 0h1m0 0h1m11 0h1m7 0h1m0 0h1m27 0h1m2 0h1m1 0h1M26 48.5h1m13 0h1M77 50.5h1M44 51.5h1M2 52.5h1m2 0h1m23 0h1m26 0h1m5 0h1M46 53.5h1m8 0h1m12 0h1M0 58.5h1M1 61.5h1m5 0h1m2 0h1m1 0h1m1 0h1m7 0h1m3 0h1m3 0h1m1 0h1m11 0h1m1 0h1m2 0h1m6 0h1m0 0h1m1 0h1m6 0h1m3 0h1M51 63.5h1M2 65.5h1m24 0h1M8 66.5h1m23 0h1M11 67.5h1m1 0h1m5 0h1M3 68.5h1m1 0h1m11 0h1m11 0h1m8 0h1m2 0h1m5 0h1m13 0h1m3 0h1m3 0h1M51 70.5h1M11 72.5h1M20 74.5h1M0 75.5h1m14 0h1m16 0h1m7 0h1m22 0h1M0 76.5h1m3 0h1m1 0h1m0 0h1m4 0h1m51 0h1M39 77.5h1m5 0h1m3 0h1m1 0h1m18 0h1M16 78.5h1m27 0h1m3 0h1m26 0h1M37 80.5h1M23 82.5h1M0 88.5h1m8 0h1m18 0h1m2 0h1m2 0h1m15 0h1m10 0h1m3 0h1M41 89.5h1m14 0h1m7 0h1m0 0h1M9 90.5h1m0 0h1m1 0h1m1 0h1m9 0h1m0 0h1m16 0h1M9 91.5h1m0 0h1m0 0h1m7 0h1m3 0h1m0 0h1m0 0h1m9 0h1m3 0h1m2 0h1m29 0h1M9 92.5h1m1 0h1m0 0h1m1 0h1m3 0h1m5 0h1m0 0h1m13 0h1m2 0h1m19 0h1m9 0h1M1 93.5h1m7 0h1m0 0h1m3 0h1m9 0h1m0 0h1m9 0h1m6 0h1m29 0h1m5 0h1M1 94.5h1m8 0h1m0 0h1m0 0h1m5 0h1m0 0h1m4 0h1m0 0h1m9 0h1m6 0h1m26 0h1m2 0h1M10 95.5h1m1 0h1m1 0h1m2 0h1m6 0h1m0 0h1m9 0h1m6 0h1M9 96.5h1m0 0h1m0 0h1m0 0h1m4 0h1m7 0h1m13 0h1m22 0h1m9 0h1m5 0h1M1 97.5h1m7 0h1m0 0h1m1 0h1m4 0h1m6 0h1m0 0h1m9 0h1m6 0h1m19 0h1m9 0h1M75 98.5h1M39 100.5h1m27 0h1M31 102.5h1m14 0h1m6 0h1m3 0h1m3 0h1m4 0h1m3 0h1m3 0h1m3 0h1m0 0h1M2 104.5h1m10 0h1m4 0h1m0 0h1m3 0h1m7 0h1m13 0h1m13 0h1m5 0h1m0 0h1m0 0h1m5 0h1m2 0h1M16 106.5h1m9 0h1m22 0h1m21 0h1m1 0h1M40 107.5h1M7 108.5h1m2 0h1m5 0h1m3 0h1m1 0h1m0 0h1m3 0h1m17 0h1m0 0h1M43 111.5h1m10 0h1m16 0h1M0 115.5h1m3 0h1m4 0h1m5 0h1m0 0h1m13 0h1m13 0h1m15 0h1m3 0h1m6 0h1m4 0h1M32 116.5h1M55 119.5h1m7 0h1m2 0h1M35 123.5h1m0 0h1m33 0h1M44 125.5h1m27 0h1M9 129.5h1m0 0h1m9 0h1m4 0h1m19 0h1m4 0h1m2 0h1m5 0h1m1 0h1m9 0h1m0 0h1m3 0h1M11 131.5h1m2 0h1m8 0h1m9 0h1M47 133.5h1M6 136.5h1m12 0h1m10 0h1M0 137.5h1m9 0h1m0 0h1m3 0h1m6 0h1m0 0h1m9 0h1m5 0h1m26 0h1m3 0h1m4 0h1M40 139.5h1m21 0h1M39 140.5h1M39 144.5h1M1 145.5h1m2 0h1m5 0h1m6 0h1m19 0h1m3 0h1m2 0h1m6 0h1m1 0h1m2 0h1m0 0h1m2 0h1m11 0h1m4 0h1m1 0h1M28 146.5h1m21 0h1m6 0h1m0 0h1m0 0h1m2 0h1m0 0h1m1 0h1M21 148.5h1m6 0h1m6 0h1m28 0h1m0 0h1m0 0h1M38 149.5h1m1 0h1m1 0h1m1 0h1M32 151.5h1m20 0h1m10 0h1m0 0h1m11 0h1M10 153.5h1M2 155.5h1m5 0h1m24 0h1m26 0h1m10 0h1m5 0h1M54 156.5h1m4 0h1m9 0h1m6 0h1M10 159.5h1m24 0h1m0 0h1m27 0h1M3 161.5h1m0 0h1m7 0h1m14 0h1M38 162.5h1M23 163.5h1m16 0h1m12 0h1m1 0h1m1 0h1m18 0h1M3 165.5h1m6 0h1m2 0h1m10 0h1m7 0h1M5 166.5h1m28 0h1M26 167.5h1m6 0h1m21 0h1M1 171.5h1m12 0h1m1 0h1m6 0h1m17 0h1m23 0h1m13 0h1M38 173.5h1M41 174.5h1m5 0h1m15 0h1M21 175.5h1m2 0h1m23 0h1m28 0h1M10 176.5h1m3 0h1m37 0h1M1 177.5h1m11 0h1m10 0h1m27 0h1M47 179.5h1M9 182.5h1m3 0h1m1 0h1M4 184.5h1m26 0h1M4 188.5h1m0 0h1m8 0h1m12 0h1m15 0h1m8 0h1m0 0h1m14 0h1m1 0h1m5 0h1m0 0h1m1 0h1M41 189.5h1M19 190.5h1m14 0h1m8 0h1m4 0h1m11 0h1M6 191.5h1m1 0h1m23 0h1m1 0h1m20 0h1m2 0h1m0 0h1m0 0h1m4 0h1m1 0h1m1 0h1m2 0h1m3 0h1m2 0h1M2 192.5h1m8 0h1m4 0h1m8 0h1m1 0h1m2 0h1m12 0h1m12 0h1m1 0h1m4 0h1m0 0h1m0 0h1m2 0h1m8 0h1M9 193.5h1m39 0h1m13 0h1M36 194.5h1M9 196.5h1m7 0h1M74 197.5h1M21 199.5h1m4 0h1m11 0h1m7 0h1m11 0h1m3 0h1m3 0h1m0 0h1m2 0h1m0 0h1m3 0h1m0 0h1M27 200.5h1m2 0h1m19 0h1m0 0h1m1 0h1m0 0h1m1 0h1m0 0h1m2 0h1m2 0h1m6 0h1M0 201.5h1m22 0h1m14 0h1m0 0h1m10 0h1m7 0h1m2 0h1m4 0h1m1 0h1m1 0h1m6 0h1m0 0h1M76 202.5h1M1 205.5h1m0 0h1m4 0h1m14 0h1m42 0h1m13 0h1M15 206.5h1M67 207.5h1M6 208.5h1m13 0h1m13 0h1m8 0h1m11 0h1m0 0h1m0 0h1m7 0h1m3 0h1m1 0h1m4 0h1M0 209.5h1m4 0h1m5 0h1m0 0h1m14 0h1m7 0h1m0 0h1m24 0h1M20 211.5h1m12 0h1m0 0h1m17 0h1m12 0h1m0 0h1m9 0h1M10 213.5h1m28 0h1m10 0h1m14 0h1m13 0h1"/><path stroke="#f1a19e" d="M0 3.5h1m5 0h1m7 0h1m0 0h1m13 0h1m3 0h1m0 0h1m44 0h1M2 4.5h1m3 0h1m7 0h1m7 0h1m5 0h1m2 0h1m20 0h1m4 0h1m5 0h1m0 0h1m0 0h1m13 0h1M10 5.5h1M10 6.5h1M21 19.5h1M14 20.5h1m20 0h1m3 0h1m3 0h1m7 0h1m14 0h1m12 0h1M38 24.5h1M10 26.5h1m5 0h1m4 0h1m13 0h1m7 0h1m6 0h1m1 0h1m6 0h1m0 0h1m6 0h1m0 0h1m0 0h1M0 29.5h1m0 0h1m24 0h1m39 0h1M6 31.5h1m66 0h1M40 33.5h1m1 0h1M40 35.5h1M11 37.5h1m36 0h1m6 0h1m0 0h1m14 0h1M3 41.5h1m25 0h1m0 0h1m18 0h1m14 0h1m12 0h1M12 46.5h1m7 0h1m0 0h1m0 0h1m5 0h1m1 0h1m1 0h1m31 0h1M1 47.5h1m17 0h1m8 0h1m3 0h1m14 0h1m10 0h1m13 0h1M4 51.5h1m13 0h1m7 0h1m4 0h1m6 0h1m8 0h1m3 0h1m24 0h1M59 53.5h1M23 61.5h1m27 0h1m19 0h1m2 0h1M39 63.5h1m2 0h1m1 0h1M26 66.5h1m0 0h1m9 0h1m1 0h1m5 0h1m7 0h1m13 0h1m4 0h1M38 67.5h1m2 0h1m0 0h1m16 0h1M4 68.5h1m9 0h1m0 0h1m12 0h1m28 0h1m1 0h1m2 0h1m4 0h1m10 0h1M4 70.5h1m0 0h1m12 0h1m8 0h1m14 0h1m4 0h1m4 0h1m0 0h1m0 0h1m0 0h1m0 0h1m2 0h1m2 0h1m2 0h1m7 0h1M6 74.5h1m1 0h1m1 0h1m4 0h1m24 0h1m5 0h1m5 0h1m10 0h1m3 0h1m5 0h1M22 76.5h1m0 0h1m10 0h1m8 0h1m10 0h1m0 0h1m0 0h1m16 0h1M19 77.5h1m3 0h1m2 0h1m8 0h1m8 0h1m12 0h1m3 0h1m0 0h1m9 0h1m0 0h1m3 0h1m0 0h1M2 78.5h1m17 0h1m6 0h1m2 0h1m2 0h1m1 0h1m10 0h1m6 0h1m4 0h1m3 0h1m1 0h1m6 0h1m0 0h1m1 0h1m2 0h1m0 0h1m0 0h1M1 79.5h1m6 0h1M15 82.5h1M20 85.5h1m12 0h1M49 88.5h1M58 90.5h1m6 0h1m13 0h1M54 91.5h1m3 0h1m6 0h1m13 0h1M54 92.5h1m3 0h1m6 0h1m13 0h1M65 93.5h1M65 95.5h1M54 96.5h1m10 0h1M54 97.5h1m10 0h1M8 100.5h1m3 0h1m22 0h1m12 0h1m3 0h1m8 0h1m6 0h1M6 102.5h1m1 0h1m1 0h1m0 0h1m7 0h1m10 0h1m18 0h1m0 0h1M69 104.5h1M40 106.5h1m23 0h1M41 107.5h1M9 108.5h1m1 0h1M6 111.5h1m3 0h1m11 0h1m9 0h1m11 0h1m22 0h1m1 0h1m3 0h1m2 0h1m0 0h1M5 113.5h1m0 0h1m41 0h1M8 114.5h1M24 115.5h1m29 0h1m2 0h1m17 0h1M1 119.5h1m3 0h1m0 0h1m10 0h1m3 0h1m0 0h1m2 0h1m4 0h1m42 0h1m4 0h1m0 0h1M15 123.5h1m5 0h1m7 0h1m1 0h1m0 0h1m4 0h1m18 0h1M43 125.5h1m14 0h1m1 0h1m1 0h1m7 0h1m2 0h1m1 0h1m1 0h1M55 129.5h1m14 0h1m7 0h1M2 139.5h1m1 0h1m0 0h1m8 0h1m1 0h1m30 0h1m12 0h1m10 0h1m2 0h1m1 0h1M35 145.5h1m0 0h1M52 146.5h1m17 0h1M9 148.5h1m1 0h1m7 0h1m14 0h1m12 0h1m3 0h1m2 0h1m1 0h1m0 0h1m10 0h1m5 0h1m3 0h1M8 151.5h1m5 0h1m15 0h1m0 0h1m7 0h1M4 153.5h1m11 0h1m12 0h1m14 0h1m0 0h1m19 0h1m9 0h1M63 155.5h1M37 156.5h1m2 0h1m1 0h1M4 159.5h1m0 0h1m6 0h1m6 0h1m7 0h1m0 0h1m0 0h1m0 0h1m6 0h1m4 0h1m0 0h1m6 0h1m1 0h1m13 0h1m2 0h1M0 163.5h1m6 0h1m36 0h1m0 0h1m31 0h1M13 164.5h1M8 165.5h1m20 0h1m4 0h1m2 0h1M4 166.5h1m4 0h1m18 0h1m3 0h1M21 167.5h1m13 0h1M25 169.5h1m4 0h1m1 0h1m38 0h1m0 0h1M2 170.5h1m0 0h1m50 0h1m7 0h1M0 171.5h1m4 0h1m0 0h1m17 0h1m2 0h1m4 0h1m15 0h1m6 0h1m19 0h1M10 174.5h1m4 0h1m7 0h1m25 0h1m1 0h1m0 0h1m0 0h1m1 0h1m2 0h1m7 0h1m4 0h1M1 175.5h1m3 0h1m3 0h1m3 0h1m0 0h1m0 0h1m3 0h1m0 0h1m14 0h1m13 0h1m3 0h1m1 0h1m8 0h1m3 0h1m0 0h1m1 0h1m7 0h1M39 184.5h1m1 0h1m0 0h1M35 185.5h1m19 0h1m1 0h1m2 0h1M32 187.5h1m1 0h1m3 0h1m13 0h1m9 0h1m4 0h1m4 0h1m0 0h1M56 188.5h1m9 0h1m0 0h1m5 0h1m4 0h1M2 189.5h1m7 0h1m3 0h1m21 0h1m6 0h1m11 0h1m15 0h1m5 0h1m1 0h1M2 190.5h1m0 0h1m0 0h1m3 0h1m12 0h1m10 0h1m43 0h1M43 191.5h1m31 0h1M44 192.5h1m16 0h1M2 196.5h1m0 0h1m0 0h1m0 0h1m15 0h1m9 0h1m2 0h1m41 0h1M2 197.5h1m30 0h1m21 0h1M38 198.5h1M3 199.5h1m5 0h1m19 0h1m0 0h1m9 0h1m24 0h1M2 200.5h1m9 0h1m13 0h1m4 0h1M14 201.5h1m4 0h1m26 0h1M0 205.5h1M47 208.5h1m3 0h1M76 209.5h1M46 211.5h1m8 0h1m21 0h1M1 213.5h1m10 0h1m10 0h1m12 0h1m0 0h1m4 0h1m6 0h1m12 0h1m4 0h1m9 0h1"/><path stroke="#f5bdb2" d="M1 3.5h1m7 0h1m0 0h1m6 0h1m12 0h1M38 4.5h1m3 0h1m0 0h1m14 0h1m14 0h1M47 5.5h1m30 0h1M7 6.5h1m8 0h1m5 0h1m12 0h1m1 0h1m14 0h1m16 0h1m2 0h1M23 19.5h1M2 20.5h1m2 0h1m10 0h1m1 0h1m2 0h1m6 0h1m4 0h1m15 0h1m5 0h1m5 0h1m0 0h1m2 0h1m4 0h1M15 25.5h1M7 26.5h1m11 0h1m4 0h1m3 0h1m1 0h1m5 0h1m20 0h1m16 0h1m0 0h1M5 29.5h1m0 0h1m7 0h1m6 0h1m3 0h1m2 0h1m7 0h1m7 0h1m3 0h1m1 0h1m2 0h1m0 0h1m3 0h1m4 0h1m3 0h1m2 0h1m1 0h1m1 0h1m3 0h1M46 30.5h1m0 0h1m22 0h1M11 31.5h1m1 0h1m2 0h1m0 0h1m2 0h1m9 0h1m3 0h1m10 0h1m7 0h1m0 0h1m15 0h1m1 0h1M8 35.5h1m30 0h1m27 0h1m4 0h1m3 0h1M27 37.5h1m15 0h1m0 0h1m1 0h1m5 0h1m0 0h1M34 39.5h1m2 0h1M7 41.5h1M33 45.5h1M5 47.5h1m2 0h1m6 0h1m11 0h1m14 0h1m16 0h1M40 50.5h1m1 0h1M53 51.5h1M13 52.5h1M23 53.5h1m49 0h1M3 61.5h1m2 0h1m9 0h1m14 0h1m3 0h1m4 0h1m0 0h1m10 0h1m20 0h1m3 0h1m0 0h1M10 63.5h1M0 66.5h1m13 0h1m5 0h1m0 0h1m2 0h1m0 0h1m5 0h1m23 0h1M8 67.5h1m16 0h1m22 0h1m0 0h1m5 0h1M10 68.5h1m8 0h1m10 0h1m0 0h1m21 0h1m0 0h1m9 0h1M68 73.5h1M12 74.5h1m18 0h1m0 0h1M12 75.5h1M1 76.5h1m1 0h1m4 0h1m10 0h1m1 0h1m7 0h1m1 0h1m0 0h1M3 77.5h1m33 0h1m38 0h1m2 0h1M12 78.5h1m12 0h1m0 0h1m13 0h1m0 0h1m12 0h1M36 80.5h1M30 85.5h1M6 88.5h1m5 0h1m4 0h1M28 89.5h1m6 0h1m24 0h1m11 0h1M1 90.5h1m16 0h1m16 0h1m3 0h1m1 0h1m1 0h1m3 0h1m11 0h1m0 0h1m1 0h1m5 0h1m3 0h1m5 0h1M1 91.5h1m10 0h1m5 0h1m22 0h1m1 0h1m3 0h1m11 0h1m0 0h1m1 0h1m4 0h1m10 0h1M1 92.5h1m8 0h1m24 0h1m7 0h1m23 0h1m0 0h1m9 0h1M11 93.5h1m0 0h1m5 0h1m20 0h1m1 0h1m1 0h1m18 0h1M39 94.5h1m1 0h1m1 0h1m16 0h1m1 0h1m4 0h1m0 0h1M1 95.5h1m7 0h1m1 0h1m6 0h1m20 0h1m1 0h1m1 0h1m18 0h1m4 0h1m0 0h1m3 0h1m5 0h1M1 96.5h1m16 0h1m5 0h1m10 0h1m5 0h1m0 0h1m4 0h1m11 0h1m8 0h1M11 97.5h1m6 0h1m20 0h1m1 0h1m5 0h1m12 0h1m7 0h1m9 0h1M54 100.5h1m8 0h1m5 0h1M5 102.5h1m6 0h1m4 0h1m4 0h1m2 0h1m3 0h1m14 0h1m20 0h1m1 0h1m0 0h1m3 0h1M4 104.5h1m0 0h1m21 0h1m6 0h1m5 0h1m3 0h1m2 0h1m1 0h1m3 0h1m9 0h1m8 0h1m4 0h1M2 105.5h1M3 106.5h1m46 0h1m8 0h1m15 0h1M38 107.5h1M31 108.5h1m19 0h1m19 0h1M0 111.5h1m13 0h1m0 0h1m4 0h1m5 0h1m6 0h1m2 0h1m4 0h1m11 0h1m9 0h1m8 0h1M36 112.5h1M7 115.5h1m3 0h1m5 0h1m1 0h1m11 0h1m0 0h1m7 0h1m1 0h1m3 0h1m6 0h1m20 0h1m3 0h1M40 116.5h1M15 119.5h1m16 0h1m34 0h1M13 123.5h1m9 0h1m4 0h1m21 0h1m20 0h1m5 0h1M24 125.5h1m22 0h1m0 0h1m2 0h1m9 0h1M6 129.5h1m25 0h1m4 0h1m0 0h1m13 0h1m10 0h1m3 0h1M25 131.5h1M17 136.5h1m28 0h1M8 137.5h1m0 0h1m26 0h1m1 0h1m26 0h1M41 139.5h1m36 0h1M38 140.5h1m3 0h1M35 144.5h1M39 145.5h1m12 0h1m10 0h1m12 0h1m1 0h1M39 146.5h1m2 0h1m1 0h1m0 0h1m9 0h1m8 0h1m9 0h1m4 0h1M8 148.5h1m6 0h1m1 0h1m11 0h1m0 0h1m0 0h1m0 0h1m12 0h1m27 0h1m3 0h1M27 151.5h1m22 0h1m4 0h1m1 0h1m9 0h1m3 0h1m7 0h1M18 153.5h1M0 155.5h1m9 0h1m19 0h1m33 0h1m13 0h1M41 156.5h1m29 0h1M64 157.5h1M9 159.5h1m1 0h1m26 0h1m31 0h1M9 161.5h1m13 0h1M42 162.5h1M42 163.5h1m8 0h1m8 0h1m0 0h1m5 0h1M33 164.5h1M4 165.5h1m14 0h1m0 0h1m4 0h1m12 0h1M0 166.5h1m2 0h1m9 0h1m0 0h1m3 0h1m7 0h1m0 0h1m3 0h1m5 0h1m13 0h1m26 0h1m0 0h1M18 167.5h1m3 0h1m11 0h1m6 0h1m2 0h1m3 0h1M3 171.5h1m14 0h1m3 0h1m3 0h1m11 0h1m8 0h1m13 0h1m0 0h1m9 0h1m0 0h1m3 0h1M17 174.5h1m4 0h1m13 0h1m6 0h1m15 0h1m0 0h1m1 0h1m11 0h1m0 0h1m0 0h1M31 175.5h1m2 0h1m10 0h1m14 0h1m2 0h1m8 0h1M1 176.5h1m5 0h1m8 0h1m2 0h1m12 0h1m2 0h1m8 0h1m14 0h1m1 0h1m8 0h1M0 177.5h1m13 0h1m14 0h1M18 182.5h1M27 184.5h1m16 0h1m1 0h1m3 0h1m18 0h1M72 185.5h1M19 187.5h1m20 0h1M10 188.5h1m13 0h1m5 0h1m4 0h1m2 0h1m2 0h1m2 0h1m6 0h1m8 0h1m8 0h1m2 0h1m1 0h1M46 189.5h1M9 190.5h1m0 0h1m1 0h1m3 0h1m11 0h1m15 0h1M2 191.5h1m10 0h1m38 0h1m1 0h1m2 0h1m8 0h1m6 0h1m3 0h1M4 192.5h1m8 0h1m5 0h1m27 0h1m25 0h1M28 193.5h1m5 0h1M35 194.5h1m5 0h1m0 0h1M11 196.5h1m3 0h1m4 0h1m5 0h1M1 199.5h1m3 0h1m5 0h1m0 0h1m19 0h1m15 0h1m0 0h1m1 0h1m21 0h1M1 200.5h1m4 0h1m2 0h1m11 0h1m6 0h1m10 0h1m1 0h1m10 0h1m5 0h1M24 201.5h1m1 0h1m18 0h1m11 0h1m9 0h1m1 0h1m5 0h1M51 202.5h1M21 205.5h1m3 0h1m4 0h1m6 0h1m19 0h1M76 207.5h1M12 208.5h1m53 0h1m6 0h1m3 0h1M15 209.5h1m32 0h1m5 0h1m1 0h1M6 211.5h1m12 0h1m10 0h1m13 0h1m6 0h1m8 0h1m11 0h1M24 213.5h1m23 0h1m19 0h1"/><path stroke="#f09898" d="M2 3.5h1m0 0h1m0 0h1m17 0h1m0 0h1m8 0h1m19 0h1m17 0h1M11 4.5h1m4 0h1m1 0h1m0 0h1m3 0h1m0 0h1m8 0h1m3 0h1m8 0h1m0 0h1m1 0h1m5 0h1m18 0h1m0 0h1m2 0h1M8 6.5h1m11 0h1M27 19.5h1m25 0h1m11 0h1m10 0h1M42 20.5h1m10 0h1m2 0h1m10 0h1M8 26.5h1m20 0h1m18 0h1m5 0h1m15 0h1M2 29.5h1m14 0h1m47 0h1M36 30.5h1M15 31.5h1M42 35.5h1M40 37.5h1m26 0h1M6 41.5h1m5 0h1m10 0h1m4 0h1m13 0h1m10 0h1m3 0h1M0 46.5h1m0 0h1m1 0h1m3 0h1m1 0h1m1 0h1m14 0h1m6 0h1m25 0h1m2 0h1m0 0h1m3 0h1m1 0h1m3 0h1M0 47.5h1m10 0h1m0 0h1m5 0h1m4 0h1m7 0h1m6 0h1m5 0h1m3 0h1m4 0h1m1 0h1m0 0h1m8 0h1m2 0h1m7 0h1M15 51.5h1m12 0h1m10 0h1m2 0h1m0 0h1m1 0h1m0 0h1m3 0h1m11 0h1m4 0h1m2 0h1m1 0h1M9 61.5h1m7 0h1m51 0h1M38 63.5h1M11 66.5h1m6 0h1m0 0h1m15 0h1m5 0h1m4 0h1m13 0h1m1 0h1m6 0h1m7 0h1M0 68.5h1m17 0h1m17 0h1m7 0h1m13 0h1m7 0h1m7 0h1M6 70.5h1m17 0h1m24 0h1m16 0h1M2 74.5h1m14 0h1m0 0h1m0 0h1m5 0h1m3 0h1m30 0h1m4 0h1m2 0h1m2 0h1m0 0h1M18 76.5h1m11 0h1m20 0h1m8 0h1m9 0h1M1 77.5h1m10 0h1m4 0h1m4 0h1m1 0h1m0 0h1m3 0h1m0 0h1m3 0h1m11 0h1m6 0h1m2 0h1m1 0h1m0 0h1m6 0h1m1 0h1m0 0h1m1 0h1M3 78.5h1m0 0h1m1 0h1m0 0h1m1 0h1m0 0h1m0 0h1m7 0h1m2 0h1m37 0h1m8 0h1M47 80.5h1m9 0h1m8 0h1M6 85.5h1m5 0h1m1 0h1m8 0h1m2 0h1m17 0h1m4 0h1m10 0h1M40 90.5h1M40 91.5h1M40 92.5h1M40 93.5h1m17 0h1m20 0h1M79 94.5h1M40 95.5h1m38 0h1M79 96.5h1M79 97.5h1M11 100.5h1m35 0h1m24 0h1m6 0h1M4 102.5h1m4 0h1m3 0h1m10 0h1m2 0h1m5 0h1m2 0h1m0 0h1m22 0h1M38 104.5h1M38 106.5h1M26 108.5h1m8 0h1M1 111.5h1m0 0h1m32 0h1m9 0h1m9 0h1m3 0h1m0 0h1m4 0h1m0 0h1m3 0h1M4 113.5h1m3 0h1m2 0h1m26 0h1m18 0h1m5 0h1m11 0h1m1 0h1m0 0h1M27 114.5h1m38 0h1M39 115.5h1m30 0h1M0 119.5h1m17 0h1m8 0h1m19 0h1m16 0h1m0 0h1m5 0h1m2 0h1M11 123.5h1M15 125.5h1m7 0h1m21 0h1m4 0h1m2 0h1m1 0h1m7 0h1m0 0h1m4 0h1m4 0h1m1 0h1m1 0h1M62 129.5h1M36 131.5h1M20 139.5h1m0 0h1m3 0h1m0 0h1m3 0h1m15 0h1m6 0h1m9 0h1m0 0h1m4 0h1m2 0h1M38 144.5h1M41 146.5h1M10 148.5h1m9 0h1m1 0h1m10 0h1m25 0h1m12 0h1M11 151.5h1m9 0h1m2 0h1m10 0h1m1 0h1m2 0h1M14 153.5h1m4 0h1m1 0h1m28 0h1m0 0h1m12 0h1M18 157.5h1m27 0h1M0 159.5h1m0 0h1m0 0h1m23 0h1m7 0h1m9 0h1m12 0h1m9 0h1m8 0h1m0 0h1M1 163.5h1m4 0h1m5 0h1m6 0h1m9 0h1m28 0h1m3 0h1m2 0h1m2 0h1M36 164.5h1m0 0h1m2 0h1M14 165.5h1m1 0h1M60 166.5h1m3 0h1m5 0h1M2 167.5h1M1 169.5h1m0 0h1m2 0h1m5 0h1m0 0h1m4 0h1m26 0h1m2 0h1m14 0h1m7 0h1M30 170.5h1m10 0h1m0 0h1m1 0h1m1 0h1m16 0h1m1 0h1m0 0h1m2 0h1m0 0h1m7 0h1M12 171.5h1m7 0h1m33 0h1m4 0h1M12 174.5h1m5 0h1m0 0h1m1 0h1m4 0h1m1 0h1m6 0h1m18 0h1m10 0h1m7 0h1M2 175.5h1m19 0h1m0 0h1m2 0h1m6 0h1m22 0h1m5 0h1m11 0h1m1 0h1M48 176.5h1M19 182.5h1M38 184.5h1M34 185.5h1m11 0h1m5 0h1m1 0h1m15 0h1m6 0h1m0 0h1M9 187.5h1m7 0h1m2 0h1m1 0h1m1 0h1m5 0h1m2 0h1m11 0h1m4 0h1m0 0h1m4 0h1M36 188.5h1m11 0h1m15 0h1M0 189.5h1m0 0h1m27 0h1m3 0h1m15 0h1m0 0h1m8 0h1m16 0h1M1 190.5h1m13 0h1M61 191.5h1M40 194.5h1M13 196.5h1m11 0h1m12 0h1m1 0h1m3 0h1m4 0h1m1 0h1m5 0h1m2 0h1m0 0h1m8 0h1M7 197.5h1m2 0h1m8 0h1m0 0h1m23 0h1m21 0h1m6 0h1m1 0h1M0 199.5h1m27 0h1m10 0h1M18 200.5h1m0 0h1m2 0h1m6 0h1m5 0h1m1 0h1m0 0h1M4 201.5h1m5 0h1m5 0h1m1 0h1m1 0h1m11 0h1M3 213.5h1m10 0h1m4 0h1m5 0h1m1 0h1m1 0h1m5 0h1m2 0h1m2 0h1m11 0h1m1 0h1m1 0h1m1 0h1m1 0h1m2 0h1m5 0h1m0 0h1m2 0h1m0 0h1"/><path stroke="#e75f70" d="M5 3.5h1m50 0h1m0 0h1m1 0h1m1 0h1m15 0h1M30 19.5h1m15 0h1m11 0h1m0 0h1m7 0h1M64 26.5h1M5 28.5h1m2 0h1m3 0h1m6 0h1m32 0h1M39 41.5h1m18 0h1m17 0h1M71 46.5h1m0 0h1M5 51.5h1m0 0h1m41 0h1m29 0h1M9 62.5h1m39 0h1m8 0h1m12 0h1M50 66.5h1m12 0h1M49 74.5h1M36 76.5h1m11 0h1m26 0h1M5 77.5h1m3 0h1M5 79.5h1m8 0h1m15 0h1m3 0h1m2 0h1m14 0h1m12 0h1m0 0h1m0 0h1m1 0h1M5 80.5h1m16 0h1m5 0h1m11 0h1m2 0h1m9 0h1m1 0h1m18 0h1m3 0h1M9 85.5h1m0 0h1m6 0h1m55 0h1m3 0h1M23 100.5h1M37 113.5h1m14 0h1M5 114.5h1m6 0h1m7 0h1m2 0h1m17 0h1m2 0h1m11 0h1m2 0h1m4 0h1m7 0h1m2 0h1M36 119.5h1M3 125.5h1m3 0h1m13 0h1m6 0h1m11 0h1M8 134.5h1m3 0h1m1 0h1m3 0h1m9 0h1m12 0h1m22 0h1m3 0h1M18 139.5h1m4 0h1m12 0h1M42 153.5h1m10 0h1m9 0h1m12 0h1M12 157.5h1m14 0h1m31 0h1m1 0h1m8 0h1M16 163.5h1M7 164.5h1m3 0h1m0 0h1m4 0h1m0 0h1m9 0h1m0 0h1m5 0h1m9 0h1m0 0h1m3 0h1m5 0h1m1 0h1m3 0h1m2 0h1m5 0h1m6 0h1M40 169.5h1m7 0h1M6 170.5h1m10 0h1m20 0h1m0 0h1m8 0h1m28 0h1M56 174.5h1M12 175.5h1M11 185.5h1m2 0h1m34 0h1m19 0h1M4 187.5h1m49 0h1M4 189.5h1m48 0h1M38 191.5h1M41 196.5h1m1 0h1m19 0h1m10 0h1M0 197.5h1m12 0h1m0 0h1m3 0h1m12 0h1m8 0h1m9 0h1m1 0h1m24 0h1M37 199.5h1M36 200.5h1M56 213.5h1"/><path stroke="#ee8e91" d="M7 3.5h1m11 0h1m6 0h1m1 0h1m11 0h1m24 0h1m1 0h1m8 0h1M0 4.5h1m33 0h1m9 0h1m11 0h1m5 0h1m3 0h1m0 0h1m3 0h1M0 19.5h1m5 0h1m9 0h1m8 0h1m0 0h1m4 0h1m10 0h1m11 0h1M36 20.5h1m35 0h1m1 0h1m0 0h1M39 24.5h1M49 26.5h1m6 0h1m5 0h1m14 0h1M11 29.5h1m17 0h1M45 37.5h1M35 39.5h1M1 41.5h1m0 0h1m6 0h1m14 0h1m6 0h1m1 0h1m3 0h1m2 0h1m15 0h1m4 0h1m4 0h1M5 46.5h1m2 0h1m7 0h1m26 0h1m11 0h1m9 0h1m12 0h1M35 47.5h1m24 0h1M7 51.5h1m5 0h1m16 0h1m25 0h1m0 0h1m2 0h1m5 0h1m4 0h1m2 0h1m2 0h1M63 61.5h1m15 0h1M9 66.5h1m12 0h1m10 0h1m10 0h1m7 0h1m12 0h1m4 0h1m2 0h1m1 0h1M39 67.5h1M1 68.5h1m19 0h1m1 0h1m8 0h1m10 0h1m1 0h1m2 0h1M2 70.5h1m4 0h1m0 0h1m3 0h1m2 0h1m3 0h1m28 0h1m15 0h1m3 0h1m1 0h1m5 0h1M3 74.5h1m0 0h1m0 0h1m5 0h1m10 0h1m1 0h1m5 0h1m2 0h1m1 0h1m3 0h1m2 0h1m27 0h1m3 0h1m1 0h1m0 0h1M10 76.5h1m5 0h1m8 0h1m2 0h1m4 0h1m3 0h1m7 0h1m12 0h1m6 0h1m1 0h1m9 0h1m0 0h1M2 77.5h1m5 0h1m4 0h1m13 0h1m8 0h1m6 0h1m3 0h1m4 0h1M13 78.5h1m4 0h1m9 0h1m0 0h1m4 0h1m16 0h1m3 0h1m0 0h1m8 0h1m0 0h1m9 0h1M3 79.5h1m0 0h1m2 0h1m4 0h1m2 0h1m33 0h1m1 0h1M8 80.5h1m17 0h1m18 0h1m5 0h1m12 0h1m14 0h1M16 85.5h1m1 0h1m10 0h1m12 0h1m0 0h1m12 0h1M40 94.5h1M40 96.5h1M40 97.5h1M9 100.5h1m16 0h1m18 0h1m3 0h1m1 0h1m8 0h1M3 102.5h1m17 0h1m53 0h1M42 106.5h1M49 111.5h1m18 0h1M3 113.5h1m13 0h1m1 0h1m0 0h1m4 0h1m2 0h1m3 0h1m18 0h1m9 0h1m7 0h1M26 114.5h1M56 115.5h1M13 119.5h1m17 0h1m1 0h1m10 0h1m5 0h1m3 0h1m3 0h1M0 123.5h1m1 0h1m9 0h1m3 0h1m8 0h1M4 125.5h1m3 0h1m1 0h1m0 0h1m7 0h1m0 0h1m10 0h1m7 0h1m9 0h1m2 0h1m4 0h1M65 129.5h1M66 134.5h1M3 139.5h1m4 0h1m1 0h1m45 0h1m2 0h1m19 0h1M40 140.5h1M2 151.5h1m0 0h1m3 0h1m9 0h1m0 0h1m3 0h1m49 0h1M2 153.5h1m12 0h1m9 0h1m5 0h1m11 0h1m3 0h1m0 0h1m0 0h1m6 0h1m1 0h1m0 0h1m2 0h1m5 0h1M26 157.5h1m13 0h1m24 0h1m11 0h1M3 159.5h1m3 0h1m7 0h1m6 0h1m0 0h1m1 0h1m21 0h1m7 0h1m2 0h1m6 0h1m5 0h1M2 163.5h1m10 0h1m4 0h1m6 0h1m13 0h1m35 0h1m2 0h1M20 164.5h1m13 0h1m39 0h1M2 165.5h1M19 166.5h1M43 169.5h1m20 0h1m4 0h1m6 0h1M9 170.5h1m8 0h1m24 0h1m9 0h1m1 0h1m2 0h1m0 0h1m8 0h1m5 0h1M25 171.5h1M11 174.5h1m2 0h1m9 0h1m7 0h1m11 0h1M0 175.5h1m5 0h1m11 0h1m18 0h1m9 0h1m2 0h1m6 0h1m1 0h1m1 0h1m3 0h1m1 0h1M6 185.5h1m23 0h1m1 0h1m4 0h1m5 0h1m18 0h1m2 0h1m9 0h1M1 187.5h1m5 0h1m13 0h1m5 0h1m15 0h1m2 0h1m1 0h1m0 0h1m16 0h1m8 0h1M6 189.5h1m1 0h1m2 0h1m7 0h1m0 0h1m4 0h1m9 0h1m15 0h1m17 0h1m2 0h1m5 0h1M14 190.5h1m12 0h1M11 191.5h1m27 0h1m8 0h1m0 0h1m18 0h1m9 0h1M67 192.5h1M0 196.5h1m9 0h1m11 0h1m7 0h1m8 0h1m2 0h1m30 0h1m3 0h1M27 197.5h1m6 0h1m11 0h1m12 0h1m5 0h1M42 199.5h1m34 0h1M14 200.5h1m19 0h1M1 201.5h1m1 0h1m18 0h1m7 0h1M42 209.5h1M67 211.5h1M5 213.5h1m14 0h1m5 0h1m18 0h1m27 0h1m4 0h1"/><path stroke="#f2aaa5" d="M8 3.5h1m2 0h1m8 0h1m3 0h1m14 0h1M7 4.5h1m37 0h1m7 0h1m14 0h1m0 0h1m2 0h1m3 0h1M0 5.5h1M10 20.5h1m27 0h1m2 0h1m2 0h1m1 0h1m13 0h1m10 0h1M40 24.5h1M3 26.5h1m1 0h1m7 0h1m1 0h1m1 0h1m2 0h1m11 0h1m0 0h1m3 0h1m1 0h1m4 0h1m1 0h1m0 0h1m15 0h1m15 0h1M8 29.5h1m1 0h1m2 0h1m10 0h1M33 30.5h1m35 0h1M10 31.5h1m22 0h1m27 0h1m2 0h1m11 0h1M39 33.5h1m1 0h1M44 35.5h1m14 0h1m0 0h1M35 37.5h1m3 0h1m7 0h1m15 0h1m8 0h1m5 0h1M19 41.5h1m1 0h1m3 0h1m6 0h1m21 0h1M37 45.5h1M2 46.5h1m7 0h1m8 0h1m3 0h1m34 0h1M17 47.5h1m2 0h1m0 0h1m14 0h1m2 0h1m10 0h1m0 0h1m14 0h1m3 0h1m7 0h1M33 51.5h1m6 0h1m24 0h1M0 61.5h1m1 0h1m18 0h1m2 0h1m2 0h1m5 0h1m3 0h1m7 0h1M3 66.5h1m1 0h1m4 0h1m1 0h1m0 0h1m2 0h1m17 0h1m1 0h1m10 0h1m3 0h1m5 0h1M40 67.5h1m28 0h1M7 68.5h1m14 0h1m2 0h1m0 0h1m12 0h1m10 0h1m17 0h1m1 0h1m5 0h1M0 70.5h1m0 0h1m7 0h1m0 0h1m5 0h1m26 0h1m0 0h1m1 0h1m3 0h1m9 0h1m0 0h1m1 0h1m5 0h1m1 0h1m2 0h1m0 0h1M0 74.5h1m0 0h1m5 0h1m1 0h1m6 0h1m6 0h1m2 0h1m1 0h1m8 0h1m15 0h1m1 0h1M38 75.5h1m2 0h1M5 76.5h1m11 0h1m2 0h1m3 0h1m22 0h1m31 0h1M6 77.5h1m13 0h1m20 0h1m13 0h1m9 0h1m1 0h1M8 78.5h1m8 0h1m6 0h1m7 0h1m3 0h1m0 0h1m5 0h1m5 0h1m9 0h1m3 0h1M6 79.5h1m54 0h1M35 80.5h1M34 85.5h1m0 0h1m17 0h1m7 0h1m10 0h1M33 88.5h1m1 0h1M34 89.5h1m3 0h1m1 0h1m1 0h1M54 90.5h1m22 0h1M77 91.5h1M77 92.5h1M44 93.5h1m9 0h1m22 0h1M54 94.5h1m3 0h1m6 0h1M54 95.5h1m3 0h1m11 0h1m6 0h1M58 96.5h1M44 97.5h1m13 0h1m11 0h1M36 100.5h1m6 0h1m6 0h1m14 0h1m5 0h1M0 102.5h1m13 0h1m3 0h1m15 0h1m16 0h1m0 0h1M32 104.5h1m9 0h1m21 0h1M41 106.5h1m12 0h1M42 107.5h1M34 108.5h1M5 111.5h1m5 0h1m1 0h1m13 0h1m1 0h1m7 0h1m0 0h1m0 0h1m17 0h1m3 0h1m2 0h1m13 0h1M9 113.5h1m31 0h1m25 0h1m11 0h1M43 115.5h1m1 0h1m1 0h1m10 0h1m0 0h1m2 0h1m0 0h1m1 0h1m7 0h1m3 0h1M7 119.5h1m0 0h1m5 0h1m1 0h1m9 0h1m16 0h1m2 0h1m1 0h1m10 0h1m1 0h1m0 0h1m6 0h1m2 0h1m3 0h1M1 123.5h1m2 0h1m0 0h1m11 0h1m0 0h1m0 0h1m4 0h1m2 0h1m44 0h1m0 0h1M0 125.5h1m29 0h1m1 0h1m32 0h1m2 0h1m10 0h1M5 129.5h1m30 0h1m11 0h1m28 0h1m1 0h1M35 131.5h1M24 137.5h1M11 139.5h1m12 0h1m36 0h1m5 0h1m2 0h1m6 0h1M41 140.5h1M41 144.5h1m0 0h1M29 145.5h1m4 0h1m14 0h1M38 146.5h1m29 0h1m8 0h1M0 148.5h1m11 0h1m0 0h1m2 0h1m26 0h1m0 0h1m3 0h1m0 0h1m3 0h1m16 0h1m5 0h1m2 0h1M39 149.5h1M1 151.5h1m2 0h1m1 0h1m2 0h1m0 0h1m1 0h1m10 0h1m1 0h1m16 0h1M9 153.5h1m7 0h1m2 0h1m9 0h1m38 0h1m8 0h1M9 155.5h1M33 156.5h1m4 0h1m5 0h1m1 0h1m27 0h1M31 159.5h1m8 0h1m0 0h1m9 0h1m10 0h1m10 0h1m1 0h1M4 163.5h1m23 0h1m17 0h1m2 0h1m13 0h1m9 0h1m0 0h1m4 0h1M22 165.5h1m3 0h1M12 166.5h1m8 0h1m1 0h1m6 0h1m22 0h1m9 0h1M5 167.5h1m10 0h1m10 0h1m9 0h1m1 0h1M3 169.5h1m61 0h1M61 170.5h1m11 0h1M2 171.5h1m12 0h1m3 0h1m8 0h1m27 0h1m3 0h1m7 0h1m2 0h1m2 0h1m3 0h1M1 174.5h1m7 0h1m6 0h1m14 0h1m1 0h1m0 0h1m26 0h1m2 0h1m3 0h1m3 0h1M10 175.5h1m0 0h1m13 0h1m4 0h1m5 0h1m15 0h1m1 0h1m15 0h1m4 0h1m2 0h1M6 176.5h1m10 0h1m3 0h1m43 0h1M75 184.5h1M6 187.5h1m30 0h1m3 0h1m0 0h1m1 0h1m31 0h1M15 188.5h1m39 0h1m1 0h1m1 0h1m1 0h1m1 0h1m1 0h1m5 0h1M3 189.5h1m18 0h1m0 0h1m7 0h1m5 0h1m9 0h1m0 0h1m3 0h1m1 0h1m10 0h1m7 0h1m0 0h1M6 190.5h1m0 0h1m9 0h1m0 0h1m5 0h1M24 191.5h1m5 0h1m14 0h1m0 0h1m0 0h1m3 0h1m10 0h1M0 192.5h1m19 0h1m7 0h1m5 0h1m35 0h1m4 0h1M33 194.5h1M7 196.5h1m8 0h1m12 0h1m36 0h1m0 0h1m1 0h1m2 0h1M3 197.5h1m12 0h1m18 0h1M4 199.5h1m1 0h1m9 0h1m0 0h1m0 0h1m3 0h1m2 0h1m5 0h1m9 0h1M4 200.5h1m2 0h1m2 0h1m2 0h1m1 0h1m4 0h1m2 0h1m18 0h1m6 0h1M2 201.5h1m22 0h1M39 205.5h1M38 207.5h1m0 0h1M40 208.5h1m34 0h1M33 209.5h1m3 0h1m1 0h1M13 211.5h1m11 0h1m17 0h1m3 0h1m27 0h1M21 213.5h1m10 0h1m0 0h1m9 0h1m8 0h1m1 0h1m17 0h1"/><path stroke="#eb7b84" d="M12 3.5h1m14 0h1m10 0h1m3 0h1m15 0h1m3 0h1m8 0h1m1 0h1m1 0h1m2 0h1M3 4.5h1m1 0h1m6 0h1m4 0h1m2 0h1m27 0h1M5 19.5h1m6 0h1m1 0h1m4 0h1m0 0h1m7 0h1m3 0h1m3 0h1m4 0h1m1 0h1m6 0h1m6 0h1m11 0h1m0 0h1M37 20.5h1m7 0h1M22 26.5h1m11 0h1m16 0h1m14 0h1M0 41.5h1m7 0h1m6 0h1m0 0h1m10 0h1m39 0h1m7 0h1M4 46.5h1m8 0h1m21 0h1m0 0h1m1 0h1m1 0h1m3 0h1m4 0h1m1 0h1m0 0h1m0 0h1m0 0h1m1 0h1m3 0h1m9 0h1m5 0h1M41 47.5h1M0 51.5h1m1 0h1m7 0h1m3 0h1m2 0h1m2 0h1m33 0h1m9 0h1m8 0h1m5 0h1M41 63.5h1M42 66.5h1m11 0h1m3 0h1m12 0h1m2 0h1m1 0h1M3 70.5h1m10 0h1m15 0h1m1 0h1m1 0h1m0 0h1m1 0h1m1 0h1m1 0h1M34 74.5h1m1 0h1m7 0h1m0 0h1m8 0h1m1 0h1m0 0h1m8 0h1M62 76.5h1m0 0h1m5 0h1m4 0h1M28 77.5h1m2 0h1M52 78.5h1M2 79.5h1m8 0h1m1 0h1m3 0h1m2 0h1m2 0h1m9 0h1m2 0h1m4 0h1m2 0h1m1 0h1m11 0h1m3 0h1m7 0h1m0 0h1m3 0h1m1 0h1M1 80.5h1m40 0h1m1 0h1m1 0h1m2 0h1m2 0h1m10 0h1m9 0h1m1 0h1M0 85.5h1m18 0h1m1 0h1m3 0h1m1 0h1m12 0h1m9 0h1m7 0h1m7 0h1m0 0h1M1 100.5h1m0 0h1m0 0h1m9 0h1m6 0h1m1 0h1m2 0h1m3 0h1m1 0h1m5 0h1m32 0h1m2 0h1m0 0h1M2 102.5h1m29 0h1M30 111.5h1m11 0h1m4 0h1m0 0h1m13 0h1M2 113.5h1m7 0h1m2 0h1m0 0h1m11 0h1m17 0h1m2 0h1m6 0h1m0 0h1m6 0h1m3 0h1M31 114.5h1M12 119.5h1m7 0h1m13 0h1m0 0h1m2 0h1m2 0h1m10 0h1M14 123.5h1M2 125.5h1m13 0h1m0 0h1m7 0h1m0 0h1m7 0h1m2 0h1m29 0h1M31 139.5h1m0 0h1m0 0h1m3 0h1m6 0h1m4 0h1m0 0h1m4 0h1M40 144.5h1M67 148.5h1M33 151.5h1m0 0h1M6 153.5h1m0 0h1m0 0h1m18 0h1m6 0h1m1 0h1m0 0h1M9 157.5h1m5 0h1m15 0h1m4 0h1m0 0h1m0 0h1m8 0h1m0 0h1m4 0h1m0 0h1m2 0h1m16 0h1m3 0h1M32 159.5h1m0 0h1m14 0h1m12 0h1m10 0h1M3 163.5h1m11 0h1m8 0h1m1 0h1M2 164.5h1m16 0h1m2 0h1m16 0h1m4 0h1m2 0h1m1 0h1m2 0h1m2 0h1m1 0h1m8 0h1m0 0h1m2 0h1M8 169.5h1m18 0h1m29 0h1m17 0h1m1 0h1m0 0h1M5 170.5h1m5 0h1m1 0h1m5 0h1m7 0h1m3 0h1m18 0h1m9 0h1m3 0h1M51 171.5h1M3 174.5h1m3 0h1m12 0h1M44 175.5h1m1 0h1M0 185.5h1m2 0h1m1 0h1m2 0h1m6 0h1m7 0h1m7 0h1m15 0h1m0 0h1m2 0h1m4 0h1m4 0h1m2 0h1m8 0h1m0 0h1m4 0h1M11 187.5h1m2 0h1m0 0h1m19 0h1m23 0h1m10 0h1m6 0h1M34 188.5h1M18 189.5h1m15 0h1m22 0h1m0 0h1m1 0h1m0 0h1m5 0h1M40 191.5h1M46 196.5h1m5 0h1m5 0h1m9 0h1m2 0h1m6 0h1M5 197.5h1m2 0h1m0 0h1m11 0h1m0 0h1m6 0h1m2 0h1m8 0h1m12 0h1m1 0h1m1 0h1m2 0h1m7 0h1m1 0h1m6 0h1M34 199.5h1M33 200.5h1M6 201.5h1m5 0h1m0 0h1m17 0h1M70 211.5h1M2 213.5h1m1 0h1m6 0h1m1 0h1m3 0h1m0 0h1m12 0h1m19 0h1m8 0h1"/><path stroke="#ea727e" d="M16 3.5h1m20 0h1m3 0h1m1 0h1m2 0h1m3 0h1m0 0h1m2 0h1m14 0h1M1 4.5h1m2 0h1m20 0h1m0 0h1m2 0h1m47 0h1M1 19.5h1m2 0h1m4 0h1m7 0h1m0 0h1m3 0h1m1 0h1m13 0h1m8 0h1m16 0h1M40 26.5h1m1 0h1M29 28.5h1M17 41.5h1m17 0h1m9 0h1m4 0h1m8 0h1m0 0h1m18 0h1M14 46.5h1m19 0h1m4 0h1m8 0h1m25 0h1M1 51.5h1m1 0h1m8 0h1m6 0h1m2 0h1m2 0h1m8 0h1m0 0h1m0 0h1m15 0h1m2 0h1M40 63.5h1M61 66.5h1m2 0h1M49 68.5h1M13 70.5h1m7 0h1m0 0h1m15 0h1M41 74.5h1m5 0h1m0 0h1m13 0h1m1 0h1m4 0h1M35 76.5h1m4 0h1m12 0h1M7 77.5h1m6 0h1m17 0h1M18 79.5h1m3 0h1m4 0h1m0 0h1m0 0h1m2 0h1m22 0h1m7 0h1m8 0h1m0 0h1M3 80.5h1m3 0h1m7 0h1m9 0h1m4 0h1m7 0h1m0 0h1m10 0h1m5 0h1m8 0h1m3 0h1m1 0h1m0 0h1M1 85.5h1m3 0h1m1 0h1m5 0h1m10 0h1m6 0h1m0 0h1m15 0h1m2 0h1m7 0h1m2 0h1m1 0h1m6 0h1m2 0h1m1 0h1M0 100.5h1m15 0h1m0 0h1m6 0h1m52 0h1M0 113.5h1m0 0h1m19 0h1m0 0h1m0 0h1m10 0h1m1 0h1m5 0h1m0 0h1m1 0h1m0 0h1m9 0h1m8 0h1m5 0h1m1 0h1M6 114.5h1m0 0h1M9 119.5h1m29 0h1m16 0h1M6 123.5h1M1 125.5h1m11 0h1m4 0h1m17 0h1M27 134.5h1m3 0h1m12 0h1m24 0h1m9 0h1M12 139.5h1m4 0h1m1 0h1m15 0h1m12 0h1m2 0h1m5 0h1m8 0h1m8 0h1M18 148.5h1M0 153.5h1m0 0h1m31 0h1m6 0h1m13 0h1m2 0h1m12 0h1m0 0h1m0 0h1m4 0h1M14 157.5h1m7 0h1m1 0h1m0 0h1m2 0h1m10 0h1m1 0h1m0 0h1m12 0h1m6 0h1m5 0h1m0 0h1m1 0h1M24 159.5h1M11 163.5h1m10 0h1m8 0h1M0 164.5h1m0 0h1m4 0h1m3 0h1m3 0h1m11 0h1m3 0h1m0 0h1m10 0h1m20 0h1m4 0h1m3 0h1M33 165.5h1M7 169.5h1m5 0h1m0 0h1m6 0h1m0 0h1m8 0h1m4 0h1m0 0h1m3 0h1m0 0h1m7 0h1m1 0h1m0 0h1m7 0h1m4 0h1M0 170.5h1m6 0h1m2 0h1m3 0h1m13 0h1m3 0h1m7 0h1m4 0h1m3 0h1m2 0h1m14 0h1m3 0h1m0 0h1m3 0h1M46 171.5h1M0 174.5h1m3 0h1m41 0h1M51 175.5h1M1 185.5h1m7 0h1m2 0h1m3 0h1m0 0h1m6 0h1m19 0h1m13 0h1m0 0h1m6 0h1m4 0h1M12 187.5h1m0 0h1m9 0h1m2 0h1m9 0h1m23 0h1m10 0h1m2 0h1m4 0h1M9 189.5h1m3 0h1m7 0h1m4 0h1m0 0h1m0 0h1m15 0h1m19 0h1m1 0h1m1 0h1M31 190.5h1M41 191.5h1m0 0h1M45 196.5h1m4 0h1m8 0h1m5 0h1M4 197.5h1m20 0h1m0 0h1m15 0h1m17 0h1m1 0h1m5 0h1m1 0h1m5 0h1M33 199.5h1m1 0h1m0 0h1M15 201.5h1m1 0h1M16 213.5h1m13 0h1m15 0h1m11 0h1"/><path stroke="#ed858b" d="M25 3.5h1m9 0h1m13 0h1m3 0h1m1 0h1m7 0h1m0 0h1M8 4.5h1m1 0h1m2 0h1m7 0h1m10 0h1m2 0h1m0 0h1m17 0h1m15 0h1M2 19.5h1m0 0h1m3 0h1m2 0h1m2 0h1m1 0h1m17 0h1m1 0h1m8 0h1m6 0h1m8 0h1m1 0h1M34 20.5h1m5 0h1m13 0h1m3 0h1m18 0h1m0 0h1M27 26.5h1m13 0h1m23 0h1m6 0h1M18 29.5h1M38 33.5h1M38 35.5h1M38 37.5h1m2 0h1M4 41.5h1m5 0h1m7 0h1m3 0h1m21 0h1m1 0h1m8 0h1m7 0h1m4 0h1m0 0h1m2 0h1m0 0h1m0 0h1M17 46.5h1m7 0h1m5 0h1m5 0h1m3 0h1m0 0h1m2 0h1m1 0h1m13 0h1m4 0h1m8 0h1m3 0h1M13 47.5h1m38 0h1M8 51.5h1m18 0h1m21 0h1m9 0h1m8 0h1m6 0h1M70 62.5h1M23 66.5h1m24 0h1m0 0h1m6 0h1m2 0h1m6 0h1m1 0h1m9 0h1M2 68.5h1m31 0h1m0 0h1m1 0h1M11 70.5h1m5 0h1m5 0h1m1 0h1m2 0h1m0 0h1m1 0h1m8 0h1m4 0h1m11 0h1m20 0h1M13 74.5h1m0 0h1m23 0h1m4 0h1m6 0h1m24 0h1M9 76.5h1m31 0h1m2 0h1m5 0h1m1 0h1m4 0h1m1 0h1m1 0h1m9 0h1m0 0h1m3 0h1M0 77.5h1m3 0h1m5 0h1m4 0h1m32 0h1m14 0h1M5 78.5h1m9 0h1m15 0h1m13 0h1m1 0h1m9 0h1m10 0h1m1 0h1M0 79.5h1m20 0h1m2 0h1m0 0h1m0 0h1m33 0h1m17 0h1M9 80.5h1m0 0h1m8 0h1m0 0h1m3 0h1m9 0h1m13 0h1m5 0h1M8 85.5h1m2 0h1m3 0h1m6 0h1m13 0h1m4 0h1m3 0h1m8 0h1m0 0h1m9 0h1m3 0h1M4 100.5h1m0 0h1m13 0h1m7 0h1m5 0h1m0 0h1m21 0h1m1 0h1m3 0h1m12 0h1m0 0h1M1 102.5h1m60 0h1M56 111.5h1m1 0h1M7 113.5h1m4 0h1m14 0h1m11 0h1m0 0h1m8 0h1m3 0h1m4 0h1m1 0h1m7 0h1m7 0h1M46 114.5h1M66 115.5h1M3 119.5h1m0 0h1m6 0h1m7 0h1m3 0h1m4 0h1m0 0h1m10 0h1m8 0h1m7 0h1m10 0h1M10 123.5h1m9 0h1m5 0h1M5 125.5h1m8 0h1m12 0h1m10 0h1m2 0h1m4 0h1m19 0h1m4 0h1M6 139.5h1m0 0h1m5 0h1m8 0h1m4 0h1m6 0h1m10 0h1m6 0h1m12 0h1m2 0h1M1 148.5h1m56 0h1m2 0h1m0 0h1m8 0h1M16 151.5h1m19 0h1M5 153.5h1m5 0h1m1 0h1m9 0h1m0 0h1m3 0h1m3 0h1m13 0h1m8 0h1m4 0h1m0 0h1m4 0h1m0 0h1m6 0h1M39 156.5h1M0 157.5h1m7 0h1m8 0h1m16 0h1m9 0h1m4 0h1m22 0h1m3 0h1M14 159.5h1m3 0h1m2 0h1m24 0h1m7 0h1m4 0h1m18 0h1M10 163.5h1m3 0h1m6 0h1m8 0h1m39 0h1M9 164.5h1m5 0h1m7 0h1m1 0h1m1 0h1m10 0h1m2 0h1m12 0h1m14 0h1m9 0h1M35 165.5h1m3 0h1m2 0h1M0 169.5h1m5 0h1m11 0h1m4 0h1m0 0h1m1 0h1m2 0h1m3 0h1m4 0h1m0 0h1m6 0h1m2 0h1m6 0h1m2 0h1m8 0h1m4 0h1m5 0h1M4 170.5h1m3 0h1m6 0h1m6 0h1m0 0h1m0 0h1m0 0h1m0 0h1m20 0h1m8 0h1m0 0h1M8 171.5h1m2 0h1m1 0h1m7 0h1m27 0h1M2 174.5h1m5 0h1m4 0h1m11 0h1m3 0h1m0 0h1M8 175.5h1m7 0h1m12 0h1m13 0h1M4 185.5h1m13 0h1m1 0h1m0 0h1m11 0h1m11 0h1m4 0h1m2 0h1m9 0h1m3 0h1M10 187.5h1m5 0h1m11 0h1m0 0h1m1 0h1m15 0h1m15 0h1m0 0h1m0 0h1m3 0h1m8 0h1M7 189.5h1m4 0h1m2 0h1m8 0h1m7 0h1m23 0h1m5 0h1m7 0h1m4 0h1M12 192.5h1M33 196.5h1m13 0h1m5 0h1m1 0h1m0 0h1m18 0h1m3 0h1M12 197.5h1m4 0h1m6 0h1m11 0h1m11 0h1m8 0h1m6 0h1m14 0h1M5 201.5h1m1 0h1m0 0h1m0 0h1m1 0h1m9 0h1m6 0h1m0 0h1M0 213.5h1m5 0h1m0 0h1m1 0h1m18 0h1m47 0h1"/><path stroke="#e3435d" d="M36 3.5h1M40 19.5h1M0 28.5h1m6 0h1m3 0h1m9 0h1m1 0h1m20 0h1m6 0h1m1 0h1m7 0h1m0 0h1m13 0h1M51 41.5h1M0 62.5h1m0 0h1m0 0h1m21 0h1m4 0h1m0 0h1m13 0h1m11 0h1m15 0h1m2 0h1M35 79.5h1m2 0h1m1 0h1m4 0h1m28 0h1M59 80.5h1M47 85.5h1M9 114.5h1m6 0h1m13 0h1m11 0h1m2 0h1m1 0h1m13 0h1m9 0h1m2 0h1m1 0h1M0 134.5h1m0 0h1m4 0h1m12 0h1m0 0h1m11 0h1m4 0h1m5 0h1m1 0h1m2 0h1m2 0h1m0 0h1m9 0h1m7 0h1m4 0h1M1 157.5h1m9 0h1m38 0h1m0 0h1m23 0h1M21 164.5h1m38 0h1M57 187.5h1M38 197.5h1m6 0h1m17 0h1"/><path stroke="#e96977" d="M44 3.5h1m2 0h1m0 0h1m11 0h1m5 0h1m7 0h1M9 4.5h1m17 0h1M8 19.5h1m25 0h1m4 0h1m5 0h1m6 0h1m2 0h1m7 0h1m9 0h1m0 0h1m4 0h1M38 26.5h1M38 41.5h1m2 0h1m1 0h1m3 0h1m0 0h1m3 0h1m9 0h1m2 0h1m4 0h1m0 0h1m6 0h1M27 46.5h1m40 0h1m8 0h1M9 51.5h1m1 0h1m4 0h1m4 0h1m7 0h1m2 0h1m4 0h1m23 0h1M31 62.5h1m11 0h1m7 0h1m15 0h1m11 0h1M43 66.5h1m35 0h1M20 70.5h1m5 0h1m6 0h1M51 74.5h1m7 0h1m1 0h1m16 0h1M38 76.5h1m7 0h1m2 0h1m18 0h1M11 77.5h1m4 0h1m1 0h1m2 0h1M0 78.5h1M9 79.5h1m0 0h1m28 0h1m7 0h1m16 0h1M0 80.5h1m1 0h1m8 0h1m1 0h1m2 0h1m0 0h1m0 0h1m4 0h1m3 0h1m4 0h1m28 0h1m8 0h1m6 0h1M3 85.5h1m33 0h1m8 0h1m10 0h1m5 0h1m4 0h1m1 0h1m4 0h1m2 0h1m0 0h1M14 100.5h1m3 0h1m2 0h1m6 0h1m1 0h1m1 0h1M28 111.5h1M15 113.5h1m15 0h1m1 0h1m25 0h1m4 0h1m5 0h1m1 0h1m1 0h1M1 114.5h1m0 0h1m1 0h1m8 0h1m0 0h1m3 0h1m0 0h1m8 0h1m0 0h1m23 0h1m8 0h1m15 0h1M9 125.5h1m2 0h1m16 0h1m12 0h1M13 134.5h1m25 0h1m7 0h1m1 0h1m22 0h1m1 0h1M1 139.5h1m7 0h1m19 0h1m13 0h1m29 0h1M52 148.5h1M38 151.5h1M35 153.5h1m5 0h1M6 157.5h1m6 0h1m2 0h1m15 0h1m0 0h1m22 0h1m1 0h1m7 0h1m0 0h1m11 0h1M20 163.5h1m11 0h1M3 164.5h1m4 0h1m7 0h1m7 0h1m18 0h1m17 0h1m15 0h1M10 169.5h1m4 0h1m0 0h1m2 0h1m0 0h1m13 0h1m10 0h1m5 0h1m8 0h1m2 0h1m3 0h1m6 0h1M1 170.5h1m14 0h1m3 0h1m13 0h1m40 0h1m3 0h1M5 174.5h1m21 0h1M73 175.5h1M7 185.5h1m5 0h1m5 0h1m2 0h1m2 0h1m0 0h1m0 0h1m40 0h1m7 0h1M2 187.5h1m5 0h1m16 0h1m32 0h1m2 0h1m6 0h1M16 189.5h1m0 0h1m27 0h1m17 0h1M35 196.5h1m18 0h1m7 0h1m1 0h1M1 197.5h1m4 0h1m4 0h1m3 0h1m7 0h1m6 0h1m12 0h1m3 0h1m1 0h1m1 0h1m20 0h1M27 201.5h1"/><path stroke="#e6566a" d="M45 3.5h1m22 0h1M11 19.5h1m17 0h1m7 0h1m10 0h1m7 0h1m9 0h1m1 0h1m3 0h1m2 0h1m1 0h1m0 0h1M4 28.5h1m1 0h1m9 0h1m11 0h1m2 0h1m37 0h1m8 0h1M46 46.5h1m10 0h1M23 51.5h1m0 0h1m44 0h1M11 62.5h1m2 0h1m23 0h1m13 0h1m7 0h1m0 0h1m4 0h1M38 66.5h1m1 0h1M58 74.5h1M39 76.5h1M43 79.5h1m9 0h1m5 0h1m19 0h1M4 80.5h1m9 0h1m14 0h1m1 0h1m30 0h1m4 0h1m0 0h1m7 0h1M2 85.5h1m1 0h1m33 0h1m0 0h1m12 0h1M7 100.5h1m7 0h1M30 113.5h1M0 114.5h1m23 0h1m0 0h1m6 0h1m1 0h1m0 0h1m7 0h1m5 0h1m1 0h1m8 0h1m4 0h1m1 0h1m1 0h1m7 0h1M42 119.5h1M22 125.5h1m10 0h1m1 0h1M4 134.5h1m0 0h1m1 0h1m1 0h1m0 0h1m5 0h1m23 0h1m1 0h1m11 0h1m0 0h1m2 0h1m4 0h1m7 0h1m5 0h1M15 139.5h1m38 0h1M39 153.5h1m12 0h1M2 157.5h1m16 0h1m0 0h1m0 0h1m7 0h1m13 0h1m16 0h1M5 163.5h1m3 0h1M4 164.5h1m0 0h1m42 0h1m2 0h1m1 0h1m10 0h1m8 0h1m1 0h1m0 0h1M9 169.5h1m25 0h1M12 170.5h1m8 0h1m7 0h1m5 0h1m0 0h1M36 185.5h1M0 187.5h1m52 0h1m1 0h1M37 196.5h1M39 197.5h1m27 0h1M15 213.5h1m6 0h1"/><path stroke="#e44c63" d="M72 3.5h1M49 19.5h1M1 28.5h1m7 0h1m5 0h1m1 0h1m6 0h1m0 0h1m1 0h1m15 0h1m14 0h1m11 0h1M6 62.5h1m6 0h1m11 0h1m38 0h1m0 0h1m8 0h1M36 70.5h1M79 74.5h1M42 76.5h1M16 79.5h1m2 0h1m11 0h1m16 0h1m1 0h1m3 0h1m2 0h1m10 0h1m7 0h1M6 80.5h1m5 0h1m8 0h1m36 0h1m1 0h1M28 85.5h1M3 114.5h1m17 0h1m0 0h1m10 0h1m2 0h1m3 0h1m9 0h1m6 0h1m21 0h1M37 119.5h1M2 134.5h1m8 0h1m13 0h1m3 0h1m4 0h1m1 0h1m9 0h1m12 0h1m5 0h1m7 0h1M41 151.5h1M38 153.5h1M3 157.5h1m0 0h1m0 0h1m1 0h1m15 0h1m6 0h1m32 0h1m9 0h1M32 164.5h1M4 169.5h1m23 0h1m25 0h1M2 185.5h1m7 0h1m17 0h1m0 0h1M36 196.5h1M53 197.5h1"/><path stroke="#66b4f5" d="M2 8.5h1m5 0h1m5 0h1m10 0h1m0 0h1m3 0h1m0 0h1m12 0h1m19 0h1m9 0h1m0 0h1m2 0h1M51 9.5h1m15 0h1M40 10.5h1m1 0h1M11 12.5h1m1 0h1m3 0h1m2 0h1m13 0h1m6 0h1m0 0h1m9 0h1M3 17.5h1m6 0h1m12 0h1m0 0h1m0 0h1m21 0h1M39 18.5h1M0 21.5h1m3 0h1m20 0h1m2 0h1m3 0h1M0 36.5h1m1 0h1m8 0h1m12 0h1m3 0h1m0 0h1m1 0h1m0 0h1m45 0h1M2 42.5h1m3 0h1M6 44.5h1m4 0h1m0 0h1m3 0h1m4 0h1m1 0h1m1 0h1m4 0h1m6 0h1m22 0h1m7 0h1M56 54.5h1m4 0h1m2 0h1m0 0h1M41 55.5h1m2 0h1m1 0h1m1 0h1m15 0h1m14 0h1M44 56.5h1m24 0h1m8 0h1M2 64.5h1m6 0h1m0 0h1m5 0h1m2 0h1m7 0h1m9 0h1m9 0h1m0 0h1m6 0h1m9 0h1m9 0h1M16 69.5h1m47 0h1m13 0h1M27 83.5h1m30 0h1m20 0h1M10 86.5h1M9 101.5h1m8 0h1m1 0h1m15 0h1m2 0h1m3 0h1m1 0h1m1 0h1M11 103.5h1m6 0h1m0 0h1m4 0h1m29 0h1m19 0h1M14 109.5h1m21 0h1M39 121.5h1m2 0h1m11 0h1m24 0h1M36 122.5h1m0 0h1m14 0h1m5 0h1M33 138.5h1m8 0h1m5 0h1m0 0h1m12 0h1m1 0h1m5 0h1m6 0h1M6 143.5h1m65 0h1M2 158.5h1m1 0h1m6 0h1m12 0h1m4 0h1m3 0h1m4 0h1m5 0h1m3 0h1M0 160.5h1m2 0h1m1 0h1m3 0h1m4 0h1m1 0h1m29 0h1m4 0h1m1 0h1m2 0h1m8 0h1m12 0h1M0 178.5h1m3 0h1m6 0h1m10 0h1m8 0h1m5 0h1m8 0h1m4 0h1m4 0h1m8 0h1m8 0h1M0 181.5h1m1 0h1m31 0h1m9 0h1m6 0h1m18 0h1m0 0h1M30 183.5h1m0 0h1m14 0h1m17 0h1m4 0h1m7 0h1"/><path stroke="#5daff6" d="M5 8.5h1m47 0h1m11 0h1m6 0h1M15 9.5h1m0 0h1m1 0h1m33 0h1M38 10.5h1m2 0h1M23 12.5h1m2 0h1m0 0h1m9 0h1m12 0h1m4 0h1M5 17.5h1m3 0h1m2 0h1m2 0h1m2 0h1m0 0h1m7 0h1m1 0h1m1 0h1m29 0h1m16 0h1M29 21.5h1m25 0h1M15 36.5h1m5 0h1m4 0h1m10 0h1m1 0h1m6 0h1m6 0h1m9 0h1m7 0h1m1 0h1m0 0h1M79 38.5h1M45 44.5h1m10 0h1M11 54.5h1m1 0h1m21 0h1m8 0h1m18 0h1m2 0h1m3 0h1m2 0h1m2 0h1M36 55.5h1m32 0h1M1 64.5h1m3 0h1m5 0h1m0 0h1m0 0h1m3 0h1m2 0h1m0 0h1m23 0h1m7 0h1m14 0h1m3 0h1m6 0h1M43 69.5h1m1 0h1m0 0h1m2 0h1m16 0h1m1 0h1M38 72.5h1M5 101.5h1m2 0h1m6 0h1m0 0h1m4 0h1m0 0h1m12 0h1m10 0h1m7 0h1m4 0h1m17 0h1M2 103.5h1m0 0h1m1 0h1m19 0h1m21 0h1m5 0h1M6 122.5h1M11 127.5h1M52 138.5h1m3 0h1M6 158.5h1m27 0h1m0 0h1m0 0h1m0 0h1m13 0h1m0 0h1m3 0h1m5 0h1m13 0h1m1 0h1M2 160.5h1m14 0h1m1 0h1m29 0h1m16 0h1m0 0h1m1 0h1m5 0h1M1 178.5h1m8 0h1m22 0h1m0 0h1m23 0h1m0 0h1m2 0h1m14 0h1M4 181.5h1m6 0h1m9 0h1m2 0h1m10 0h1m7 0h1m1 0h1m0 0h1m1 0h1m6 0h1m2 0h1m5 0h1M27 183.5h1m31 0h1m18 0h1"/><path stroke="#42a2fa" d="M7 8.5h1m1 0h1m2 0h1m26 0h1m0 0h1m9 0h1m4 0h1m4 0h1m6 0h1m0 0h1m1 0h1M1 12.5h1m31 0h1m9 0h1m2 0h1m14 0h1m0 0h1m3 0h1m0 0h1m4 0h1m5 0h1m0 0h1M33 17.5h1m10 0h1m15 0h1m13 0h1m2 0h1M19 36.5h1m23 0h1m6 0h1m3 0h1M66 44.5h1M39 54.5h1m0 0h1m11 0h1M40 55.5h1m21 0h1M4 64.5h1m19 0h1m9 0h1m6 0h1m4 0h1m2 0h1m2 0h1M10 101.5h1m27 0h1m14 0h1m9 0h1m3 0h1m4 0h1M26 103.5h1m1 0h1m2 0h1m5 0h1M39 122.5h1M13 158.5h1M1 160.5h1m8 0h1m0 0h1m13 0h1m11 0h1m7 0h1m9 0h1m7 0h1m0 0h1M6 178.5h1m1 0h1m9 0h1m47 0h1m0 0h1m5 0h1m2 0h1M23 181.5h1"/><path stroke="#54abf8" d="M36 8.5h1m11 0h1m0 0h1m2 0h1m4 0h1m0 0h1m0 0h1m3 0h1m15 0h1M44 9.5h1M39 10.5h1M3 12.5h1m14 0h1m2 0h1m0 0h1m2 0h1m12 0h1m32 0h1m1 0h1m1 0h1M11 17.5h1m4 0h1m5 0h1m7 0h1m10 0h1m11 0h1m2 0h1M42 18.5h1M1 21.5h1m15 0h1m29 0h1M4 36.5h1m8 0h1m6 0h1m14 0h1m4 0h1m8 0h1m5 0h1m0 0h1m2 0h1m4 0h1m2 0h1m4 0h1m6 0h1M13 44.5h1m37 0h1m10 0h1M5 54.5h1m2 0h1m34 0h1m1 0h1m8 0h1m3 0h1m3 0h1m4 0h1m1 0h1m1 0h1M50 55.5h1m5 0h1m19 0h1M39 56.5h1m8 0h1m0 0h1M0 64.5h1m7 0h1m16 0h1m16 0h1m15 0h1m0 0h1m0 0h1m2 0h1m2 0h1m4 0h1M59 69.5h1m15 0h1m3 0h1M7 101.5h1m23 0h1m12 0h1m5 0h1m0 0h1m10 0h1m5 0h1m7 0h1M15 103.5h1m0 0h1m0 0h1m4 0h1m4 0h1m15 0h1m27 0h1M38 122.5h1m2 0h1M3 158.5h1m5 0h1m5 0h1m4 0h1m34 0h1M6 160.5h1m8 0h1m5 0h1m12 0h1m0 0h1m0 0h1m3 0h1m6 0h1m23 0h1m0 0h1M2 178.5h1m2 0h1m1 0h1m1 0h1m2 0h1m4 0h1m3 0h1m6 0h1m7 0h1m11 0h1m4 0h1m7 0h1m1 0h1m0 0h1m10 0h1m3 0h1M31 181.5h1m0 0h1M6 183.5h1m18 0h1m9 0h1"/><path stroke="#2794fe" d="M38 8.5h1m6 0h1m15 0h1M60 12.5h1M55 17.5h1m1 0h1m1 0h1m4 0h1m10 0h1m3 0h1M25 36.5h1m8 0h1m9 0h1m2 0h1M60 101.5h1m0 0h1M32 160.5h1m19 0h1m20 0h1M45 178.5h1m23 0h1"/><path stroke="#1e90ff" d="M41 8.5h1M39 12.5h1m4 0h1m4 0h1m7 0h1M38 17.5h1m37 0h1M41 36.5h1m27 0h1M41 101.5h1M9 103.5h1M33 160.5h1M43 178.5h1"/><path stroke="#399dfb" d="M42 8.5h1m4 0h1m6 0h1m7 0h1m14 0h1M8 12.5h1m0 0h1m38 0h1m5 0h1m4 0h1m4 0h1m0 0h1m3 0h1m0 0h1m3 0h1m2 0h1M34 17.5h1m1 0h1m0 0h1m5 0h1m1 0h1m0 0h1m15 0h1m6 0h1m3 0h1M14 36.5h1m1 0h1m5 0h1m22 0h1m15 0h1m6 0h1m1 0h1M41 44.5h1m0 0h1m0 0h1M38 54.5h1m3 0h1m7 0h1m6 0h1M39 64.5h1M40 101.5h1m1 0h1m6 0h1m8 0h1m10 0h1M8 103.5h1m25 0h1m21 0h1M26 158.5h1m3 0h1M12 160.5h1m17 0h1m7 0h1M13 178.5h1m33 0h1m7 0h1m12 0h1M36 181.5h1"/><path stroke="#3099fd" d="M66 8.5h1M2 12.5h1m42 0h1m5 0h1m4 0h1m1 0h1m4 0h1m4 0h1M35 17.5h1m13 0h1m0 0h1m7 0h1m8 0h1m0 0h1m1 0h1M42 36.5h1m5 0h1m9 0h1m3 0h1m3 0h1m9 0h1m0 0h1M46 54.5h1M28 160.5h1M27 178.5h1m29 0h1m12 0h1"/><path stroke="#4ba6f9" d="M71 8.5h1M33 9.5h1M4 12.5h1m7 0h1m11 0h1m3 0h1m0 0h1m5 0h1m11 0h1m5 0h1m22 0h1M6 17.5h1m6 0h1m6 0h1m18 0h1m0 0h1m1 0h1m5 0h1m2 0h1m0 0h1m1 0h1m8 0h1m7 0h1M8 21.5h1M1 36.5h1m8 0h1m6 0h1m0 0h1m4 0h1m12 0h1m1 0h1m12 0h1m5 0h1m7 0h1M36 54.5h1m0 0h1M63 55.5h1M15 64.5h1m7 0h1m19 0h1m17 0h1M48 69.5h1m27 0h1M6 101.5h1m20 0h1m5 0h1m3 0h1m18 0h1m7 0h1m0 0h1m0 0h1m3 0h1m0 0h1M14 103.5h1m8 0h1m6 0h1m30 0h1m17 0h1M14 158.5h1m28 0h1m24 0h1M7 160.5h1m5 0h1m8 0h1m0 0h1m0 0h1m1 0h1m2 0h1m1 0h1m7 0h1m1 0h1m0 0h1m14 0h1M14 178.5h1m5 0h1m2 0h1m0 0h1m19 0h1m4 0h1m0 0h1m1 0h1m1 0h1m16 0h1m0 0h1m5 0h1M33 181.5h1m15 0h1m19 0h1M23 183.5h1"/><path stroke="#e23a56" d="M61 19.5h1m9 0h1M3 28.5h1m22 0h1m3 0h1m2 0h1m1 0h1m1 0h1m2 0h1m7 0h1m1 0h1m3 0h1m1 0h1m2 0h1m12 0h1m1 0h1m2 0h1m1 0h1M5 62.5h1m13 0h1m0 0h1m1 0h1m0 0h1m4 0h1m8 0h1m2 0h1m5 0h1m3 0h1m2 0h1m3 0h1m5 0h1m12 0h1m0 0h1M6 100.5h1M10 114.5h1m0 0h1m5 0h1m19 0h1m16 0h1m0 0h1m7 0h1m9 0h1M15 134.5h1m5 0h1m0 0h1m0 0h1m6 0h1m2 0h1m1 0h1m2 0h1m11 0h1m6 0h1m2 0h1m15 0h1m1 0h1M45 157.5h1m6 0h1M59 164.5h1M33 170.5h1"/><path stroke="#df2749" d="M2 28.5h1m10 0h1m4 0h1m3 0h1m13 0h1m1 0h1m2 0h1m3 0h1m1 0h1m1 0h1m14 0h1m0 0h1m7 0h1m1 0h1M7 62.5h1m0 0h1m6 0h1m23 0h1m7 0h1m6 0h1M56 79.5h1M38 114.5h1m0 0h1m8 0h1m21 0h1M26 134.5h1m34 0h1"/><path stroke="#e03050" d="M10 28.5h1m9 0h1m25 0h1m16 0h1m3 0h1m3 0h1M3 62.5h1m12 0h1m0 0h1m9 0h1m4 0h1m1 0h1m1 0h1m4 0h1m0 0h1m2 0h1m2 0h1m6 0h1m12 0h1M42 79.5h1M41 80.5h1M35 113.5h1M52 114.5h1m5 0h1m9 0h1M3 134.5h1m13 0h1m35 0h1m2 0h1m10 0h1M10 157.5h1M37 170.5h1"/><path stroke="#dc143c" d="M14 28.5h1m17 0h1m1 0h1m7 0h1m12 0h1m1 0h1m8 0h1m1 0h1M12 62.5h1m20 0h1m1 0h1m33 0h1m8 0h1M15 114.5h1M35 157.5h1"/><path stroke="#dd1d43" d="M39 28.5h1m20 0h1M4 62.5h1m5 0h1m7 0h1m2 0h1m4 0h1m32 0h1m2 0h1m10 0h1M24 134.5h1"/></g></svg><svg x="2.3" y="275.6" width="917.30" height="427.90" viewBox="0 0 80 214" preserveAspectRatio="none"><path d="M1 0V214M2 0V214M3 0V214M4 0V214M5 0V214M6 0V214M7 0V214M8 0V214M9 0V214M10 0V214M11 0V214M12 0V214M13 0V214M14 0V214M15 0V214M16 0V214M17 0V214M18 0V214M19 0V214M20 0V214M21 0V214M22 0V214M23 0V214M24 0V214M25 0V214M26 0V214M27 0V214M28 0V214M29 0V214M30 0V214M31 0V214M32 0V214M33 0V214M34 0V214M35 0V214M36 0V214M37 0V214M38 0V214M39 0V214M40 0V214M41 0V214M42 0V214M43 0V214M44 0V214M45 0V214M46 0V214M47 0V214M48 0V214M49 0V214M50 0V214M51 0V214M52 0V214M53 0V214M54 0V214M55 0V214M56 0V214M57 0V214M58 0V214M59 0V214M60 0V214M61 0V214M62 0V214M63 0V214M64 0V214M65 0V214M66 0V214M67 0V214M68 0V214M69 0V214M70 0V214M71 0V214M72 0V214M73 0V214M74 0V214M75 0V214M76 0V214M77 0V214M78 0V214M79 0V214" stroke="#fff" stroke-opacity="0.3" stroke-width="0.04"/><path d="M0 1H80M0 2H80M0 3H80M0 4H80M0 5H80M0 6H80M0 7H80M0 8H80M0 9H80M0 10H80M0 11H80M0 12H80M0 13H80M0 14H80M0 15H80M0 16H80M0 17H80M0 18H80M0 19H80M0 20H80M0 21H80M0 22H80M0 23H80M0 24H80M0 25H80M0 26H80M0 27H80M0 28H80M0 29H80M0 30H80M0 31H80M0 32H80M0 33H80M0 34H80M0 35H80M0 36H80M0 37H80M0 38H80M0 39H80M0 40H80M0 41H80M0 42H80M0 43H80M0 44H80M0 45H80M0 46H80M0 47H80M0 48H80M0 49H80M0 50H80M0 51H80M0 52H80M0 53H80M0 54H80M0 55H80M0 56H80M0 57H80M0 58H80M0 59H80M0 60H80M0 61H80M0 62H80M0 63H80M0 64H80M0 65H80M0 66H80M0 67H80M0 68H80M0 69H80M0 70H80M0 71H80M0 72H80M0 73H80M0 74H80M0 75H80M0 76H80M0 77H80M0 78H80M0 79H80M0 80H80M0 81H80M0 82H80M0 83H80M0 84H80M0 85H80M0 86H80M0 87H80M0 88H80M0 89H80M0 90H80M0 91H80M0 92H80M0 93H80M0 94H80M0 95H80M0 96H80M0 97H80M0 98H80M0 99H80M0 100H80M0 101H80M0 102H80M0 103H80M0 104H80M0 105H80M0 106H80M0 107H80M0 108H80M0 109H80M0 110H80M0 111H80M0 112H80M0 113H80M0 114H80M0 115H80M0 116H80M0 117H80M0 118H80M0 119H80M0 120H80M0 121H80M0 122H80M0 123H80M0 124H80M0 125H80M0 126H80M0 127H80M0 128H80M0 129H80M0 130H80M0 131H80M0 132H80M0 133H80M0 134H80M0 135H80M0 136H80M0 137H80M0 138H80M0 139H80M0 140H80M0 141H80M0 142H80M0 143H80M0 144H80M0 145H80M0 146H80M0 147H80M0 148H80M0 149H80M0 150H80M0 151H80M0 152H80M0 153H80M0 154H80M0 155H80M0 156H80M0 157H80M0 158H80M0 159H80M0 160H80M0 161H80M0 162H80M0 163H80M0 164H80M0 165H80M0 166H80M0 167H80M0 168H80M0 169H80M0 170H80M0 171H80M0 172H80M0 173H80M0 174H80M0 175H80M0 176H80M0 177H80M0 178H80M0 179H80M0 180H80M0 181H80M0 182H80M0 183H80M0 184H80M0 185H80M0 186H80M0 187H80M0 188H80M0 189H80M0 190H80M0 191H80M0 192H80M0 193H80M0 194H80M0 195H80M0 196H80M0 197H80M0 198H80M0 199H80M0 200H80M0 201H80M0 202H80M0 203H80M0 204H80M0 205H80M0 206H80M0 207H80M0 208H80M0 209H80M0 210H80M0 211H80M0 212H80M0 213H80" stroke="#fff" stroke-opacity="0.12" stroke-width="0.2"/></svg><defs><linearGradient id="cb" x1="0" y1="0" x2="0" y2="1"><stop offset="0.000" stop-color="#dc143c"/><stop offset="0.050" stop-color="#e02c4c"/><stop offset="0.100" stop-color="#e3435d"/><stop offset="0.150" stop-color="#e65a6d"/><stop offset="0.200" stop-color="#ea727e"/><stop offset="0.250" stop-color="#ee8a8e"/><stop offset="0.300" stop-color="#f1a19e"/><stop offset="0.350" stop-color="#f4b8af"/><stop offset="0.400" stop-color="#f8d0bf"/><stop offset="0.450" stop-color="#fce8d0"/><stop offset="0.500" stop-color="#ffffe0"/><stop offset="0.550" stop-color="#e8f4e3"/><stop offset="0.600" stop-color="#d2e9e6"/><stop offset="0.650" stop-color="#bcdee9"/><stop offset="0.700" stop-color="#a5d3ec"/><stop offset="0.750" stop-color="#8ec8f0"/><stop offset="0.800" stop-color="#78bcf3"/><stop offset="0.850" stop-color="#62b1f6"/><stop offset="0.900" stop-color="#4ba6f9"/><stop offset="0.950" stop-color="#359bfc"/><stop offset="1.000" stop-color="#1e90ff"/></linearGradient></defs><rect x="934.8" y="275.8" width="29.8" height="442.4" fill="url(#cb)"/><rect x="934.8" y="279.97" width="29.8" height="0.5" fill="#fff" fill-opacity="0.12"/><rect x="934.8" y="284.40" width="29.8" height="0.5" fill="#fff" fill-opacity="0.12"/><rect x="934.8" y="288.82" width="29.8" height="0.5" fill="#fff" fill-opacity="0.12"/><rect x="934.8" y="293.25" width="29.8" height="0.5" fill="#fff" fill-opacity="0.12"/><rect x="934.8" y="297.67" width="29.8" height="0.5" fill="#fff" fill-opacity="0.12"/><rect x="934.8" y="302.09" width="29.8" height="0.5" fill="#fff" fill-opacity="0.12"/><rect x="934.8" y="306.52" width="29.8" height="0.5" fill="#fff" fill-opacity="0.12"/><rect x="934.8" y="310.94" width="29.8" height="0.5" fill="#fff" fill-opacity="0.12"/><rect x="934.8" y="315.37" width="29.8" height="0.5" fill="#fff" fill-opacity="0.12"/><rect x="934.8" y="319.79" width="29.8" height="0.5" fill="#fff" fill-opacity="0.12"/><rect x="934.8" y="324.21" width="29.8" height="0.5" fill="#fff" fill-opacity="0.12"/><rect x="934.8" y="328.64" width="29.8" height="0.5" fill="#fff" fill-opacity="0.12"/><rect x="934.8" y="333.06" width="29.8" height="0.5" fill="#fff" fill-opacity="0.12"/><rect x="934.8" y="337.49" width="29.8" height="0.5" fill="#fff" fill-opacity="0.12"/><rect x="934.8" y="341.91" width="29.8" height="0.5" fill="#fff" fill-opacity="0.12"/><rect x="934.8" y="346.33" width="29.8" height="0.5" fill="#fff" fill-opacity="0.12"/><rect x="934.8" y="350.76" width="29.8" height="0.5" fill="#fff" fill-opacity="0.12"/><rect x="934.8" y="355.18" width="29.8" height="0.5" fill="#fff" fill-opacity="0.12"/><rect x="934.8" y="359.61" width="29.8" height="0.5" fill="#fff" fill-opacity="0.12"/><rect x="934.8" y="364.03" width="29.8" height="0.5" fill="#fff" fill-opacity="0.12"/><rect x="934.8" y="368.45" width="29.8" height="0.5" fill="#fff" fill-opacity="0.12"/><rect x="934.8" y="372.88" width="29.8" height="0.5" fill="#fff" fill-opacity="0.12"/><rect x="934.8" y="377.30" width="29.8" height="0.5" fill="#fff" fill-opacity="0.12"/><rect x="934.8" y="381.73" width="29.8" height="0.5" fill="#fff" fill-opacity="0.12"/><rect x="934.8" y="386.15" width="29.8" height="0.5" fill="#fff" fill-opacity="0.12"/><rect x="934.8" y="390.57" width="29.8" height="0.5" fill="#fff" fill-opacity="0.12"/><rect x="934.8" y="395.00" width="29.8" height="0.5" fill="#fff" fill-opacity="0.12"/><rect x="934.8" y="399.42" width="29.8" height="0.5" fill="#fff" fill-opacity="0.12"/><rect x="934.8" y="403.85" width="29.8" height="0.5" fill="#fff" fill-opacity="0.12"/><rect x="934.8" y="408.27" width="29.8" height="0.5" fill="#fff" fill-opacity="0.12"/><rect x="934.8" y="412.69" width="29.8" height="0.5" fill="#fff" fill-opacity="0.12"/><rect x="934.8" y="417.12" width="29.8" height="0.5" fill="#fff" fill-opacity="0.12"/><rect x="934.8" y="421.54" width="29.8" height="0.5" fill="#fff" fill-opacity="0.12"/><rect x="934.8" y="425.97" width="29.8" height="0.5" fill="#fff" fill-opacity="0.12"/><rect x="934.8" y="430.39" width="29.8" height="0.5" fill="#fff" fill-opacity="0.12"/><rect x="934.8" y="434.81" width="29.8" height="0.5" fill="#fff" fill-opacity="0.12"/><rect x="934.8" y="439.24" width="29.8" height="0.5" fill="#fff" fill-opacity="0.12"/><rect x="934.8" y="443.66" width="29.8" height="0.5" fill="#fff" fill-opacity="0.12"/><rect x="934.8" y="448.09" width="29.8" height="0.5" fill="#fff" fill-opacity="0.12"/><rect x="934.8" y="452.51" width="29.8" height="0.5" fill="#fff" fill-opacity="0.12"/><rect x="934.8" y="456.93" width="29.8" height="0.5" fill="#fff" fill-opacity="0.12"/><rect x="934.8" y="461.36" width="29.8" height="0.5" fill="#fff" fill-opacity="0.12"/><rect x="934.8" y="465.78" width="29.8" height="0.5" fill="#fff" fill-opacity="0.12"/><rect x="934.8" y="470.21" width="29.8" height="0.5" fill="#fff" fill-opacity="0.12"/><rect x="934.8" y="474.63" width="29.8" height="0.5" fill="#fff" fill-opacity="0.12"/><rect x="934.8" y="479.05" width="29.8" height="0.5" fill="#fff" fill-opacity="0.12"/><rect x="934.8" y="483.48" width="29.8" height="0.5" fill="#fff" fill-opacity="0.12"/><rect x="934.8" y="487.90" width="29.8" height="0.5" fill="#fff" fill-opacity="0.12"/><rect x="934.8" y="492.33" width="29.8" height="0.5" fill="#fff" fill-opacity="0.12"/><rect x="934.8" y="496.75" width="29.8" height="0.5" fill="#fff" fill-opacity="0.12"/><rect x="934.8" y="501.17" width="29.8" height="0.5" fill="#fff" fill-opacity="0.12"/><rect x="934.8" y="505.60" width="29.8" height="0.5" fill="#fff" fill-opacity="0.12"/><rect x="934.8" y="510.02" width="29.8" height="0.5" fill="#fff" fill-opacity="0.12"/><rect x="934.8" y="514.45" width="29.8" height="0.5" fill="#fff" fill-opacity="0.12"/><rect x="934.8" y="518.87" width="29.8" height="0.5" fill="#fff" fill-opacity="0.12"/><rect x="934.8" y="523.29" width="29.8" height="0.5" fill="#fff" fill-opacity="0.12"/><rect x="934.8" y="527.72" width="29.8" height="0.5" fill="#fff" fill-opacity="0.12"/><rect x="934.8" y="532.14" width="29.8" height="0.5" fill="#fff" fill-opacity="0.12"/><rect x="934.8" y="536.57" width="29.8" height="0.5" fill="#fff" fill-opacity="0.12"/><rect x="934.8" y="540.99" width="29.8" height="0.5" fill="#fff" fill-opacity="0.12"/><rect x="934.8" y="545.41" width="29.8" height="0.5" fill="#fff" fill-opacity="0.12"/><rect x="934.8" y="549.84" width="29.8" height="0.5" fill="#fff" fill-opacity="0.12"/><rect x="934.8" y="554.26" width="29.8" height="0.5" fill="#fff" fill-opacity="0.12"/><rect x="934.8" y="558.69" width="29.8" height="0.5" fill="#fff" fill-opacity="0.12"/><rect x="934.8" y="563.11" width="29.8" height="0.5" fill="#fff" fill-opacity="0.12"/><rect x="934.8" y="567.53" width="29.8" height="0.5" fill="#fff" fill-opacity="0.12"/><rect x="934.8" y="571.96" width="29.8" height="0.5" fill="#fff" fill-opacity="0.12"/><rect x="934.8" y="576.38" width="29.8" height="0.5" fill="#fff" fill-opacity="0.12"/><rect x="934.8" y="580.81" width="29.8" height="0.5" fill="#fff" fill-opacity="0.12"/><rect x="934.8" y="585.23" width="29.8" height="0.5" fill="#fff" fill-opacity="0.12"/><rect x="934.8" y="589.65" width="29.8" height="0.5" fill="#fff" fill-opacity="0.12"/><rect x="934.8" y="594.08" width="29.8" height="0.5" fill="#fff" fill-opacity="0.12"/><rect x="934.8" y="598.50" width="29.8" height="0.5" fill="#fff" fill-opacity="0.12"/><rect x="934.8" y="602.93" width="29.8" height="0.5" fill="#fff" fill-opacity="0.12"/><rect x="934.8" y="607.35" width="29.8" height="0.5" fill="#fff" fill-opacity="0.12"/><rect x="934.8" y="611.77" width="29.8" height="0.5" fill="#fff" fill-opacity="0.12"/><rect x="934.8" y="616.20" width="29.8" height="0.5" fill="#fff" fill-opacity="0.12"/><rect x="934.8" y="620.62" width="29.8" height="0.5" fill="#fff" fill-opacity="0.12"/><rect x="934.8" y="625.05" width="29.8" height="0.5" fill="#fff" fill-opacity="0.12"/><rect x="934.8" y="629.47" width="29.8" height="0.5" fill="#fff" fill-opacity="0.12"/><rect x="934.8" y="633.89" width="29.8" height="0.5" fill="#fff" fill-opacity="0.12"/><rect x="934.8" y="638.32" width="29.8" height="0.5" fill="#fff" fill-opacity="0.12"/><rect x="934.8" y="642.74" width="29.8" height="0.5" fill="#fff" fill-opacity="0.12"/><rect x="934.8" y="647.17" width="29.8" height="0.5" fill="#fff" fill-opacity="0.12"/><rect x="934.8" y="651.59" width="29.8" height="0.5" fill="#fff" fill-opacity="0.12"/><rect x="934.8" y="656.01" width="29.8" height="0.5" fill="#fff" fill-opacity="0.12"/><rect x="934.8" y="660.44" width="29.8" height="0.5" fill="#fff" fill-opacity="0.12"/><rect x="934.8" y="664.86" width="29.8" height="0.5" fill="#fff" fill-opacity="0.12"/><rect x="934.8" y="669.29" width="29.8" height="0.5" fill="#fff" fill-opacity="0.12"/><rect x="934.8" y="673.71" width="29.8" height="0.5" fill="#fff" fill-opacity="0.12"/><rect x="934.8" y="678.13" width="29.8" height="0.5" fill="#fff" fill-opacity="0.12"/><rect x="934.8" y="682.56" width="29.8" height="0.5" fill="#fff" fill-opacity="0.12"/><rect x="934.8" y="686.98" width="29.8" height="0.5" fill="#fff" fill-opacity="0.12"/><rect x="934.8" y="691.41" width="29.8" height="0.5" fill="#fff" fill-opacity="0.12"/><rect x="934.8" y="695.83" width="29.8" height="0.5" fill="#fff" fill-opacity="0.12"/><rect x="934.8" y="700.25" width="29.8" height="0.5" fill="#fff" fill-opacity="0.12"/><rect x="934.8" y="704.68" width="29.8" height="0.5" fill="#fff" fill-opacity="0.12"/><rect x="934.8" y="709.10" width="29.8" height="0.5" fill="#fff" fill-opacity="0.12"/><rect x="934.8" y="713.53" width="29.8" height="0.5" fill="#fff" fill-opacity="0.12"/><text transform="translate(976.6 394.7) scale(1 1.08)" font-size="21" font-weight="normal" font-style="normal" >0.5</text><text transform="translate(976.6 505.7) scale(1 1.08)" font-size="21" font-weight="normal" font-style="normal" >0</text><text transform="translate(975.6 616.8) scale(1 1.08)" font-size="21" font-weight="normal" font-style="normal" >-0.5</text><text transform="translate(1023.2 550.3) rotate(-90)" font-size="18" font-style="italic">Activation value</text><text transform="translate(1045.3 290.8) scale(1 1.05)" font-size="21" font-weight="bold" font-style="normal" >Sex</text><rect x="1045.3" y="298.8" width="30.3" height="29.9" fill="#18d9c0"/><rect x="1045.3" y="328.7" width="30.3" height="29.8" fill="#d917d9"/><text transform="translate(1081.4 320.8) scale(1 1.08)" font-size="21" font-weight="normal" font-style="normal" >Male</text><text transform="translate(1081.4 350.9) scale(1 1.08)" font-size="21" font-weight="normal" font-style="normal" >Female</text><text transform="translate(1170.6 292.3) scale(1 1.05)" font-size="21" font-weight="bold" letter-spacing="0.12"><tspan font-style="italic">In silico</tspan> response</text><rect x="1170.5" y="300" width="30" height="29.9" fill="#fc9535"/><rect x="1170.5" y="329.9" width="30" height="29.9" fill="#a0a0a0"/><text transform="translate(1205.9 322.6) scale(1 1.08)" font-size="21" font-weight="normal" font-style="normal" >Poor</text><text transform="translate(1205.9 352.6) scale(1 1.08)" font-size="21" font-weight="normal" font-style="normal" >Good</text><text transform="translate(1045.0 396.7) scale(1 1.05)" font-size="21" font-weight="bold" font-style="normal" >Age</text><rect x="1045.3" y="404.4" width="30.2" height="30" fill="#8856a7"/><rect x="1045.3" y="434.4" width="30.2" height="30" fill="#8c96c6"/><rect x="1045.3" y="464.4" width="30.2" height="30" fill="#b3cde3"/><rect x="1045.3" y="494.4" width="30.2" height="30" fill="#edf8fb"/><text transform="translate(1081.0 426.0) scale(1 1.08)" font-size="21" font-weight="normal" font-style="normal" >85</text><text transform="translate(1081.0 516.8) scale(1 1.08)" font-size="21" font-weight="normal" font-style="normal" >70</text><text transform="translate(1045.4 562.8) scale(1 1.05)" font-size="21" font-weight="bold" font-style="normal" >Mean TSignal</text><rect x="1045.6" y="570.50" width="29.7" height="30.1" fill="#2ca25f"/><rect x="1045.6" y="600.53" width="29.7" height="30.1" fill="#66c2a4"/><rect x="1045.6" y="630.56" width="29.7" height="30.1" fill="#b2e2e2"/><rect x="1045.6" y="660.59" width="29.7" height="30.1" fill="#edf8fb"/><text transform="translate(1081.0 592.5) scale(1 1.08)" font-size="21" font-weight="normal" font-style="normal" >0.44</text><text transform="translate(1081.0 683.4) scale(1 1.08)" font-size="21" font-weight="normal" font-style="normal" >0.39</text></svg></div></body></html>
